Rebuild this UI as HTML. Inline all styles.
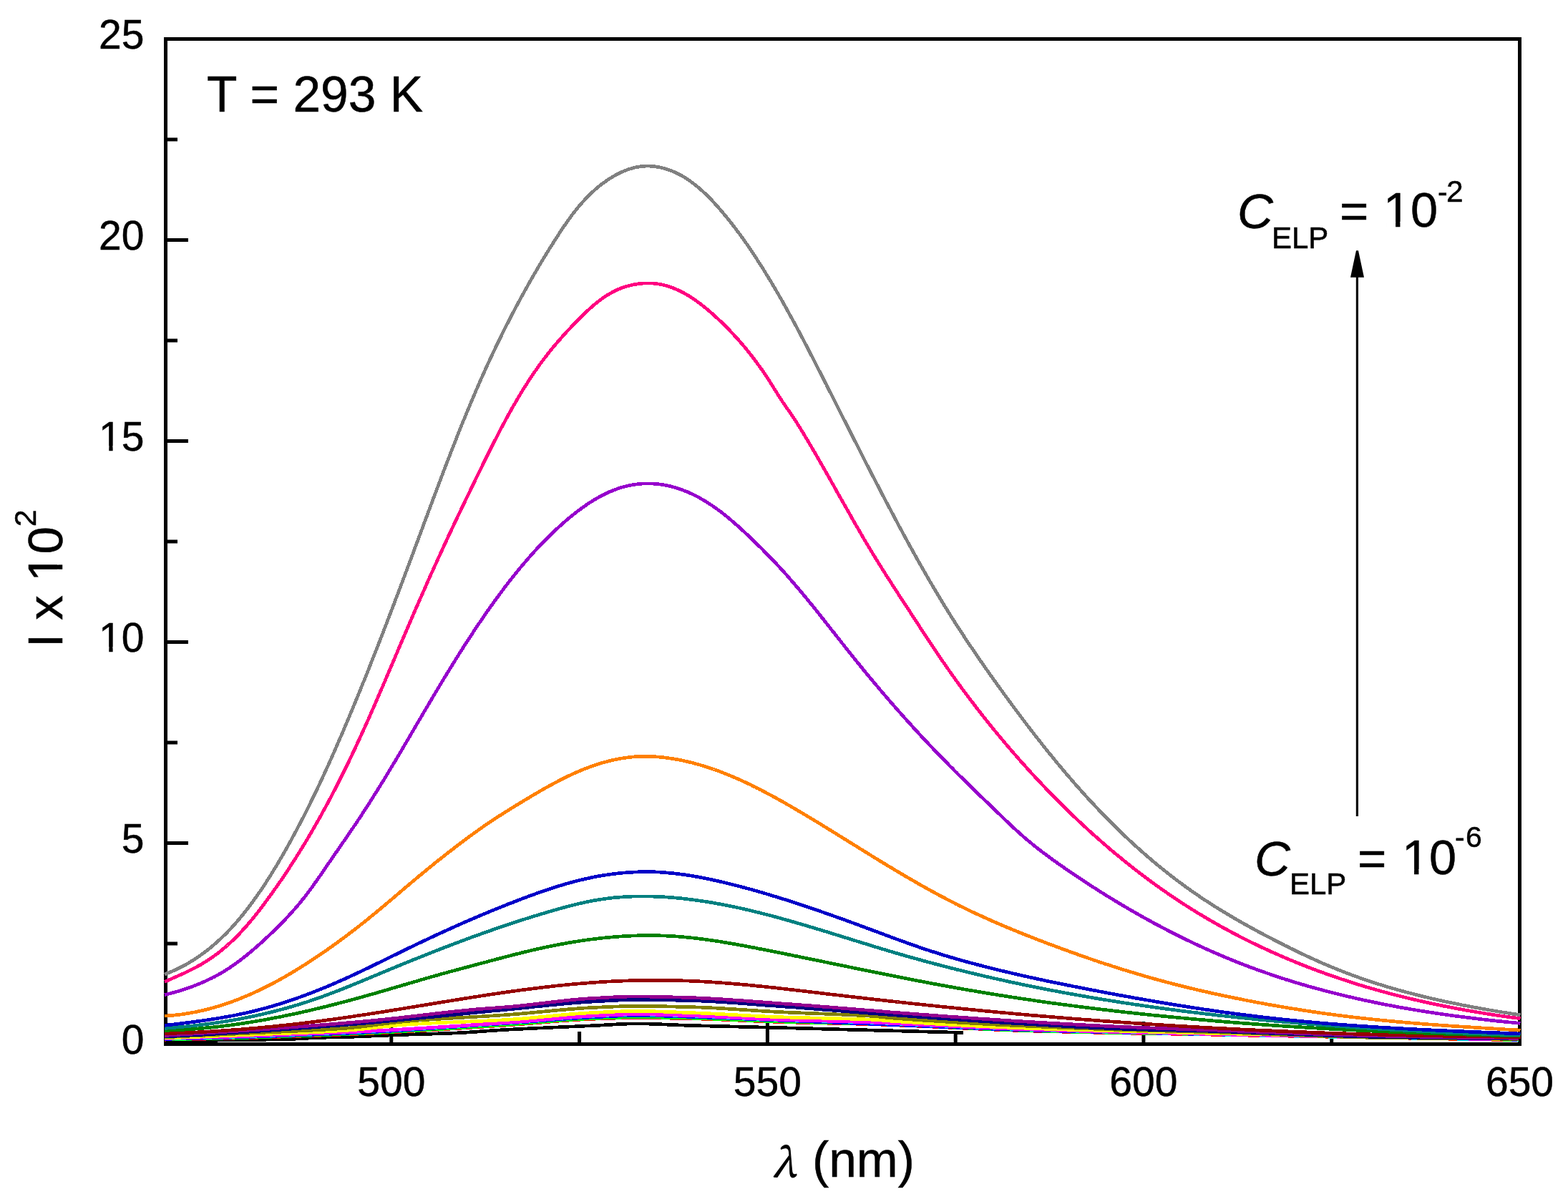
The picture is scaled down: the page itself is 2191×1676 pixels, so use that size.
<!DOCTYPE html>
<html><head><meta charset="utf-8"><style>
html,body{margin:0;padding:0;background:#fff;}
svg{display:block;}
</style></head><body>
<svg xmlns="http://www.w3.org/2000/svg" width="2191" height="1676" viewBox="0 0 2191 1676">
<rect width="2191" height="1676" fill="#ffffff"/>
<rect x="231.5" y="54.5" width="1892.0" height="1405.0" fill="none" stroke="#000" stroke-width="5"/>
<path d="M234 1178.5H263M234 897.5H263M234 616.5H263M234 335.5H263M234 1319.0H248M234 1038.0H248M234 757.0H248M234 476.0H248M234 195.0H248M546.8 1457V1428M1072.4 1457V1428M1597.9 1457V1428M284.1 1457V1442M809.6 1457V1442M1335.2 1457V1442M1860.7 1457V1442" stroke="#000" stroke-width="5" fill="none"/>
<g fill="none" stroke-width="4.7" stroke-linejoin="round" stroke-linecap="butt" shape-rendering="crispEdges">
<path d="M230.0 1455.0L234.0 1455.0L238.0 1454.9L242.0 1454.9L246.0 1454.8L250.0 1454.8L254.0 1454.8L258.0 1454.7L262.0 1454.7L266.0 1454.6L270.0 1454.6L274.0 1454.5L278.0 1454.5L282.0 1454.4L286.0 1454.4L290.0 1454.3L294.0 1454.3L298.0 1454.2L302.0 1454.2L306.0 1454.1L310.0 1454.1L314.0 1454.0L318.0 1454.0L322.0 1453.9L326.0 1453.9L330.0 1453.8L334.0 1453.7L338.0 1453.7L342.0 1453.6L346.0 1453.6L350.0 1453.5L354.0 1453.4L358.0 1453.4L362.0 1453.3L366.0 1453.3L370.0 1453.2L374.0 1453.1L378.0 1453.1L382.0 1453.0L386.0 1452.9L390.0 1452.9L394.0 1452.8L398.0 1452.7L402.0 1452.6L406.0 1452.4L410.0 1452.3L414.0 1452.1L418.0 1451.9L422.0 1451.7L426.0 1451.5L430.0 1451.2L434.0 1451.0L438.0 1450.8L442.0 1450.6L446.0 1450.4L450.0 1450.3L454.0 1450.2L458.0 1450.1L462.0 1450.0L466.0 1449.9L470.0 1449.8L474.0 1449.8L478.0 1449.7L482.0 1449.5L486.0 1449.4L490.0 1449.3L494.0 1449.2L498.0 1449.0L502.0 1448.9L506.0 1448.7L510.0 1448.5L514.0 1448.4L518.0 1448.2L522.0 1448.0L526.0 1447.9L530.0 1447.7L534.0 1447.5L538.0 1447.4L542.0 1447.2L546.0 1447.0L550.0 1446.9L554.0 1446.7L558.0 1446.6L562.0 1446.4L566.0 1446.3L570.0 1446.2L574.0 1446.0L578.0 1445.9L582.0 1445.8L586.0 1445.7L590.0 1445.5L594.0 1445.4L598.0 1445.3L602.0 1445.2L606.0 1445.1L610.0 1444.9L614.0 1444.8L618.0 1444.7L622.0 1444.5L626.0 1444.4L630.0 1444.2L634.0 1444.1L638.0 1443.9L642.0 1443.7L646.0 1443.5L650.0 1443.3L654.0 1443.0L658.0 1442.7L662.0 1442.5L666.0 1442.2L670.0 1441.9L674.0 1441.6L678.0 1441.3L682.0 1441.0L686.0 1440.7L690.0 1440.4L694.0 1440.2L698.0 1439.9L702.0 1439.7L706.0 1439.5L710.0 1439.2L714.0 1439.0L718.0 1438.8L722.0 1438.6L726.0 1438.4L730.0 1438.2L734.0 1438.0L738.0 1437.8L742.0 1437.6L746.0 1437.4L750.0 1437.2L754.0 1437.0L758.0 1436.9L762.0 1436.7L766.0 1436.5L770.0 1436.3L774.0 1436.1L778.0 1435.9L782.0 1435.8L786.0 1435.6L790.0 1435.4L794.0 1435.2L798.0 1435.0L802.0 1434.9L806.0 1434.7L810.0 1434.5L814.0 1434.3L818.0 1434.1L822.0 1434.0L826.0 1433.8L830.0 1433.6L834.0 1433.4L838.0 1433.2L842.0 1433.0L846.0 1432.7L850.0 1432.5L854.0 1432.3L858.0 1432.0L862.0 1431.8L866.0 1431.6L870.0 1431.4L874.0 1431.2L878.0 1431.1L882.0 1431.0L886.0 1430.9L890.0 1430.9L894.0 1430.9L898.0 1431.0L902.0 1431.0L906.0 1431.1L910.0 1431.3L914.0 1431.4L918.0 1431.5L922.0 1431.7L926.0 1431.9L930.0 1432.1L934.0 1432.2L938.0 1432.4L942.0 1432.6L946.0 1432.8L950.0 1432.9L954.0 1433.1L958.0 1433.2L962.0 1433.4L966.0 1433.5L970.0 1433.6L974.0 1433.7L978.0 1433.8L982.0 1433.9L986.0 1434.0L990.0 1434.1L994.0 1434.2L998.0 1434.3L1002.0 1434.4L1006.0 1434.5L1010.0 1434.6L1014.0 1434.7L1018.0 1434.8L1022.0 1434.9L1026.0 1435.0L1030.0 1435.1L1034.0 1435.2L1038.0 1435.3L1042.0 1435.4L1046.0 1435.5L1050.0 1435.6L1054.0 1435.7L1058.0 1435.8L1062.0 1435.9L1066.0 1436.0L1070.0 1436.1L1074.0 1436.2L1078.0 1436.3L1082.0 1436.4L1086.0 1436.5L1090.0 1436.6L1094.0 1436.7L1098.0 1436.8L1102.0 1436.9L1106.0 1437.0L1110.0 1437.1L1114.0 1437.2L1118.0 1437.3L1122.0 1437.4L1126.0 1437.6L1130.0 1437.7L1134.0 1437.8L1138.0 1437.9L1142.0 1438.0L1146.0 1438.1L1150.0 1438.2L1154.0 1438.3L1158.0 1438.4L1162.0 1438.5L1166.0 1438.6L1170.0 1438.7L1174.0 1438.9L1178.0 1439.0L1182.0 1439.1L1186.0 1439.2L1190.0 1439.3L1194.0 1439.4L1198.0 1439.5L1202.0 1439.6L1206.0 1439.7L1210.0 1439.8L1214.0 1439.9L1218.0 1440.0L1222.0 1440.2L1226.0 1440.3L1230.0 1440.4L1234.0 1440.5L1238.0 1440.6L1242.0 1440.7L1246.0 1440.8L1250.0 1440.9L1254.0 1441.0L1258.0 1441.1L1262.0 1441.2L1266.0 1441.3L1270.0 1441.4L1274.0 1441.5L1278.0 1441.6L1282.0 1441.8L1286.0 1441.9L1290.0 1442.0L1294.0 1442.1L1298.0 1442.2L1302.0 1442.3L1306.0 1442.4L1310.0 1442.5L1314.0 1442.6L1318.0 1442.7L1322.0 1442.8L1326.0 1442.9L1330.0 1443.0L1334.0 1443.1L1338.0 1443.2L1342.0 1443.3L1346.0 1443.4L1346.0 1443.4" stroke="#000000"/>
<path d="M230.0 1453.2L234.0 1453.1L238.0 1453.1L242.0 1453.0L246.0 1453.0L250.0 1452.9L254.0 1452.8L258.0 1452.7L262.0 1452.7L266.0 1452.6L270.0 1452.5L274.0 1452.4L278.0 1452.3L282.0 1452.3L286.0 1452.2L290.0 1452.1L294.0 1452.0L298.0 1451.9L302.0 1451.8L306.0 1451.7L310.0 1451.6L314.0 1451.5L318.0 1451.4L322.0 1451.3L326.0 1451.2L330.0 1451.1L334.0 1451.0L338.0 1450.9L342.0 1450.7L346.0 1450.6L350.0 1450.5L354.0 1450.4L358.0 1450.3L362.0 1450.1L366.0 1450.0L370.0 1449.9L374.0 1449.8L378.0 1449.6L382.0 1449.5L386.0 1449.4L390.0 1449.2L394.0 1449.1L398.0 1449.0L402.0 1448.8L406.0 1448.7L410.0 1448.6L414.0 1448.4L418.0 1448.3L422.0 1448.1L426.0 1448.0L430.0 1447.9L434.0 1447.7L438.0 1447.6L442.0 1447.4L446.0 1447.3L450.0 1447.1L454.0 1447.0L458.0 1446.8L462.0 1446.7L466.0 1446.5L470.0 1446.4L474.0 1446.2L478.0 1446.1L482.0 1445.9L486.0 1445.8L490.0 1445.6L494.0 1445.4L498.0 1445.3L502.0 1445.1L506.0 1444.9L510.0 1444.7L514.0 1444.6L518.0 1444.4L522.0 1444.2L526.0 1444.0L530.0 1443.8L534.0 1443.6L538.0 1443.4L542.0 1443.2L546.0 1443.0L550.0 1442.8L554.0 1442.5L558.0 1442.3L562.0 1442.1L566.0 1441.9L570.0 1441.7L574.0 1441.4L578.0 1441.2L582.0 1441.0L586.0 1440.7L590.0 1440.5L594.0 1440.3L598.0 1440.0L602.0 1439.8L606.0 1439.5L610.0 1439.3L614.0 1439.1L618.0 1438.8L622.0 1438.6L626.0 1438.3L630.0 1438.1L634.0 1437.8L638.0 1437.6L642.0 1437.3L646.0 1437.1L650.0 1436.8L654.0 1436.6L658.0 1436.3L662.0 1436.0L666.0 1435.8L670.0 1435.5L674.0 1435.3L678.0 1435.0L682.0 1434.8L686.0 1434.5L690.0 1434.2L694.0 1434.0L698.0 1433.7L702.0 1433.5L706.0 1433.2L710.0 1432.9L714.0 1432.6L718.0 1432.3L722.0 1432.0L726.0 1431.7L730.0 1431.4L734.0 1431.1L738.0 1430.7L742.0 1430.4L746.0 1430.1L750.0 1429.7L754.0 1429.4L758.0 1429.0L762.0 1428.7L766.0 1428.4L770.0 1428.0L774.0 1427.7L778.0 1427.4L782.0 1427.1L786.0 1426.8L790.0 1426.5L794.0 1426.2L798.0 1425.9L802.0 1425.7L806.0 1425.4L810.0 1425.2L814.0 1424.9L818.0 1424.7L822.0 1424.5L826.0 1424.4L830.0 1424.2L834.0 1424.1L838.0 1423.9L842.0 1423.8L846.0 1423.6L850.0 1423.5L854.0 1423.3L858.0 1423.2L862.0 1423.1L866.0 1423.0L870.0 1422.9L874.0 1422.8L878.0 1422.7L882.0 1422.6L886.0 1422.6L890.0 1422.6L894.0 1422.6L898.0 1422.6L902.0 1422.6L906.0 1422.7L910.0 1422.7L914.0 1422.8L918.0 1422.8L922.0 1422.9L926.0 1422.9L930.0 1423.0L934.0 1423.1L938.0 1423.2L942.0 1423.2L946.0 1423.3L950.0 1423.4L954.0 1423.5L958.0 1423.6L962.0 1423.6L966.0 1423.7L970.0 1423.8L974.0 1423.9L978.0 1424.1L982.0 1424.2L986.0 1424.3L990.0 1424.5L994.0 1424.6L998.0 1424.8L1002.0 1424.9L1006.0 1425.1L1010.0 1425.2L1014.0 1425.4L1018.0 1425.6L1022.0 1425.7L1026.0 1425.9L1030.0 1426.1L1034.0 1426.3L1038.0 1426.5L1042.0 1426.6L1046.0 1426.8L1050.0 1427.0L1054.0 1427.2L1058.0 1427.3L1062.0 1427.5L1066.0 1427.6L1070.0 1427.8L1074.0 1428.0L1078.0 1428.1L1082.0 1428.2L1086.0 1428.4L1090.0 1428.5L1094.0 1428.6L1098.0 1428.7L1102.0 1428.8L1106.0 1429.0L1110.0 1429.1L1114.0 1429.2L1118.0 1429.3L1122.0 1429.4L1126.0 1429.5L1130.0 1429.6L1134.0 1429.7L1138.0 1429.8L1142.0 1429.8L1146.0 1429.9L1150.0 1430.0L1154.0 1430.1L1158.0 1430.2L1162.0 1430.3L1166.0 1430.4L1170.0 1430.5L1174.0 1430.6L1178.0 1430.7L1182.0 1430.8L1186.0 1430.9L1190.0 1431.0L1194.0 1431.1L1198.0 1431.2L1202.0 1431.3L1206.0 1431.4L1210.0 1431.5L1214.0 1431.6L1218.0 1431.7L1222.0 1431.9L1226.0 1432.0L1230.0 1432.1L1234.0 1432.3L1238.0 1432.4L1242.0 1432.5L1246.0 1432.7L1250.0 1432.8L1254.0 1433.0L1258.0 1433.2L1262.0 1433.3L1266.0 1433.5L1270.0 1433.7L1274.0 1433.8L1278.0 1434.0L1282.0 1434.2L1286.0 1434.4L1290.0 1434.5L1294.0 1434.7L1298.0 1434.9L1302.0 1435.1L1306.0 1435.3L1310.0 1435.5L1314.0 1435.7L1318.0 1435.8L1322.0 1436.0L1326.0 1436.2L1330.0 1436.4L1334.0 1436.6L1338.0 1436.8L1342.0 1437.0L1346.0 1437.2L1350.0 1437.4L1354.0 1437.6L1358.0 1437.7L1362.0 1437.9L1366.0 1438.1L1370.0 1438.3L1374.0 1438.5L1378.0 1438.6L1382.0 1438.8L1386.0 1439.0L1390.0 1439.2L1394.0 1439.3L1398.0 1439.5L1402.0 1439.7L1406.0 1439.8L1410.0 1440.0L1414.0 1440.1L1418.0 1440.3L1422.0 1440.4L1426.0 1440.6L1430.0 1440.7L1434.0 1440.8L1438.0 1441.0L1442.0 1441.1L1446.0 1441.2L1450.0 1441.3L1454.0 1441.4L1458.0 1441.5L1462.0 1441.6L1466.0 1441.7L1470.0 1441.8L1474.0 1441.9L1478.0 1442.0L1482.0 1442.1L1486.0 1442.2L1490.0 1442.3L1494.0 1442.4L1498.0 1442.5L1502.0 1442.6L1506.0 1442.7L1510.0 1442.8L1514.0 1442.8L1518.0 1442.9L1522.0 1443.0L1526.0 1443.1L1530.0 1443.2L1534.0 1443.3L1538.0 1443.3L1542.0 1443.4L1546.0 1443.5L1550.0 1443.6L1554.0 1443.7L1558.0 1443.7L1562.0 1443.8L1566.0 1443.9L1570.0 1444.0L1574.0 1444.0L1578.0 1444.1L1582.0 1444.2L1586.0 1444.3L1590.0 1444.3L1594.0 1444.4L1598.0 1444.5L1602.0 1444.5L1606.0 1444.6L1610.0 1444.7L1614.0 1444.8L1618.0 1444.8L1622.0 1444.9L1626.0 1445.0L1630.0 1445.0L1634.0 1445.1L1638.0 1445.2L1642.0 1445.3L1646.0 1445.3L1650.0 1445.4L1654.0 1445.5L1658.0 1445.5L1662.0 1445.6L1666.0 1445.7L1670.0 1445.7L1674.0 1445.8L1678.0 1445.9L1682.0 1446.0L1686.0 1446.0L1690.0 1446.1L1694.0 1446.2L1698.0 1446.3L1702.0 1446.3L1706.0 1446.4L1710.0 1446.5L1714.0 1446.6L1718.0 1446.6L1722.0 1446.7L1726.0 1446.8L1730.0 1446.9L1734.0 1446.9L1738.0 1447.0L1742.0 1447.1L1746.0 1447.2L1750.0 1447.2L1754.0 1447.3L1758.0 1447.4L1762.0 1447.5L1766.0 1447.5L1770.0 1447.6L1774.0 1447.7L1778.0 1447.8L1782.0 1447.8L1786.0 1447.9L1790.0 1448.0L1794.0 1448.1L1798.0 1448.1L1802.0 1448.2L1806.0 1448.3L1810.0 1448.4L1814.0 1448.4L1818.0 1448.5L1822.0 1448.6L1826.0 1448.6L1830.0 1448.7L1834.0 1448.8L1838.0 1448.9L1842.0 1448.9L1846.0 1449.0L1850.0 1449.1L1854.0 1449.2L1858.0 1449.2L1862.0 1449.3L1866.0 1449.4L1870.0 1449.4L1874.0 1449.5L1878.0 1449.6L1882.0 1449.7L1886.0 1449.7L1890.0 1449.8L1894.0 1449.9L1898.0 1449.9L1902.0 1450.0L1906.0 1450.1L1910.0 1450.2L1914.0 1450.2L1918.0 1450.3L1922.0 1450.4L1926.0 1450.4L1930.0 1450.5L1934.0 1450.6L1938.0 1450.7L1942.0 1450.7L1946.0 1450.8L1950.0 1450.9L1954.0 1450.9L1958.0 1451.0L1962.0 1451.1L1966.0 1451.1L1970.0 1451.2L1974.0 1451.3L1978.0 1451.4L1982.0 1451.4L1986.0 1451.5L1990.0 1451.6L1994.0 1451.6L1998.0 1451.7L2002.0 1451.8L2006.0 1451.8L2010.0 1451.9L2014.0 1452.0L2018.0 1452.0L2022.0 1452.1L2026.0 1452.2L2030.0 1452.3L2034.0 1452.3L2038.0 1452.4L2042.0 1452.5L2046.0 1452.5L2050.0 1452.6L2054.0 1452.7L2058.0 1452.7L2062.0 1452.8L2066.0 1452.9L2070.0 1452.9L2074.0 1453.0L2078.0 1453.1L2082.0 1453.1L2086.0 1453.2L2090.0 1453.3L2094.0 1453.3L2098.0 1453.4L2102.0 1453.5L2106.0 1453.5L2110.0 1453.6L2114.0 1453.7L2118.0 1453.7L2122.0 1453.8L2122.0 1453.8" stroke="#ff0000"/>
<path d="M230.0 1452.8L234.0 1452.7L238.0 1452.7L242.0 1452.6L246.0 1452.5L250.0 1452.5L254.0 1452.4L258.0 1452.3L262.0 1452.3L266.0 1452.2L270.0 1452.1L274.0 1452.0L278.0 1451.9L282.0 1451.8L286.0 1451.8L290.0 1451.7L294.0 1451.6L298.0 1451.5L302.0 1451.4L306.0 1451.3L310.0 1451.2L314.0 1451.1L318.0 1451.0L322.0 1450.9L326.0 1450.8L330.0 1450.6L334.0 1450.5L338.0 1450.4L342.0 1450.3L346.0 1450.2L350.0 1450.1L354.0 1449.9L358.0 1449.8L362.0 1449.7L366.0 1449.6L370.0 1449.4L374.0 1449.3L378.0 1449.2L382.0 1449.1L386.0 1448.9L390.0 1448.8L394.0 1448.7L398.0 1448.5L402.0 1448.4L406.0 1448.2L410.0 1448.1L414.0 1448.0L418.0 1447.8L422.0 1447.7L426.0 1447.5L430.0 1447.4L434.0 1447.2L438.0 1447.1L442.0 1446.9L446.0 1446.8L450.0 1446.6L454.0 1446.5L458.0 1446.3L462.0 1446.2L466.0 1446.0L470.0 1445.9L474.0 1445.7L478.0 1445.6L482.0 1445.4L486.0 1445.3L490.0 1445.1L494.0 1444.9L498.0 1444.8L502.0 1444.6L506.0 1444.4L510.0 1444.2L514.0 1444.0L518.0 1443.9L522.0 1443.7L526.0 1443.5L530.0 1443.3L534.0 1443.1L538.0 1442.9L542.0 1442.7L546.0 1442.4L550.0 1442.2L554.0 1442.0L558.0 1441.8L562.0 1441.6L566.0 1441.3L570.0 1441.1L574.0 1440.9L578.0 1440.7L582.0 1440.4L586.0 1440.2L590.0 1440.0L594.0 1439.7L598.0 1439.5L602.0 1439.2L606.0 1439.0L610.0 1438.8L614.0 1438.5L618.0 1438.3L622.0 1438.0L626.0 1437.8L630.0 1437.5L634.0 1437.3L638.0 1437.0L642.0 1436.7L646.0 1436.5L650.0 1436.2L654.0 1436.0L658.0 1435.7L662.0 1435.5L666.0 1435.2L670.0 1434.9L674.0 1434.7L678.0 1434.4L682.0 1434.2L686.0 1433.9L690.0 1433.6L694.0 1433.4L698.0 1433.1L702.0 1432.9L706.0 1432.6L710.0 1432.3L714.0 1432.0L718.0 1431.7L722.0 1431.4L726.0 1431.1L730.0 1430.8L734.0 1430.4L738.0 1430.1L742.0 1429.8L746.0 1429.4L750.0 1429.1L754.0 1428.8L758.0 1428.4L762.0 1428.1L766.0 1427.7L770.0 1427.4L774.0 1427.1L778.0 1426.8L782.0 1426.4L786.0 1426.1L790.0 1425.8L794.0 1425.5L798.0 1425.3L802.0 1425.0L806.0 1424.7L810.0 1424.5L814.0 1424.3L818.0 1424.0L822.0 1423.8L826.0 1423.7L830.0 1423.5L834.0 1423.3L838.0 1423.2L842.0 1423.0L846.0 1422.9L850.0 1422.7L854.0 1422.6L858.0 1422.4L862.0 1422.3L866.0 1422.2L870.0 1422.1L874.0 1422.0L878.0 1421.9L882.0 1421.8L886.0 1421.8L890.0 1421.8L894.0 1421.8L898.0 1421.8L902.0 1421.9L906.0 1421.9L910.0 1421.9L914.0 1422.0L918.0 1422.1L922.0 1422.1L926.0 1422.2L930.0 1422.3L934.0 1422.4L938.0 1422.5L942.0 1422.6L946.0 1422.7L950.0 1422.8L954.0 1422.9L958.0 1423.0L962.0 1423.0L966.0 1423.1L970.0 1423.3L974.0 1423.4L978.0 1423.5L982.0 1423.6L986.0 1423.8L990.0 1423.9L994.0 1424.1L998.0 1424.2L1002.0 1424.4L1006.0 1424.5L1010.0 1424.7L1014.0 1424.9L1018.0 1425.1L1022.0 1425.2L1026.0 1425.4L1030.0 1425.6L1034.0 1425.8L1038.0 1425.9L1042.0 1426.1L1046.0 1426.3L1050.0 1426.5L1054.0 1426.6L1058.0 1426.8L1062.0 1427.0L1066.0 1427.1L1070.0 1427.3L1074.0 1427.4L1078.0 1427.6L1082.0 1427.7L1086.0 1427.9L1090.0 1428.0L1094.0 1428.1L1098.0 1428.2L1102.0 1428.4L1106.0 1428.5L1110.0 1428.6L1114.0 1428.7L1118.0 1428.8L1122.0 1428.9L1126.0 1429.0L1130.0 1429.1L1134.0 1429.2L1138.0 1429.3L1142.0 1429.4L1146.0 1429.5L1150.0 1429.6L1154.0 1429.7L1158.0 1429.8L1162.0 1429.9L1166.0 1430.0L1170.0 1430.1L1174.0 1430.1L1178.0 1430.2L1182.0 1430.3L1186.0 1430.4L1190.0 1430.5L1194.0 1430.7L1198.0 1430.8L1202.0 1430.9L1206.0 1431.0L1210.0 1431.1L1214.0 1431.2L1218.0 1431.3L1222.0 1431.5L1226.0 1431.6L1230.0 1431.7L1234.0 1431.9L1238.0 1432.0L1242.0 1432.2L1246.0 1432.3L1250.0 1432.5L1254.0 1432.6L1258.0 1432.8L1262.0 1433.0L1266.0 1433.1L1270.0 1433.3L1274.0 1433.5L1278.0 1433.6L1282.0 1433.8L1286.0 1434.0L1290.0 1434.2L1294.0 1434.4L1298.0 1434.6L1302.0 1434.7L1306.0 1434.9L1310.0 1435.1L1314.0 1435.3L1318.0 1435.5L1322.0 1435.7L1326.0 1435.9L1330.0 1436.1L1334.0 1436.3L1338.0 1436.5L1342.0 1436.7L1346.0 1436.8L1350.0 1437.0L1354.0 1437.2L1358.0 1437.4L1362.0 1437.6L1366.0 1437.8L1370.0 1438.0L1374.0 1438.2L1378.0 1438.3L1382.0 1438.5L1386.0 1438.7L1390.0 1438.9L1394.0 1439.0L1398.0 1439.2L1402.0 1439.4L1406.0 1439.5L1410.0 1439.7L1414.0 1439.8L1418.0 1440.0L1422.0 1440.1L1426.0 1440.3L1430.0 1440.4L1434.0 1440.5L1438.0 1440.7L1442.0 1440.8L1446.0 1440.9L1450.0 1441.0L1454.0 1441.1L1458.0 1441.2L1462.0 1441.3L1466.0 1441.4L1470.0 1441.5L1474.0 1441.6L1478.0 1441.7L1482.0 1441.8L1486.0 1441.9L1490.0 1442.0L1494.0 1442.1L1498.0 1442.2L1502.0 1442.3L1506.0 1442.4L1510.0 1442.5L1514.0 1442.5L1518.0 1442.6L1522.0 1442.7L1526.0 1442.8L1530.0 1442.9L1534.0 1443.0L1538.0 1443.0L1542.0 1443.1L1546.0 1443.2L1550.0 1443.3L1554.0 1443.4L1558.0 1443.4L1562.0 1443.5L1566.0 1443.6L1570.0 1443.7L1574.0 1443.7L1578.0 1443.8L1582.0 1443.9L1586.0 1444.0L1590.0 1444.0L1594.0 1444.1L1598.0 1444.2L1602.0 1444.2L1606.0 1444.3L1610.0 1444.4L1614.0 1444.5L1618.0 1444.5L1622.0 1444.6L1626.0 1444.7L1630.0 1444.7L1634.0 1444.8L1638.0 1444.9L1642.0 1445.0L1646.0 1445.0L1650.0 1445.1L1654.0 1445.2L1658.0 1445.2L1662.0 1445.3L1666.0 1445.4L1670.0 1445.4L1674.0 1445.5L1678.0 1445.6L1682.0 1445.7L1686.0 1445.7L1690.0 1445.8L1694.0 1445.9L1698.0 1446.0L1702.0 1446.0L1706.0 1446.1L1710.0 1446.2L1714.0 1446.3L1718.0 1446.3L1722.0 1446.4L1726.0 1446.5L1730.0 1446.6L1734.0 1446.6L1738.0 1446.7L1742.0 1446.8L1746.0 1446.9L1750.0 1446.9L1754.0 1447.0L1758.0 1447.1L1762.0 1447.2L1766.0 1447.2L1770.0 1447.3L1774.0 1447.4L1778.0 1447.5L1782.0 1447.5L1786.0 1447.6L1790.0 1447.7L1794.0 1447.8L1798.0 1447.8L1802.0 1447.9L1806.0 1448.0L1810.0 1448.1L1814.0 1448.1L1818.0 1448.2L1822.0 1448.3L1826.0 1448.3L1830.0 1448.4L1834.0 1448.5L1838.0 1448.6L1842.0 1448.6L1846.0 1448.7L1850.0 1448.8L1854.0 1448.9L1858.0 1448.9L1862.0 1449.0L1866.0 1449.1L1870.0 1449.1L1874.0 1449.2L1878.0 1449.3L1882.0 1449.4L1886.0 1449.4L1890.0 1449.5L1894.0 1449.6L1898.0 1449.6L1902.0 1449.7L1906.0 1449.8L1910.0 1449.9L1914.0 1449.9L1918.0 1450.0L1922.0 1450.1L1926.0 1450.1L1930.0 1450.2L1934.0 1450.3L1938.0 1450.4L1942.0 1450.4L1946.0 1450.5L1950.0 1450.6L1954.0 1450.6L1958.0 1450.7L1962.0 1450.8L1966.0 1450.8L1970.0 1450.9L1974.0 1451.0L1978.0 1451.1L1982.0 1451.1L1986.0 1451.2L1990.0 1451.3L1994.0 1451.3L1998.0 1451.4L2002.0 1451.5L2006.0 1451.5L2010.0 1451.6L2014.0 1451.7L2018.0 1451.7L2022.0 1451.8L2026.0 1451.9L2030.0 1452.0L2034.0 1452.0L2038.0 1452.1L2042.0 1452.2L2046.0 1452.2L2050.0 1452.3L2054.0 1452.4L2058.0 1452.4L2062.0 1452.5L2066.0 1452.6L2070.0 1452.6L2074.0 1452.7L2078.0 1452.8L2082.0 1452.8L2086.0 1452.9L2090.0 1453.0L2094.0 1453.0L2098.0 1453.1L2102.0 1453.2L2106.0 1453.2L2110.0 1453.3L2114.0 1453.4L2118.0 1453.4L2122.0 1453.5L2122.0 1453.5" stroke="#00ff00"/>
<path d="M230.0 1452.3L234.0 1452.2L238.0 1452.2L242.0 1452.1L246.0 1452.0L250.0 1452.0L254.0 1451.9L258.0 1451.8L262.0 1451.7L266.0 1451.6L270.0 1451.6L274.0 1451.5L278.0 1451.4L282.0 1451.3L286.0 1451.2L290.0 1451.1L294.0 1451.0L298.0 1450.9L302.0 1450.8L306.0 1450.7L310.0 1450.6L314.0 1450.5L318.0 1450.4L322.0 1450.2L326.0 1450.1L330.0 1450.0L334.0 1449.9L338.0 1449.8L342.0 1449.6L346.0 1449.5L350.0 1449.4L354.0 1449.3L358.0 1449.1L362.0 1449.0L366.0 1448.9L370.0 1448.7L374.0 1448.6L378.0 1448.5L382.0 1448.3L386.0 1448.2L390.0 1448.0L394.0 1447.9L398.0 1447.7L402.0 1447.6L406.0 1447.4L410.0 1447.3L414.0 1447.1L418.0 1447.0L422.0 1446.8L426.0 1446.7L430.0 1446.5L434.0 1446.4L438.0 1446.2L442.0 1446.0L446.0 1445.9L450.0 1445.7L454.0 1445.6L458.0 1445.4L462.0 1445.2L466.0 1445.1L470.0 1444.9L474.0 1444.7L478.0 1444.6L482.0 1444.4L486.0 1444.2L490.0 1444.1L494.0 1443.9L498.0 1443.7L502.0 1443.5L506.0 1443.3L510.0 1443.1L514.0 1442.9L518.0 1442.7L522.0 1442.5L526.0 1442.3L530.0 1442.1L534.0 1441.8L538.0 1441.6L542.0 1441.4L546.0 1441.2L550.0 1440.9L554.0 1440.7L558.0 1440.4L562.0 1440.2L566.0 1439.9L570.0 1439.7L574.0 1439.4L578.0 1439.2L582.0 1438.9L586.0 1438.7L590.0 1438.4L594.0 1438.2L598.0 1437.9L602.0 1437.6L606.0 1437.4L610.0 1437.1L614.0 1436.8L618.0 1436.6L622.0 1436.3L626.0 1436.0L630.0 1435.8L634.0 1435.5L638.0 1435.2L642.0 1434.9L646.0 1434.7L650.0 1434.4L654.0 1434.1L658.0 1433.8L662.0 1433.6L666.0 1433.3L670.0 1433.0L674.0 1432.7L678.0 1432.5L682.0 1432.2L686.0 1431.9L690.0 1431.7L694.0 1431.4L698.0 1431.1L702.0 1430.9L706.0 1430.6L710.0 1430.3L714.0 1430.0L718.0 1429.7L722.0 1429.4L726.0 1429.1L730.0 1428.8L734.0 1428.5L738.0 1428.2L742.0 1427.9L746.0 1427.6L750.0 1427.3L754.0 1427.0L758.0 1426.7L762.0 1426.3L766.0 1426.0L770.0 1425.7L774.0 1425.4L778.0 1425.1L782.0 1424.8L786.0 1424.5L790.0 1424.2L794.0 1424.0L798.0 1423.7L802.0 1423.4L806.0 1423.2L810.0 1422.9L814.0 1422.7L818.0 1422.4L822.0 1422.2L826.0 1422.0L830.0 1421.8L834.0 1421.6L838.0 1421.4L842.0 1421.2L846.0 1421.0L850.0 1420.8L854.0 1420.6L858.0 1420.4L862.0 1420.2L866.0 1420.0L870.0 1419.9L874.0 1419.8L878.0 1419.6L882.0 1419.6L886.0 1419.5L890.0 1419.5L894.0 1419.5L898.0 1419.5L902.0 1419.6L906.0 1419.6L910.0 1419.7L914.0 1419.8L918.0 1419.9L922.0 1420.0L926.0 1420.1L930.0 1420.2L934.0 1420.4L938.0 1420.5L942.0 1420.6L946.0 1420.8L950.0 1420.9L954.0 1421.0L958.0 1421.1L962.0 1421.3L966.0 1421.4L970.0 1421.5L974.0 1421.6L978.0 1421.8L982.0 1421.9L986.0 1422.1L990.0 1422.2L994.0 1422.3L998.0 1422.5L1002.0 1422.7L1006.0 1422.8L1010.0 1423.0L1014.0 1423.1L1018.0 1423.3L1022.0 1423.5L1026.0 1423.6L1030.0 1423.8L1034.0 1424.0L1038.0 1424.1L1042.0 1424.3L1046.0 1424.5L1050.0 1424.6L1054.0 1424.8L1058.0 1425.0L1062.0 1425.2L1066.0 1425.3L1070.0 1425.5L1074.0 1425.7L1078.0 1425.8L1082.0 1426.0L1086.0 1426.1L1090.0 1426.3L1094.0 1426.5L1098.0 1426.6L1102.0 1426.8L1106.0 1426.9L1110.0 1427.1L1114.0 1427.2L1118.0 1427.4L1122.0 1427.6L1126.0 1427.7L1130.0 1427.9L1134.0 1428.0L1138.0 1428.2L1142.0 1428.3L1146.0 1428.5L1150.0 1428.7L1154.0 1428.8L1158.0 1429.0L1162.0 1429.1L1166.0 1429.3L1170.0 1429.5L1174.0 1429.6L1178.0 1429.8L1182.0 1429.9L1186.0 1430.1L1190.0 1430.2L1194.0 1430.4L1198.0 1430.6L1202.0 1430.7L1206.0 1430.9L1210.0 1431.0L1214.0 1431.2L1218.0 1431.3L1222.0 1431.5L1226.0 1431.7L1230.0 1431.8L1234.0 1432.0L1238.0 1432.1L1242.0 1432.3L1246.0 1432.4L1250.0 1432.6L1254.0 1432.8L1258.0 1432.9L1262.0 1433.1L1266.0 1433.2L1270.0 1433.4L1274.0 1433.6L1278.0 1433.7L1282.0 1433.9L1286.0 1434.1L1290.0 1434.2L1294.0 1434.4L1298.0 1434.6L1302.0 1434.7L1306.0 1434.9L1310.0 1435.1L1314.0 1435.2L1318.0 1435.4L1322.0 1435.6L1326.0 1435.7L1330.0 1435.9L1334.0 1436.1L1338.0 1436.2L1342.0 1436.4L1346.0 1436.6L1350.0 1436.7L1354.0 1436.9L1358.0 1437.1L1362.0 1437.2L1366.0 1437.4L1370.0 1437.5L1374.0 1437.7L1378.0 1437.8L1382.0 1438.0L1386.0 1438.2L1390.0 1438.3L1394.0 1438.5L1398.0 1438.6L1402.0 1438.7L1406.0 1438.9L1410.0 1439.0L1414.0 1439.2L1418.0 1439.3L1422.0 1439.4L1426.0 1439.6L1430.0 1439.7L1434.0 1439.8L1438.0 1439.9L1442.0 1440.1L1446.0 1440.2L1450.0 1440.3L1454.0 1440.4L1458.0 1440.5L1462.0 1440.6L1466.0 1440.7L1470.0 1440.8L1474.0 1441.0L1478.0 1441.1L1482.0 1441.2L1486.0 1441.3L1490.0 1441.4L1494.0 1441.5L1498.0 1441.6L1502.0 1441.7L1506.0 1441.8L1510.0 1441.9L1514.0 1441.9L1518.0 1442.0L1522.0 1442.1L1526.0 1442.2L1530.0 1442.3L1534.0 1442.4L1538.0 1442.5L1542.0 1442.6L1546.0 1442.7L1550.0 1442.8L1554.0 1442.9L1558.0 1442.9L1562.0 1443.0L1566.0 1443.1L1570.0 1443.2L1574.0 1443.3L1578.0 1443.4L1582.0 1443.5L1586.0 1443.5L1590.0 1443.6L1594.0 1443.7L1598.0 1443.8L1602.0 1443.9L1606.0 1444.0L1610.0 1444.1L1614.0 1444.1L1618.0 1444.2L1622.0 1444.3L1626.0 1444.4L1630.0 1444.5L1634.0 1444.6L1638.0 1444.7L1642.0 1444.7L1646.0 1444.8L1650.0 1444.9L1654.0 1445.0L1658.0 1445.1L1662.0 1445.2L1666.0 1445.2L1670.0 1445.3L1674.0 1445.4L1678.0 1445.5L1682.0 1445.6L1686.0 1445.7L1690.0 1445.7L1694.0 1445.8L1698.0 1445.9L1702.0 1446.0L1706.0 1446.1L1710.0 1446.2L1714.0 1446.2L1718.0 1446.3L1722.0 1446.4L1726.0 1446.5L1730.0 1446.6L1734.0 1446.6L1738.0 1446.7L1742.0 1446.8L1746.0 1446.9L1750.0 1447.0L1754.0 1447.0L1758.0 1447.1L1762.0 1447.2L1766.0 1447.3L1770.0 1447.4L1774.0 1447.4L1778.0 1447.5L1782.0 1447.6L1786.0 1447.7L1790.0 1447.8L1794.0 1447.8L1798.0 1447.9L1802.0 1448.0L1806.0 1448.1L1810.0 1448.1L1814.0 1448.2L1818.0 1448.3L1822.0 1448.4L1826.0 1448.5L1830.0 1448.5L1834.0 1448.6L1838.0 1448.7L1842.0 1448.8L1846.0 1448.8L1850.0 1448.9L1854.0 1449.0L1858.0 1449.1L1862.0 1449.1L1866.0 1449.2L1870.0 1449.3L1874.0 1449.3L1878.0 1449.4L1882.0 1449.5L1886.0 1449.6L1890.0 1449.6L1894.0 1449.7L1898.0 1449.8L1902.0 1449.9L1906.0 1449.9L1910.0 1450.0L1914.0 1450.1L1918.0 1450.1L1922.0 1450.2L1926.0 1450.3L1930.0 1450.3L1934.0 1450.4L1938.0 1450.5L1942.0 1450.5L1946.0 1450.6L1950.0 1450.7L1954.0 1450.8L1958.0 1450.8L1962.0 1450.9L1966.0 1451.0L1970.0 1451.0L1974.0 1451.1L1978.0 1451.2L1982.0 1451.2L1986.0 1451.3L1990.0 1451.3L1994.0 1451.4L1998.0 1451.5L2002.0 1451.5L2006.0 1451.6L2010.0 1451.7L2014.0 1451.7L2018.0 1451.8L2022.0 1451.9L2026.0 1451.9L2030.0 1452.0L2034.0 1452.0L2038.0 1452.1L2042.0 1452.2L2046.0 1452.2L2050.0 1452.3L2054.0 1452.3L2058.0 1452.4L2062.0 1452.5L2066.0 1452.5L2070.0 1452.6L2074.0 1452.6L2078.0 1452.7L2082.0 1452.7L2086.0 1452.8L2090.0 1452.9L2094.0 1452.9L2098.0 1453.0L2102.0 1453.0L2106.0 1453.1L2110.0 1453.1L2114.0 1453.2L2118.0 1453.2L2122.0 1453.3L2122.0 1453.3" stroke="#0000ff"/>
<path d="M230.0 1451.8L234.0 1451.7L238.0 1451.6L242.0 1451.5L246.0 1451.5L250.0 1451.4L254.0 1451.3L258.0 1451.2L262.0 1451.1L266.0 1451.0L270.0 1450.9L274.0 1450.8L278.0 1450.7L282.0 1450.5L286.0 1450.4L290.0 1450.3L294.0 1450.2L298.0 1450.1L302.0 1450.0L306.0 1449.9L310.0 1449.7L314.0 1449.6L318.0 1449.5L322.0 1449.4L326.0 1449.2L330.0 1449.1L334.0 1449.0L338.0 1448.8L342.0 1448.7L346.0 1448.6L350.0 1448.4L354.0 1448.3L358.0 1448.2L362.0 1448.0L366.0 1447.9L370.0 1447.7L374.0 1447.6L378.0 1447.4L382.0 1447.3L386.0 1447.1L390.0 1447.0L394.0 1446.8L398.0 1446.7L402.0 1446.5L406.0 1446.4L410.0 1446.2L414.0 1446.1L418.0 1445.9L422.0 1445.7L426.0 1445.6L430.0 1445.4L434.0 1445.2L438.0 1445.1L442.0 1444.9L446.0 1444.7L450.0 1444.6L454.0 1444.4L458.0 1444.2L462.0 1444.1L466.0 1443.9L470.0 1443.7L474.0 1443.6L478.0 1443.4L482.0 1443.2L486.0 1443.0L490.0 1442.9L494.0 1442.7L498.0 1442.5L502.0 1442.3L506.0 1442.1L510.0 1441.9L514.0 1441.7L518.0 1441.5L522.0 1441.3L526.0 1441.1L530.0 1440.9L534.0 1440.7L538.0 1440.5L542.0 1440.3L546.0 1440.0L550.0 1439.8L554.0 1439.6L558.0 1439.4L562.0 1439.1L566.0 1438.9L570.0 1438.7L574.0 1438.4L578.0 1438.2L582.0 1438.0L586.0 1437.7L590.0 1437.5L594.0 1437.2L598.0 1437.0L602.0 1436.7L606.0 1436.5L610.0 1436.2L614.0 1436.0L618.0 1435.7L622.0 1435.5L626.0 1435.2L630.0 1435.0L634.0 1434.7L638.0 1434.4L642.0 1434.2L646.0 1433.9L650.0 1433.7L654.0 1433.4L658.0 1433.1L662.0 1432.9L666.0 1432.6L670.0 1432.3L674.0 1432.1L678.0 1431.8L682.0 1431.5L686.0 1431.2L690.0 1431.0L694.0 1430.7L698.0 1430.4L702.0 1430.1L706.0 1429.9L710.0 1429.6L714.0 1429.3L718.0 1429.0L722.0 1428.7L726.0 1428.4L730.0 1428.1L734.0 1427.8L738.0 1427.4L742.0 1427.1L746.0 1426.7L750.0 1426.4L754.0 1426.0L758.0 1425.7L762.0 1425.3L766.0 1424.9L770.0 1424.6L774.0 1424.2L778.0 1423.9L782.0 1423.5L786.0 1423.2L790.0 1422.9L794.0 1422.6L798.0 1422.2L802.0 1421.9L806.0 1421.7L810.0 1421.4L814.0 1421.1L818.0 1420.9L822.0 1420.6L826.0 1420.4L830.0 1420.2L834.0 1420.0L838.0 1419.8L842.0 1419.6L846.0 1419.4L850.0 1419.2L854.0 1419.0L858.0 1418.8L862.0 1418.7L866.0 1418.5L870.0 1418.4L874.0 1418.2L878.0 1418.1L882.0 1418.1L886.0 1418.0L890.0 1418.0L894.0 1418.0L898.0 1418.0L902.0 1418.1L906.0 1418.1L910.0 1418.2L914.0 1418.3L918.0 1418.4L922.0 1418.5L926.0 1418.7L930.0 1418.8L934.0 1418.9L938.0 1419.1L942.0 1419.2L946.0 1419.3L950.0 1419.5L954.0 1419.6L958.0 1419.7L962.0 1419.9L966.0 1420.0L970.0 1420.1L974.0 1420.3L978.0 1420.4L982.0 1420.6L986.0 1420.8L990.0 1420.9L994.0 1421.1L998.0 1421.3L1002.0 1421.5L1006.0 1421.7L1010.0 1421.9L1014.0 1422.1L1018.0 1422.3L1022.0 1422.4L1026.0 1422.6L1030.0 1422.8L1034.0 1423.0L1038.0 1423.2L1042.0 1423.4L1046.0 1423.6L1050.0 1423.8L1054.0 1424.0L1058.0 1424.2L1062.0 1424.4L1066.0 1424.5L1070.0 1424.7L1074.0 1424.9L1078.0 1425.0L1082.0 1425.2L1086.0 1425.4L1090.0 1425.5L1094.0 1425.6L1098.0 1425.8L1102.0 1425.9L1106.0 1426.0L1110.0 1426.1L1114.0 1426.3L1118.0 1426.4L1122.0 1426.5L1126.0 1426.6L1130.0 1426.7L1134.0 1426.8L1138.0 1426.9L1142.0 1427.0L1146.0 1427.1L1150.0 1427.2L1154.0 1427.3L1158.0 1427.4L1162.0 1427.5L1166.0 1427.6L1170.0 1427.7L1174.0 1427.8L1178.0 1427.9L1182.0 1428.0L1186.0 1428.2L1190.0 1428.3L1194.0 1428.4L1198.0 1428.5L1202.0 1428.7L1206.0 1428.8L1210.0 1428.9L1214.0 1429.1L1218.0 1429.2L1222.0 1429.4L1226.0 1429.6L1230.0 1429.8L1234.0 1430.0L1238.0 1430.2L1242.0 1430.4L1246.0 1430.6L1250.0 1430.8L1254.0 1431.0L1258.0 1431.2L1262.0 1431.4L1266.0 1431.6L1270.0 1431.8L1274.0 1432.0L1278.0 1432.1L1282.0 1432.3L1286.0 1432.5L1290.0 1432.7L1294.0 1432.9L1298.0 1433.1L1302.0 1433.3L1306.0 1433.5L1310.0 1433.7L1314.0 1433.9L1318.0 1434.1L1322.0 1434.2L1326.0 1434.4L1330.0 1434.6L1334.0 1434.8L1338.0 1435.0L1342.0 1435.2L1346.0 1435.4L1350.0 1435.5L1354.0 1435.7L1358.0 1435.9L1362.0 1436.1L1366.0 1436.3L1370.0 1436.4L1374.0 1436.6L1378.0 1436.8L1382.0 1437.0L1386.0 1437.1L1390.0 1437.3L1394.0 1437.5L1398.0 1437.6L1402.0 1437.8L1406.0 1437.9L1410.0 1438.1L1414.0 1438.3L1418.0 1438.4L1422.0 1438.6L1426.0 1438.7L1430.0 1438.8L1434.0 1439.0L1438.0 1439.1L1442.0 1439.3L1446.0 1439.4L1450.0 1439.5L1454.0 1439.7L1458.0 1439.8L1462.0 1439.9L1466.0 1440.1L1470.0 1440.2L1474.0 1440.3L1478.0 1440.4L1482.0 1440.6L1486.0 1440.7L1490.0 1440.8L1494.0 1440.9L1498.0 1441.0L1502.0 1441.1L1506.0 1441.3L1510.0 1441.4L1514.0 1441.5L1518.0 1441.6L1522.0 1441.7L1526.0 1441.8L1530.0 1441.9L1534.0 1442.0L1538.0 1442.1L1542.0 1442.2L1546.0 1442.3L1550.0 1442.4L1554.0 1442.5L1558.0 1442.6L1562.0 1442.7L1566.0 1442.8L1570.0 1442.9L1574.0 1443.0L1578.0 1443.1L1582.0 1443.2L1586.0 1443.3L1590.0 1443.4L1594.0 1443.5L1598.0 1443.6L1602.0 1443.6L1606.0 1443.7L1610.0 1443.8L1614.0 1443.9L1618.0 1444.0L1622.0 1444.1L1626.0 1444.2L1630.0 1444.3L1634.0 1444.4L1638.0 1444.5L1642.0 1444.6L1646.0 1444.7L1650.0 1444.8L1654.0 1444.8L1658.0 1444.9L1662.0 1445.0L1666.0 1445.1L1670.0 1445.2L1674.0 1445.3L1678.0 1445.4L1682.0 1445.5L1686.0 1445.6L1690.0 1445.7L1694.0 1445.7L1698.0 1445.8L1702.0 1445.9L1706.0 1446.0L1710.0 1446.1L1714.0 1446.2L1718.0 1446.3L1722.0 1446.4L1726.0 1446.5L1730.0 1446.5L1734.0 1446.6L1738.0 1446.7L1742.0 1446.8L1746.0 1446.9L1750.0 1447.0L1754.0 1447.1L1758.0 1447.1L1762.0 1447.2L1766.0 1447.3L1770.0 1447.4L1774.0 1447.5L1778.0 1447.6L1782.0 1447.6L1786.0 1447.7L1790.0 1447.8L1794.0 1447.9L1798.0 1448.0L1802.0 1448.1L1806.0 1448.1L1810.0 1448.2L1814.0 1448.3L1818.0 1448.4L1822.0 1448.5L1826.0 1448.5L1830.0 1448.6L1834.0 1448.7L1838.0 1448.8L1842.0 1448.9L1846.0 1448.9L1850.0 1449.0L1854.0 1449.1L1858.0 1449.2L1862.0 1449.2L1866.0 1449.3L1870.0 1449.4L1874.0 1449.5L1878.0 1449.5L1882.0 1449.6L1886.0 1449.7L1890.0 1449.8L1894.0 1449.8L1898.0 1449.9L1902.0 1450.0L1906.0 1450.0L1910.0 1450.1L1914.0 1450.2L1918.0 1450.3L1922.0 1450.3L1926.0 1450.4L1930.0 1450.5L1934.0 1450.5L1938.0 1450.6L1942.0 1450.7L1946.0 1450.7L1950.0 1450.8L1954.0 1450.9L1958.0 1450.9L1962.0 1451.0L1966.0 1451.1L1970.0 1451.1L1974.0 1451.2L1978.0 1451.3L1982.0 1451.3L1986.0 1451.4L1990.0 1451.5L1994.0 1451.5L1998.0 1451.6L2002.0 1451.6L2006.0 1451.7L2010.0 1451.8L2014.0 1451.8L2018.0 1451.9L2022.0 1451.9L2026.0 1452.0L2030.0 1452.0L2034.0 1452.1L2038.0 1452.2L2042.0 1452.2L2046.0 1452.3L2050.0 1452.3L2054.0 1452.4L2058.0 1452.4L2062.0 1452.5L2066.0 1452.5L2070.0 1452.6L2074.0 1452.6L2078.0 1452.7L2082.0 1452.7L2086.0 1452.8L2090.0 1452.8L2094.0 1452.9L2098.0 1452.9L2102.0 1453.0L2106.0 1453.0L2110.0 1453.1L2114.0 1453.1L2118.0 1453.1L2122.0 1453.2L2122.0 1453.2" stroke="#00ffff"/>
<path d="M230.0 1451.5L234.0 1451.4L238.0 1451.3L242.0 1451.2L246.0 1451.1L250.0 1451.1L254.0 1451.0L258.0 1450.9L262.0 1450.8L266.0 1450.7L270.0 1450.6L274.0 1450.5L278.0 1450.3L282.0 1450.2L286.0 1450.1L290.0 1450.0L294.0 1449.9L298.0 1449.8L302.0 1449.7L306.0 1449.5L310.0 1449.4L314.0 1449.3L318.0 1449.2L322.0 1449.1L326.0 1448.9L330.0 1448.8L334.0 1448.7L338.0 1448.5L342.0 1448.4L346.0 1448.3L350.0 1448.1L354.0 1448.0L358.0 1447.8L362.0 1447.7L366.0 1447.6L370.0 1447.4L374.0 1447.3L378.0 1447.1L382.0 1447.0L386.0 1446.8L390.0 1446.7L394.0 1446.5L398.0 1446.4L402.0 1446.2L406.0 1446.1L410.0 1445.9L414.0 1445.7L418.0 1445.6L422.0 1445.4L426.0 1445.3L430.0 1445.1L434.0 1444.9L438.0 1444.8L442.0 1444.6L446.0 1444.4L450.0 1444.3L454.0 1444.1L458.0 1443.9L462.0 1443.8L466.0 1443.6L470.0 1443.4L474.0 1443.3L478.0 1443.1L482.0 1442.9L486.0 1442.7L490.0 1442.6L494.0 1442.4L498.0 1442.2L502.0 1442.0L506.0 1441.8L510.0 1441.6L514.0 1441.4L518.0 1441.2L522.0 1441.0L526.0 1440.8L530.0 1440.6L534.0 1440.4L538.0 1440.2L542.0 1440.0L546.0 1439.8L550.0 1439.5L554.0 1439.3L558.0 1439.1L562.0 1438.9L566.0 1438.6L570.0 1438.4L574.0 1438.2L578.0 1437.9L582.0 1437.7L586.0 1437.5L590.0 1437.2L594.0 1437.0L598.0 1436.7L602.0 1436.5L606.0 1436.2L610.0 1436.0L614.0 1435.7L618.0 1435.5L622.0 1435.2L626.0 1435.0L630.0 1434.7L634.0 1434.5L638.0 1434.2L642.0 1434.0L646.0 1433.7L650.0 1433.4L654.0 1433.2L658.0 1432.9L662.0 1432.6L666.0 1432.4L670.0 1432.1L674.0 1431.8L678.0 1431.6L682.0 1431.3L686.0 1431.0L690.0 1430.8L694.0 1430.5L698.0 1430.2L702.0 1429.9L706.0 1429.7L710.0 1429.4L714.0 1429.1L718.0 1428.8L722.0 1428.5L726.0 1428.2L730.0 1427.9L734.0 1427.6L738.0 1427.2L742.0 1426.9L746.0 1426.5L750.0 1426.2L754.0 1425.8L758.0 1425.5L762.0 1425.1L766.0 1424.7L770.0 1424.4L774.0 1424.0L778.0 1423.7L782.0 1423.4L786.0 1423.0L790.0 1422.7L794.0 1422.4L798.0 1422.0L802.0 1421.7L806.0 1421.5L810.0 1421.2L814.0 1420.9L818.0 1420.7L822.0 1420.4L826.0 1420.2L830.0 1420.0L834.0 1419.8L838.0 1419.6L842.0 1419.4L846.0 1419.2L850.0 1419.0L854.0 1418.8L858.0 1418.6L862.0 1418.5L866.0 1418.3L870.0 1418.2L874.0 1418.0L878.0 1417.9L882.0 1417.9L886.0 1417.8L890.0 1417.8L894.0 1417.8L898.0 1417.8L902.0 1417.9L906.0 1417.9L910.0 1418.0L914.0 1418.1L918.0 1418.2L922.0 1418.3L926.0 1418.5L930.0 1418.6L934.0 1418.7L938.0 1418.9L942.0 1419.0L946.0 1419.1L950.0 1419.3L954.0 1419.4L958.0 1419.5L962.0 1419.7L966.0 1419.8L970.0 1419.9L974.0 1420.1L978.0 1420.2L982.0 1420.4L986.0 1420.6L990.0 1420.7L994.0 1420.9L998.0 1421.1L1002.0 1421.3L1006.0 1421.5L1010.0 1421.7L1014.0 1421.9L1018.0 1422.1L1022.0 1422.2L1026.0 1422.4L1030.0 1422.6L1034.0 1422.8L1038.0 1423.0L1042.0 1423.2L1046.0 1423.4L1050.0 1423.6L1054.0 1423.8L1058.0 1424.0L1062.0 1424.2L1066.0 1424.3L1070.0 1424.5L1074.0 1424.7L1078.0 1424.8L1082.0 1425.0L1086.0 1425.2L1090.0 1425.3L1094.0 1425.4L1098.0 1425.6L1102.0 1425.7L1106.0 1425.8L1110.0 1425.9L1114.0 1426.1L1118.0 1426.2L1122.0 1426.3L1126.0 1426.4L1130.0 1426.5L1134.0 1426.6L1138.0 1426.7L1142.0 1426.8L1146.0 1426.9L1150.0 1427.0L1154.0 1427.1L1158.0 1427.2L1162.0 1427.3L1166.0 1427.4L1170.0 1427.5L1174.0 1427.6L1178.0 1427.7L1182.0 1427.8L1186.0 1428.0L1190.0 1428.1L1194.0 1428.2L1198.0 1428.3L1202.0 1428.5L1206.0 1428.6L1210.0 1428.7L1214.0 1428.9L1218.0 1429.0L1222.0 1429.2L1226.0 1429.4L1230.0 1429.6L1234.0 1429.8L1238.0 1430.0L1242.0 1430.2L1246.0 1430.4L1250.0 1430.6L1254.0 1430.8L1258.0 1431.0L1262.0 1431.2L1266.0 1431.4L1270.0 1431.6L1274.0 1431.8L1278.0 1431.9L1282.0 1432.1L1286.0 1432.3L1290.0 1432.5L1294.0 1432.7L1298.0 1432.9L1302.0 1433.1L1306.0 1433.3L1310.0 1433.5L1314.0 1433.7L1318.0 1433.9L1322.0 1434.0L1326.0 1434.2L1330.0 1434.4L1334.0 1434.6L1338.0 1434.8L1342.0 1435.0L1346.0 1435.2L1350.0 1435.3L1354.0 1435.5L1358.0 1435.7L1362.0 1435.9L1366.0 1436.1L1370.0 1436.2L1374.0 1436.4L1378.0 1436.6L1382.0 1436.8L1386.0 1436.9L1390.0 1437.1L1394.0 1437.3L1398.0 1437.4L1402.0 1437.6L1406.0 1437.7L1410.0 1437.9L1414.0 1438.1L1418.0 1438.2L1422.0 1438.4L1426.0 1438.5L1430.0 1438.6L1434.0 1438.8L1438.0 1438.9L1442.0 1439.1L1446.0 1439.2L1450.0 1439.3L1454.0 1439.5L1458.0 1439.6L1462.0 1439.7L1466.0 1439.9L1470.0 1440.0L1474.0 1440.1L1478.0 1440.2L1482.0 1440.4L1486.0 1440.5L1490.0 1440.6L1494.0 1440.7L1498.0 1440.8L1502.0 1440.9L1506.0 1441.1L1510.0 1441.2L1514.0 1441.3L1518.0 1441.4L1522.0 1441.5L1526.0 1441.6L1530.0 1441.7L1534.0 1441.8L1538.0 1441.9L1542.0 1442.0L1546.0 1442.1L1550.0 1442.2L1554.0 1442.3L1558.0 1442.4L1562.0 1442.5L1566.0 1442.6L1570.0 1442.7L1574.0 1442.8L1578.0 1442.9L1582.0 1443.0L1586.0 1443.1L1590.0 1443.2L1594.0 1443.3L1598.0 1443.4L1602.0 1443.4L1606.0 1443.5L1610.0 1443.6L1614.0 1443.7L1618.0 1443.8L1622.0 1443.9L1626.0 1444.0L1630.0 1444.1L1634.0 1444.2L1638.0 1444.3L1642.0 1444.4L1646.0 1444.5L1650.0 1444.6L1654.0 1444.6L1658.0 1444.7L1662.0 1444.8L1666.0 1444.9L1670.0 1445.0L1674.0 1445.1L1678.0 1445.2L1682.0 1445.3L1686.0 1445.4L1690.0 1445.5L1694.0 1445.5L1698.0 1445.6L1702.0 1445.7L1706.0 1445.8L1710.0 1445.9L1714.0 1446.0L1718.0 1446.1L1722.0 1446.2L1726.0 1446.3L1730.0 1446.3L1734.0 1446.4L1738.0 1446.5L1742.0 1446.6L1746.0 1446.7L1750.0 1446.8L1754.0 1446.9L1758.0 1446.9L1762.0 1447.0L1766.0 1447.1L1770.0 1447.2L1774.0 1447.3L1778.0 1447.4L1782.0 1447.4L1786.0 1447.5L1790.0 1447.6L1794.0 1447.7L1798.0 1447.8L1802.0 1447.9L1806.0 1447.9L1810.0 1448.0L1814.0 1448.1L1818.0 1448.2L1822.0 1448.3L1826.0 1448.3L1830.0 1448.4L1834.0 1448.5L1838.0 1448.6L1842.0 1448.7L1846.0 1448.7L1850.0 1448.8L1854.0 1448.9L1858.0 1449.0L1862.0 1449.0L1866.0 1449.1L1870.0 1449.2L1874.0 1449.3L1878.0 1449.3L1882.0 1449.4L1886.0 1449.5L1890.0 1449.6L1894.0 1449.6L1898.0 1449.7L1902.0 1449.8L1906.0 1449.8L1910.0 1449.9L1914.0 1450.0L1918.0 1450.1L1922.0 1450.1L1926.0 1450.2L1930.0 1450.3L1934.0 1450.3L1938.0 1450.4L1942.0 1450.5L1946.0 1450.5L1950.0 1450.6L1954.0 1450.7L1958.0 1450.7L1962.0 1450.8L1966.0 1450.9L1970.0 1450.9L1974.0 1451.0L1978.0 1451.1L1982.0 1451.1L1986.0 1451.2L1990.0 1451.3L1994.0 1451.3L1998.0 1451.4L2002.0 1451.4L2006.0 1451.5L2010.0 1451.6L2014.0 1451.6L2018.0 1451.7L2022.0 1451.7L2026.0 1451.8L2030.0 1451.8L2034.0 1451.9L2038.0 1452.0L2042.0 1452.0L2046.0 1452.1L2050.0 1452.1L2054.0 1452.2L2058.0 1452.2L2062.0 1452.3L2066.0 1452.3L2070.0 1452.4L2074.0 1452.4L2078.0 1452.5L2082.0 1452.5L2086.0 1452.6L2090.0 1452.6L2094.0 1452.7L2098.0 1452.7L2102.0 1452.8L2106.0 1452.8L2110.0 1452.9L2114.0 1452.9L2118.0 1452.9L2122.0 1453.0L2122.0 1453.0" stroke="#ff00ff"/>
<path d="M230.0 1451.0L234.0 1450.9L238.0 1450.7L242.0 1450.6L246.0 1450.4L250.0 1450.3L254.0 1450.1L258.0 1450.0L262.0 1449.8L266.0 1449.7L270.0 1449.5L274.0 1449.4L278.0 1449.2L282.0 1449.1L286.0 1448.9L290.0 1448.8L294.0 1448.6L298.0 1448.4L302.0 1448.3L306.0 1448.1L310.0 1448.0L314.0 1447.8L318.0 1447.7L322.0 1447.5L326.0 1447.3L330.0 1447.2L334.0 1447.0L338.0 1446.8L342.0 1446.7L346.0 1446.5L350.0 1446.4L354.0 1446.2L358.0 1446.0L362.0 1445.9L366.0 1445.7L370.0 1445.6L374.0 1445.4L378.0 1445.3L382.0 1445.1L386.0 1445.0L390.0 1444.8L394.0 1444.7L398.0 1444.5L402.0 1444.4L406.0 1444.2L410.0 1444.0L414.0 1443.9L418.0 1443.7L422.0 1443.5L426.0 1443.4L430.0 1443.2L434.0 1443.0L438.0 1442.8L442.0 1442.7L446.0 1442.5L450.0 1442.3L454.0 1442.1L458.0 1441.9L462.0 1441.6L466.0 1441.4L470.0 1441.2L474.0 1441.0L478.0 1440.7L482.0 1440.5L486.0 1440.2L490.0 1439.9L494.0 1439.5L498.0 1439.2L502.0 1438.8L506.0 1438.4L510.0 1438.0L514.0 1437.6L518.0 1437.1L522.0 1436.7L526.0 1436.2L530.0 1435.8L534.0 1435.3L538.0 1434.9L542.0 1434.5L546.0 1434.1L550.0 1433.7L554.0 1433.3L558.0 1432.9L562.0 1432.6L566.0 1432.3L570.0 1432.0L574.0 1431.7L578.0 1431.5L582.0 1431.3L586.0 1431.0L590.0 1430.8L594.0 1430.6L598.0 1430.4L602.0 1430.2L606.0 1430.0L610.0 1429.8L614.0 1429.7L618.0 1429.5L622.0 1429.3L626.0 1429.1L630.0 1429.0L634.0 1428.8L638.0 1428.7L642.0 1428.5L646.0 1428.3L650.0 1428.2L654.0 1428.0L658.0 1427.8L662.0 1427.7L666.0 1427.5L670.0 1427.3L674.0 1427.2L678.0 1427.0L682.0 1426.8L686.0 1426.6L690.0 1426.4L694.0 1426.2L698.0 1426.0L702.0 1425.8L706.0 1425.5L710.0 1425.3L714.0 1425.0L718.0 1424.8L722.0 1424.5L726.0 1424.2L730.0 1423.9L734.0 1423.5L738.0 1423.2L742.0 1422.8L746.0 1422.5L750.0 1422.1L754.0 1421.7L758.0 1421.3L762.0 1421.0L766.0 1420.6L770.0 1420.2L774.0 1419.8L778.0 1419.4L782.0 1419.1L786.0 1418.7L790.0 1418.3L794.0 1418.0L798.0 1417.6L802.0 1417.3L806.0 1417.0L810.0 1416.7L814.0 1416.4L818.0 1416.2L822.0 1415.9L826.0 1415.7L830.0 1415.5L834.0 1415.3L838.0 1415.1L842.0 1414.9L846.0 1414.7L850.0 1414.5L854.0 1414.4L858.0 1414.2L862.0 1414.0L866.0 1413.9L870.0 1413.7L874.0 1413.6L878.0 1413.5L882.0 1413.5L886.0 1413.4L890.0 1413.4L894.0 1413.4L898.0 1413.4L902.0 1413.5L906.0 1413.6L910.0 1413.7L914.0 1413.8L918.0 1413.9L922.0 1414.0L926.0 1414.1L930.0 1414.3L934.0 1414.4L938.0 1414.6L942.0 1414.7L946.0 1414.9L950.0 1415.0L954.0 1415.2L958.0 1415.3L962.0 1415.5L966.0 1415.6L970.0 1415.8L974.0 1415.9L978.0 1416.1L982.0 1416.3L986.0 1416.5L990.0 1416.7L994.0 1416.9L998.0 1417.1L1002.0 1417.3L1006.0 1417.5L1010.0 1417.7L1014.0 1417.9L1018.0 1418.2L1022.0 1418.4L1026.0 1418.6L1030.0 1418.8L1034.0 1419.0L1038.0 1419.3L1042.0 1419.5L1046.0 1419.7L1050.0 1419.9L1054.0 1420.1L1058.0 1420.3L1062.0 1420.5L1066.0 1420.7L1070.0 1420.9L1074.0 1421.1L1078.0 1421.2L1082.0 1421.4L1086.0 1421.6L1090.0 1421.7L1094.0 1421.8L1098.0 1422.0L1102.0 1422.1L1106.0 1422.2L1110.0 1422.3L1114.0 1422.4L1118.0 1422.5L1122.0 1422.6L1126.0 1422.7L1130.0 1422.8L1134.0 1422.9L1138.0 1423.0L1142.0 1423.1L1146.0 1423.1L1150.0 1423.2L1154.0 1423.3L1158.0 1423.4L1162.0 1423.5L1166.0 1423.6L1170.0 1423.7L1174.0 1423.8L1178.0 1423.9L1182.0 1424.0L1186.0 1424.1L1190.0 1424.2L1194.0 1424.3L1198.0 1424.4L1202.0 1424.6L1206.0 1424.7L1210.0 1424.9L1214.0 1425.0L1218.0 1425.2L1222.0 1425.4L1226.0 1425.6L1230.0 1426.0L1234.0 1426.3L1238.0 1426.6L1242.0 1427.0L1246.0 1427.3L1250.0 1427.6L1254.0 1427.9L1258.0 1428.1L1262.0 1428.4L1266.0 1428.6L1270.0 1428.9L1274.0 1429.1L1278.0 1429.4L1282.0 1429.6L1286.0 1429.9L1290.0 1430.1L1294.0 1430.3L1298.0 1430.6L1302.0 1430.8L1306.0 1431.1L1310.0 1431.3L1314.0 1431.5L1318.0 1431.7L1322.0 1432.0L1326.0 1432.2L1330.0 1432.4L1334.0 1432.6L1338.0 1432.8L1342.0 1433.1L1346.0 1433.3L1350.0 1433.5L1354.0 1433.7L1358.0 1433.9L1362.0 1434.1L1366.0 1434.3L1370.0 1434.5L1374.0 1434.7L1378.0 1434.9L1382.0 1435.1L1386.0 1435.3L1390.0 1435.4L1394.0 1435.6L1398.0 1435.8L1402.0 1436.0L1406.0 1436.1L1410.0 1436.3L1414.0 1436.5L1418.0 1436.6L1422.0 1436.8L1426.0 1437.0L1430.0 1437.1L1434.0 1437.3L1438.0 1437.4L1442.0 1437.6L1446.0 1437.7L1450.0 1437.9L1454.0 1438.0L1458.0 1438.1L1462.0 1438.3L1466.0 1438.4L1470.0 1438.5L1474.0 1438.7L1478.0 1438.8L1482.0 1438.9L1486.0 1439.0L1490.0 1439.1L1494.0 1439.3L1498.0 1439.4L1502.0 1439.5L1506.0 1439.6L1510.0 1439.7L1514.0 1439.8L1518.0 1439.9L1522.0 1440.0L1526.0 1440.1L1530.0 1440.2L1534.0 1440.3L1538.0 1440.5L1542.0 1440.6L1546.0 1440.7L1550.0 1440.8L1554.0 1440.9L1558.0 1441.0L1562.0 1441.1L1566.0 1441.2L1570.0 1441.3L1574.0 1441.4L1578.0 1441.5L1582.0 1441.6L1586.0 1441.7L1590.0 1441.8L1594.0 1441.9L1598.0 1442.0L1602.0 1442.1L1606.0 1442.2L1610.0 1442.3L1614.0 1442.4L1618.0 1442.5L1622.0 1442.6L1626.0 1442.7L1630.0 1442.8L1634.0 1442.9L1638.0 1443.0L1642.0 1443.1L1646.0 1443.2L1650.0 1443.3L1654.0 1443.4L1658.0 1443.5L1662.0 1443.6L1666.0 1443.7L1670.0 1443.8L1674.0 1443.9L1678.0 1444.0L1682.0 1444.1L1686.0 1444.2L1690.0 1444.3L1694.0 1444.4L1698.0 1444.5L1702.0 1444.5L1706.0 1444.6L1710.0 1444.7L1714.0 1444.8L1718.0 1444.9L1722.0 1445.0L1726.0 1445.1L1730.0 1445.2L1734.0 1445.3L1738.0 1445.3L1742.0 1445.4L1746.0 1445.5L1750.0 1445.6L1754.0 1445.7L1758.0 1445.8L1762.0 1445.9L1766.0 1446.0L1770.0 1446.0L1774.0 1446.1L1778.0 1446.2L1782.0 1446.3L1786.0 1446.4L1790.0 1446.5L1794.0 1446.6L1798.0 1446.6L1802.0 1446.7L1806.0 1446.8L1810.0 1446.9L1814.0 1447.0L1818.0 1447.1L1822.0 1447.2L1826.0 1447.2L1830.0 1447.3L1834.0 1447.4L1838.0 1447.5L1842.0 1447.6L1846.0 1447.7L1850.0 1447.7L1854.0 1447.8L1858.0 1447.9L1862.0 1448.0L1866.0 1448.1L1870.0 1448.2L1874.0 1448.2L1878.0 1448.3L1882.0 1448.4L1886.0 1448.5L1890.0 1448.6L1894.0 1448.6L1898.0 1448.7L1902.0 1448.8L1906.0 1448.9L1910.0 1449.0L1914.0 1449.0L1918.0 1449.1L1922.0 1449.2L1926.0 1449.3L1930.0 1449.4L1934.0 1449.4L1938.0 1449.5L1942.0 1449.6L1946.0 1449.7L1950.0 1449.7L1954.0 1449.8L1958.0 1449.9L1962.0 1450.0L1966.0 1450.1L1970.0 1450.1L1974.0 1450.2L1978.0 1450.3L1982.0 1450.4L1986.0 1450.4L1990.0 1450.5L1994.0 1450.6L1998.0 1450.7L2002.0 1450.7L2006.0 1450.8L2010.0 1450.9L2014.0 1450.9L2018.0 1451.0L2022.0 1451.1L2026.0 1451.2L2030.0 1451.2L2034.0 1451.3L2038.0 1451.4L2042.0 1451.4L2046.0 1451.5L2050.0 1451.6L2054.0 1451.7L2058.0 1451.7L2062.0 1451.8L2066.0 1451.9L2070.0 1451.9L2074.0 1452.0L2078.0 1452.1L2082.0 1452.1L2086.0 1452.2L2090.0 1452.3L2094.0 1452.3L2098.0 1452.4L2102.0 1452.5L2106.0 1452.5L2110.0 1452.6L2114.0 1452.7L2118.0 1452.7L2122.0 1452.8L2122.0 1452.8" stroke="#ffff00"/>
<path d="M230.0 1449.8L234.0 1449.6L238.0 1449.4L242.0 1449.2L246.0 1449.1L250.0 1448.9L254.0 1448.7L258.0 1448.5L262.0 1448.3L266.0 1448.1L270.0 1447.9L274.0 1447.8L278.0 1447.6L282.0 1447.4L286.0 1447.2L290.0 1447.0L294.0 1446.8L298.0 1446.6L302.0 1446.4L306.0 1446.2L310.0 1446.0L314.0 1445.9L318.0 1445.7L322.0 1445.5L326.0 1445.3L330.0 1445.1L334.0 1444.9L338.0 1444.7L342.0 1444.5L346.0 1444.3L350.0 1444.1L354.0 1443.9L358.0 1443.7L362.0 1443.6L366.0 1443.4L370.0 1443.2L374.0 1443.0L378.0 1442.8L382.0 1442.7L386.0 1442.5L390.0 1442.3L394.0 1442.1L398.0 1442.0L402.0 1441.8L406.0 1441.6L410.0 1441.4L414.0 1441.2L418.0 1441.1L422.0 1440.9L426.0 1440.7L430.0 1440.5L434.0 1440.3L438.0 1440.1L442.0 1439.9L446.0 1439.6L450.0 1439.4L454.0 1439.2L458.0 1438.9L462.0 1438.7L466.0 1438.4L470.0 1438.2L474.0 1437.9L478.0 1437.6L482.0 1437.4L486.0 1437.0L490.0 1436.7L494.0 1436.3L498.0 1435.9L502.0 1435.4L506.0 1435.0L510.0 1434.5L514.0 1434.0L518.0 1433.5L522.0 1433.0L526.0 1432.5L530.0 1431.9L534.0 1431.4L538.0 1430.9L542.0 1430.4L546.0 1429.9L550.0 1429.4L554.0 1429.0L558.0 1428.5L562.0 1428.1L566.0 1427.8L570.0 1427.4L574.0 1427.1L578.0 1426.8L582.0 1426.4L586.0 1426.1L590.0 1425.9L594.0 1425.6L598.0 1425.3L602.0 1425.0L606.0 1424.8L610.0 1424.5L614.0 1424.3L618.0 1424.0L622.0 1423.8L626.0 1423.5L630.0 1423.3L634.0 1423.1L638.0 1422.8L642.0 1422.6L646.0 1422.4L650.0 1422.1L654.0 1421.9L658.0 1421.7L662.0 1421.5L666.0 1421.2L670.0 1421.0L674.0 1420.8L678.0 1420.5L682.0 1420.3L686.0 1420.0L690.0 1419.8L694.0 1419.5L698.0 1419.2L702.0 1419.0L706.0 1418.7L710.0 1418.4L714.0 1418.1L718.0 1417.8L722.0 1417.5L726.0 1417.1L730.0 1416.8L734.0 1416.4L738.0 1416.0L742.0 1415.7L746.0 1415.3L750.0 1414.9L754.0 1414.5L758.0 1414.1L762.0 1413.8L766.0 1413.4L770.0 1413.0L774.0 1412.6L778.0 1412.2L782.0 1411.9L786.0 1411.5L790.0 1411.2L794.0 1410.8L798.0 1410.5L802.0 1410.2L806.0 1409.9L810.0 1409.6L814.0 1409.3L818.0 1409.0L822.0 1408.8L826.0 1408.6L830.0 1408.4L834.0 1408.2L838.0 1408.0L842.0 1407.8L846.0 1407.7L850.0 1407.5L854.0 1407.3L858.0 1407.1L862.0 1407.0L866.0 1406.8L870.0 1406.7L874.0 1406.6L878.0 1406.5L882.0 1406.5L886.0 1406.4L890.0 1406.4L894.0 1406.4L898.0 1406.4L902.0 1406.4L906.0 1406.5L910.0 1406.5L914.0 1406.6L918.0 1406.6L922.0 1406.7L926.0 1406.8L930.0 1406.8L934.0 1406.9L938.0 1407.0L942.0 1407.1L946.0 1407.2L950.0 1407.3L954.0 1407.4L958.0 1407.5L962.0 1407.5L966.0 1407.7L970.0 1407.8L974.0 1407.9L978.0 1408.1L982.0 1408.2L986.0 1408.4L990.0 1408.6L994.0 1408.8L998.0 1409.0L1002.0 1409.2L1006.0 1409.5L1010.0 1409.7L1014.0 1409.9L1018.0 1410.2L1022.0 1410.4L1026.0 1410.7L1030.0 1410.9L1034.0 1411.2L1038.0 1411.5L1042.0 1411.7L1046.0 1412.0L1050.0 1412.2L1054.0 1412.5L1058.0 1412.8L1062.0 1413.0L1066.0 1413.3L1070.0 1413.5L1074.0 1413.7L1078.0 1414.0L1082.0 1414.2L1086.0 1414.4L1090.0 1414.6L1094.0 1414.8L1098.0 1415.0L1102.0 1415.2L1106.0 1415.3L1110.0 1415.5L1114.0 1415.7L1118.0 1415.8L1122.0 1416.0L1126.0 1416.2L1130.0 1416.3L1134.0 1416.5L1138.0 1416.6L1142.0 1416.8L1146.0 1416.9L1150.0 1417.1L1154.0 1417.2L1158.0 1417.4L1162.0 1417.6L1166.0 1417.7L1170.0 1417.9L1174.0 1418.1L1178.0 1418.2L1182.0 1418.4L1186.0 1418.6L1190.0 1418.8L1194.0 1419.0L1198.0 1419.2L1202.0 1419.4L1206.0 1419.6L1210.0 1419.9L1214.0 1420.1L1218.0 1420.4L1222.0 1420.6L1226.0 1421.0L1230.0 1421.3L1234.0 1421.8L1238.0 1422.2L1242.0 1422.6L1246.0 1423.0L1250.0 1423.3L1254.0 1423.6L1258.0 1423.9L1262.0 1424.2L1266.0 1424.5L1270.0 1424.8L1274.0 1425.1L1278.0 1425.4L1282.0 1425.6L1286.0 1425.9L1290.0 1426.2L1294.0 1426.4L1298.0 1426.7L1302.0 1427.0L1306.0 1427.2L1310.0 1427.5L1314.0 1427.7L1318.0 1428.0L1322.0 1428.2L1326.0 1428.5L1330.0 1428.7L1334.0 1429.0L1338.0 1429.2L1342.0 1429.4L1346.0 1429.7L1350.0 1429.9L1354.0 1430.1L1358.0 1430.3L1362.0 1430.6L1366.0 1430.8L1370.0 1431.0L1374.0 1431.2L1378.0 1431.4L1382.0 1431.6L1386.0 1431.9L1390.0 1432.1L1394.0 1432.3L1398.0 1432.5L1402.0 1432.7L1406.0 1432.9L1410.0 1433.1L1414.0 1433.3L1418.0 1433.5L1422.0 1433.6L1426.0 1433.8L1430.0 1434.0L1434.0 1434.2L1438.0 1434.4L1442.0 1434.6L1446.0 1434.8L1450.0 1435.0L1454.0 1435.1L1458.0 1435.3L1462.0 1435.5L1466.0 1435.7L1470.0 1435.8L1474.0 1436.0L1478.0 1436.2L1482.0 1436.4L1486.0 1436.5L1490.0 1436.7L1494.0 1436.9L1498.0 1437.0L1502.0 1437.2L1506.0 1437.3L1510.0 1437.5L1514.0 1437.6L1518.0 1437.8L1522.0 1437.9L1526.0 1438.1L1530.0 1438.2L1534.0 1438.4L1538.0 1438.5L1542.0 1438.7L1546.0 1438.8L1550.0 1438.9L1554.0 1439.1L1558.0 1439.2L1562.0 1439.3L1566.0 1439.5L1570.0 1439.6L1574.0 1439.7L1578.0 1439.8L1582.0 1440.0L1586.0 1440.1L1590.0 1440.2L1594.0 1440.3L1598.0 1440.4L1602.0 1440.5L1606.0 1440.6L1610.0 1440.7L1614.0 1440.8L1618.0 1440.9L1622.0 1441.0L1626.0 1441.1L1630.0 1441.2L1634.0 1441.3L1638.0 1441.4L1642.0 1441.5L1646.0 1441.6L1650.0 1441.7L1654.0 1441.8L1658.0 1441.9L1662.0 1442.0L1666.0 1442.1L1670.0 1442.2L1674.0 1442.3L1678.0 1442.4L1682.0 1442.5L1686.0 1442.6L1690.0 1442.7L1694.0 1442.8L1698.0 1442.9L1702.0 1443.1L1706.0 1443.2L1710.0 1443.3L1714.0 1443.4L1718.0 1443.6L1722.0 1443.7L1726.0 1443.8L1730.0 1444.0L1734.0 1444.1L1738.0 1444.2L1742.0 1444.4L1746.0 1444.5L1750.0 1444.7L1754.0 1444.8L1758.0 1445.0L1762.0 1445.1L1766.0 1445.3L1770.0 1445.4L1774.0 1445.6L1778.0 1445.7L1782.0 1445.9L1786.0 1446.1L1790.0 1446.2L1794.0 1446.4L1798.0 1446.5L1802.0 1446.7L1806.0 1446.8L1810.0 1447.0L1814.0 1447.1L1818.0 1447.3L1822.0 1447.5L1826.0 1447.6L1830.0 1447.7L1834.0 1447.9L1838.0 1448.0L1842.0 1448.2L1846.0 1448.3L1850.0 1448.5L1854.0 1448.6L1858.0 1448.7L1862.0 1448.9L1866.0 1449.0L1870.0 1449.1L1874.0 1449.2L1878.0 1449.4L1882.0 1449.5L1886.0 1449.6L1890.0 1449.7L1894.0 1449.8L1898.0 1449.9L1902.0 1450.0L1906.0 1450.1L1910.0 1450.2L1914.0 1450.2L1918.0 1450.3L1922.0 1450.4L1926.0 1450.4L1930.0 1450.5L1934.0 1450.6L1938.0 1450.6L1942.0 1450.7L1946.0 1450.7L1950.0 1450.8L1954.0 1450.8L1958.0 1450.9L1962.0 1450.9L1966.0 1451.0L1970.0 1451.0L1974.0 1451.1L1978.0 1451.1L1982.0 1451.2L1986.0 1451.2L1990.0 1451.3L1994.0 1451.3L1998.0 1451.4L2002.0 1451.4L2006.0 1451.5L2010.0 1451.5L2014.0 1451.6L2018.0 1451.6L2022.0 1451.6L2026.0 1451.7L2030.0 1451.7L2034.0 1451.8L2038.0 1451.8L2042.0 1451.8L2046.0 1451.9L2050.0 1451.9L2054.0 1451.9L2058.0 1451.9L2062.0 1452.0L2066.0 1452.0L2070.0 1452.0L2074.0 1452.1L2078.0 1452.1L2082.0 1452.1L2086.0 1452.1L2090.0 1452.1L2094.0 1452.1L2098.0 1452.2L2102.0 1452.2L2106.0 1452.2L2110.0 1452.2L2114.0 1452.2L2118.0 1452.2L2122.0 1452.2L2122.0 1452.2" stroke="#808000"/>
<path d="M230.0 1449.0L234.0 1448.8L238.0 1448.6L242.0 1448.4L246.0 1448.2L250.0 1448.0L254.0 1447.8L258.0 1447.5L262.0 1447.3L266.0 1447.1L270.0 1446.9L274.0 1446.7L278.0 1446.4L282.0 1446.2L286.0 1446.0L290.0 1445.8L294.0 1445.5L298.0 1445.3L302.0 1445.1L306.0 1444.8L310.0 1444.6L314.0 1444.3L318.0 1444.1L322.0 1443.8L326.0 1443.6L330.0 1443.3L334.0 1443.1L338.0 1442.8L342.0 1442.6L346.0 1442.3L350.0 1442.0L354.0 1441.8L358.0 1441.5L362.0 1441.3L366.0 1441.0L370.0 1440.7L374.0 1440.5L378.0 1440.2L382.0 1439.9L386.0 1439.6L390.0 1439.4L394.0 1439.1L398.0 1438.8L402.0 1438.5L406.0 1438.2L410.0 1437.9L414.0 1437.7L418.0 1437.4L422.0 1437.1L426.0 1436.8L430.0 1436.5L434.0 1436.2L438.0 1435.9L442.0 1435.6L446.0 1435.3L450.0 1435.0L454.0 1434.7L458.0 1434.4L462.0 1434.1L466.0 1433.8L470.0 1433.5L474.0 1433.2L478.0 1432.9L482.0 1432.6L486.0 1432.2L490.0 1431.9L494.0 1431.6L498.0 1431.2L502.0 1430.9L506.0 1430.6L510.0 1430.2L514.0 1429.9L518.0 1429.5L522.0 1429.2L526.0 1428.8L530.0 1428.4L534.0 1428.1L538.0 1427.7L542.0 1427.3L546.0 1427.0L550.0 1426.6L554.0 1426.2L558.0 1425.8L562.0 1425.4L566.0 1425.1L570.0 1424.7L574.0 1424.3L578.0 1423.9L582.0 1423.5L586.0 1423.1L590.0 1422.7L594.0 1422.3L598.0 1421.9L602.0 1421.5L606.0 1421.2L610.0 1420.8L614.0 1420.4L618.0 1420.0L622.0 1419.6L626.0 1419.2L630.0 1418.8L634.0 1418.4L638.0 1418.0L642.0 1417.6L646.0 1417.2L650.0 1416.8L654.0 1416.4L658.0 1416.0L662.0 1415.6L666.0 1415.2L670.0 1414.8L674.0 1414.5L678.0 1414.1L682.0 1413.7L686.0 1413.3L690.0 1412.9L694.0 1412.6L698.0 1412.2L702.0 1411.8L706.0 1411.4L710.0 1411.0L714.0 1410.7L718.0 1410.3L722.0 1409.8L726.0 1409.4L730.0 1409.0L734.0 1408.6L738.0 1408.2L742.0 1407.8L746.0 1407.3L750.0 1406.9L754.0 1406.5L758.0 1406.1L762.0 1405.7L766.0 1405.3L770.0 1404.9L774.0 1404.5L778.0 1404.1L782.0 1403.7L786.0 1403.3L790.0 1403.0L794.0 1402.6L798.0 1402.3L802.0 1401.9L806.0 1401.6L810.0 1401.3L814.0 1401.0L818.0 1400.7L822.0 1400.5L826.0 1400.2L830.0 1400.0L834.0 1399.8L838.0 1399.5L842.0 1399.3L846.0 1399.1L850.0 1398.9L854.0 1398.6L858.0 1398.4L862.0 1398.2L866.0 1398.1L870.0 1397.9L874.0 1397.8L878.0 1397.7L882.0 1397.6L886.0 1397.5L890.0 1397.5L894.0 1397.5L898.0 1397.5L902.0 1397.5L906.0 1397.6L910.0 1397.6L914.0 1397.7L918.0 1397.7L922.0 1397.8L926.0 1397.8L930.0 1397.9L934.0 1398.0L938.0 1398.0L942.0 1398.1L946.0 1398.2L950.0 1398.3L954.0 1398.4L958.0 1398.5L962.0 1398.5L966.0 1398.7L970.0 1398.8L974.0 1398.9L978.0 1399.1L982.0 1399.2L986.0 1399.4L990.0 1399.6L994.0 1399.8L998.0 1400.0L1002.0 1400.3L1006.0 1400.5L1010.0 1400.8L1014.0 1401.0L1018.0 1401.3L1022.0 1401.6L1026.0 1401.9L1030.0 1402.1L1034.0 1402.4L1038.0 1402.7L1042.0 1403.0L1046.0 1403.3L1050.0 1403.6L1054.0 1403.9L1058.0 1404.2L1062.0 1404.5L1066.0 1404.8L1070.0 1405.2L1074.0 1405.4L1078.0 1405.7L1082.0 1406.0L1086.0 1406.3L1090.0 1406.6L1094.0 1406.9L1098.0 1407.2L1102.0 1407.5L1106.0 1407.7L1110.0 1408.0L1114.0 1408.3L1118.0 1408.6L1122.0 1408.9L1126.0 1409.3L1130.0 1409.6L1134.0 1409.9L1138.0 1410.2L1142.0 1410.5L1146.0 1410.8L1150.0 1411.2L1154.0 1411.5L1158.0 1411.8L1162.0 1412.1L1166.0 1412.4L1170.0 1412.8L1174.0 1413.1L1178.0 1413.4L1182.0 1413.7L1186.0 1414.1L1190.0 1414.4L1194.0 1414.7L1198.0 1415.0L1202.0 1415.3L1206.0 1415.6L1210.0 1415.9L1214.0 1416.2L1218.0 1416.5L1222.0 1416.8L1226.0 1417.1L1230.0 1417.4L1234.0 1417.7L1238.0 1418.0L1242.0 1418.3L1246.0 1418.6L1250.0 1418.9L1254.0 1419.2L1258.0 1419.5L1262.0 1419.8L1266.0 1420.0L1270.0 1420.3L1274.0 1420.6L1278.0 1420.9L1282.0 1421.2L1286.0 1421.5L1290.0 1421.8L1294.0 1422.0L1298.0 1422.3L1302.0 1422.6L1306.0 1422.9L1310.0 1423.2L1314.0 1423.5L1318.0 1423.7L1322.0 1424.0L1326.0 1424.3L1330.0 1424.6L1334.0 1424.9L1338.0 1425.1L1342.0 1425.4L1346.0 1425.7L1350.0 1426.0L1354.0 1426.3L1358.0 1426.5L1362.0 1426.8L1366.0 1427.1L1370.0 1427.3L1374.0 1427.6L1378.0 1427.9L1382.0 1428.1L1386.0 1428.4L1390.0 1428.7L1394.0 1428.9L1398.0 1429.2L1402.0 1429.4L1406.0 1429.7L1410.0 1429.9L1414.0 1430.2L1418.0 1430.4L1422.0 1430.6L1426.0 1430.9L1430.0 1431.1L1434.0 1431.4L1438.0 1431.6L1442.0 1431.8L1446.0 1432.0L1450.0 1432.3L1454.0 1432.5L1458.0 1432.7L1462.0 1433.0L1466.0 1433.2L1470.0 1433.4L1474.0 1433.6L1478.0 1433.9L1482.0 1434.1L1486.0 1434.3L1490.0 1434.5L1494.0 1434.7L1498.0 1435.0L1502.0 1435.2L1506.0 1435.4L1510.0 1435.6L1514.0 1435.8L1518.0 1436.0L1522.0 1436.2L1526.0 1436.4L1530.0 1436.6L1534.0 1436.8L1538.0 1436.9L1542.0 1437.1L1546.0 1437.3L1550.0 1437.5L1554.0 1437.6L1558.0 1437.8L1562.0 1437.9L1566.0 1438.1L1570.0 1438.2L1574.0 1438.3L1578.0 1438.5L1582.0 1438.6L1586.0 1438.7L1590.0 1438.8L1594.0 1438.9L1598.0 1439.0L1602.0 1439.1L1606.0 1439.2L1610.0 1439.3L1614.0 1439.4L1618.0 1439.5L1622.0 1439.6L1626.0 1439.7L1630.0 1439.8L1634.0 1439.9L1638.0 1440.0L1642.0 1440.1L1646.0 1440.2L1650.0 1440.3L1654.0 1440.4L1658.0 1440.4L1662.0 1440.5L1666.0 1440.6L1670.0 1440.7L1674.0 1440.8L1678.0 1440.9L1682.0 1441.0L1686.0 1441.1L1690.0 1441.2L1694.0 1441.3L1698.0 1441.4L1702.0 1441.6L1706.0 1441.7L1710.0 1441.8L1714.0 1441.9L1718.0 1442.1L1722.0 1442.2L1726.0 1442.3L1730.0 1442.5L1734.0 1442.6L1738.0 1442.8L1742.0 1442.9L1746.0 1443.1L1750.0 1443.2L1754.0 1443.4L1758.0 1443.5L1762.0 1443.7L1766.0 1443.8L1770.0 1444.0L1774.0 1444.2L1778.0 1444.3L1782.0 1444.5L1786.0 1444.6L1790.0 1444.8L1794.0 1445.0L1798.0 1445.1L1802.0 1445.3L1806.0 1445.5L1810.0 1445.6L1814.0 1445.8L1818.0 1446.0L1822.0 1446.1L1826.0 1446.3L1830.0 1446.4L1834.0 1446.6L1838.0 1446.7L1842.0 1446.9L1846.0 1447.0L1850.0 1447.2L1854.0 1447.3L1858.0 1447.5L1862.0 1447.6L1866.0 1447.8L1870.0 1447.9L1874.0 1448.0L1878.0 1448.2L1882.0 1448.3L1886.0 1448.4L1890.0 1448.5L1894.0 1448.7L1898.0 1448.8L1902.0 1448.9L1906.0 1449.0L1910.0 1449.1L1914.0 1449.2L1918.0 1449.3L1922.0 1449.3L1926.0 1449.4L1930.0 1449.5L1934.0 1449.6L1938.0 1449.6L1942.0 1449.7L1946.0 1449.8L1950.0 1449.8L1954.0 1449.9L1958.0 1450.0L1962.0 1450.1L1966.0 1450.1L1970.0 1450.2L1974.0 1450.3L1978.0 1450.3L1982.0 1450.4L1986.0 1450.4L1990.0 1450.5L1994.0 1450.6L1998.0 1450.6L2002.0 1450.7L2006.0 1450.8L2010.0 1450.8L2014.0 1450.9L2018.0 1450.9L2022.0 1451.0L2026.0 1451.0L2030.0 1451.1L2034.0 1451.1L2038.0 1451.2L2042.0 1451.2L2046.0 1451.3L2050.0 1451.3L2054.0 1451.4L2058.0 1451.4L2062.0 1451.4L2066.0 1451.5L2070.0 1451.5L2074.0 1451.6L2078.0 1451.6L2082.0 1451.6L2086.0 1451.6L2090.0 1451.7L2094.0 1451.7L2098.0 1451.7L2102.0 1451.7L2106.0 1451.8L2110.0 1451.8L2114.0 1451.8L2118.0 1451.8L2122.0 1451.8L2122.0 1451.8" stroke="#000080"/>
<path d="M230.0 1447.5L234.0 1447.3L238.0 1447.0L242.0 1446.8L246.0 1446.5L250.0 1446.3L254.0 1446.0L258.0 1445.8L262.0 1445.5L266.0 1445.3L270.0 1445.1L274.0 1444.8L278.0 1444.6L282.0 1444.3L286.0 1444.1L290.0 1443.8L294.0 1443.6L298.0 1443.3L302.0 1443.1L306.0 1442.8L310.0 1442.6L314.0 1442.3L318.0 1442.1L322.0 1441.8L326.0 1441.6L330.0 1441.3L334.0 1441.1L338.0 1440.8L342.0 1440.5L346.0 1440.3L350.0 1440.0L354.0 1439.7L358.0 1439.5L362.0 1439.2L366.0 1438.9L370.0 1438.6L374.0 1438.3L378.0 1438.1L382.0 1437.8L386.0 1437.5L390.0 1437.2L394.0 1436.9L398.0 1436.6L402.0 1436.3L406.0 1436.0L410.0 1435.7L414.0 1435.4L418.0 1435.1L422.0 1434.8L426.0 1434.5L430.0 1434.2L434.0 1433.9L438.0 1433.6L442.0 1433.3L446.0 1433.0L450.0 1432.6L454.0 1432.3L458.0 1432.0L462.0 1431.7L466.0 1431.4L470.0 1431.0L474.0 1430.7L478.0 1430.4L482.0 1430.0L486.0 1429.7L490.0 1429.4L494.0 1429.0L498.0 1428.7L502.0 1428.3L506.0 1428.0L510.0 1427.6L514.0 1427.3L518.0 1426.9L522.0 1426.5L526.0 1426.1L530.0 1425.7L534.0 1425.3L538.0 1424.9L542.0 1424.5L546.0 1424.0L550.0 1423.6L554.0 1423.2L558.0 1422.7L562.0 1422.3L566.0 1421.8L570.0 1421.4L574.0 1420.9L578.0 1420.5L582.0 1420.0L586.0 1419.5L590.0 1419.0L594.0 1418.6L598.0 1418.1L602.0 1417.6L606.0 1417.1L610.0 1416.6L614.0 1416.2L618.0 1415.7L622.0 1415.3L626.0 1414.9L630.0 1414.4L634.0 1414.0L638.0 1413.6L642.0 1413.2L646.0 1412.8L650.0 1412.4L654.0 1412.0L658.0 1411.6L662.0 1411.2L666.0 1410.8L670.0 1410.5L674.0 1410.2L678.0 1409.9L682.0 1409.6L686.0 1409.3L690.0 1409.0L694.0 1408.7L698.0 1408.4L702.0 1408.1L706.0 1407.8L710.0 1407.5L714.0 1407.2L718.0 1406.8L722.0 1406.4L726.0 1406.0L730.0 1405.6L734.0 1405.1L738.0 1404.7L742.0 1404.2L746.0 1403.8L750.0 1403.3L754.0 1402.8L758.0 1402.4L762.0 1401.9L766.0 1401.4L770.0 1400.9L774.0 1400.5L778.0 1400.0L782.0 1399.5L786.0 1399.1L790.0 1398.7L794.0 1398.2L798.0 1397.8L802.0 1397.4L806.0 1397.1L810.0 1396.7L814.0 1396.4L818.0 1396.1L822.0 1395.8L826.0 1395.5L830.0 1395.3L834.0 1395.1L838.0 1394.9L842.0 1394.7L846.0 1394.4L850.0 1394.2L854.0 1394.0L858.0 1393.8L862.0 1393.7L866.0 1393.5L870.0 1393.4L874.0 1393.2L878.0 1393.1L882.0 1393.1L886.0 1393.0L890.0 1393.0L894.0 1393.0L898.0 1393.0L902.0 1393.1L906.0 1393.1L910.0 1393.2L914.0 1393.2L918.0 1393.3L922.0 1393.4L926.0 1393.5L930.0 1393.6L934.0 1393.7L938.0 1393.8L942.0 1393.9L946.0 1394.0L950.0 1394.1L954.0 1394.2L958.0 1394.3L962.0 1394.5L966.0 1394.6L970.0 1394.7L974.0 1394.9L978.0 1395.1L982.0 1395.3L986.0 1395.5L990.0 1395.7L994.0 1395.9L998.0 1396.1L1002.0 1396.4L1006.0 1396.6L1010.0 1396.9L1014.0 1397.1L1018.0 1397.4L1022.0 1397.7L1026.0 1398.0L1030.0 1398.2L1034.0 1398.5L1038.0 1398.8L1042.0 1399.1L1046.0 1399.4L1050.0 1399.7L1054.0 1400.0L1058.0 1400.3L1062.0 1400.6L1066.0 1400.9L1070.0 1401.2L1074.0 1401.5L1078.0 1401.8L1082.0 1402.1L1086.0 1402.4L1090.0 1402.7L1094.0 1403.0L1098.0 1403.3L1102.0 1403.6L1106.0 1403.8L1110.0 1404.1L1114.0 1404.4L1118.0 1404.7L1122.0 1405.0L1126.0 1405.3L1130.0 1405.6L1134.0 1405.9L1138.0 1406.2L1142.0 1406.6L1146.0 1406.9L1150.0 1407.2L1154.0 1407.5L1158.0 1407.8L1162.0 1408.1L1166.0 1408.4L1170.0 1408.8L1174.0 1409.1L1178.0 1409.4L1182.0 1409.7L1186.0 1410.0L1190.0 1410.4L1194.0 1410.7L1198.0 1411.0L1202.0 1411.3L1206.0 1411.7L1210.0 1412.0L1214.0 1412.3L1218.0 1412.6L1222.0 1413.0L1226.0 1413.3L1230.0 1413.6L1234.0 1414.0L1238.0 1414.3L1242.0 1414.7L1246.0 1415.0L1250.0 1415.3L1254.0 1415.6L1258.0 1415.9L1262.0 1416.2L1266.0 1416.5L1270.0 1416.8L1274.0 1417.1L1278.0 1417.4L1282.0 1417.7L1286.0 1418.0L1290.0 1418.3L1294.0 1418.6L1298.0 1418.9L1302.0 1419.2L1306.0 1419.5L1310.0 1419.8L1314.0 1420.1L1318.0 1420.4L1322.0 1420.7L1326.0 1421.0L1330.0 1421.3L1334.0 1421.5L1338.0 1421.8L1342.0 1422.1L1346.0 1422.4L1350.0 1422.7L1354.0 1422.9L1358.0 1423.2L1362.0 1423.5L1366.0 1423.8L1370.0 1424.0L1374.0 1424.3L1378.0 1424.6L1382.0 1424.8L1386.0 1425.1L1390.0 1425.4L1394.0 1425.6L1398.0 1425.9L1402.0 1426.1L1406.0 1426.4L1410.0 1426.7L1414.0 1426.9L1418.0 1427.2L1422.0 1427.4L1426.0 1427.7L1430.0 1427.9L1434.0 1428.1L1438.0 1428.4L1442.0 1428.6L1446.0 1428.9L1450.0 1429.1L1454.0 1429.3L1458.0 1429.6L1462.0 1429.8L1466.0 1430.0L1470.0 1430.3L1474.0 1430.5L1478.0 1430.7L1482.0 1430.9L1486.0 1431.2L1490.0 1431.4L1494.0 1431.6L1498.0 1431.8L1502.0 1432.1L1506.0 1432.3L1510.0 1432.5L1514.0 1432.7L1518.0 1432.9L1522.0 1433.1L1526.0 1433.3L1530.0 1433.5L1534.0 1433.7L1538.0 1433.9L1542.0 1434.1L1546.0 1434.3L1550.0 1434.5L1554.0 1434.7L1558.0 1434.9L1562.0 1435.0L1566.0 1435.2L1570.0 1435.4L1574.0 1435.6L1578.0 1435.7L1582.0 1435.9L1586.0 1436.1L1590.0 1436.2L1594.0 1436.4L1598.0 1436.5L1602.0 1436.7L1606.0 1436.8L1610.0 1437.0L1614.0 1437.1L1618.0 1437.3L1622.0 1437.4L1626.0 1437.6L1630.0 1437.7L1634.0 1437.8L1638.0 1438.0L1642.0 1438.1L1646.0 1438.3L1650.0 1438.4L1654.0 1438.5L1658.0 1438.7L1662.0 1438.8L1666.0 1438.9L1670.0 1439.1L1674.0 1439.2L1678.0 1439.3L1682.0 1439.5L1686.0 1439.6L1690.0 1439.8L1694.0 1439.9L1698.0 1440.0L1702.0 1440.2L1706.0 1440.3L1710.0 1440.5L1714.0 1440.6L1718.0 1440.7L1722.0 1440.9L1726.0 1441.0L1730.0 1441.2L1734.0 1441.3L1738.0 1441.5L1742.0 1441.6L1746.0 1441.8L1750.0 1441.9L1754.0 1442.1L1758.0 1442.3L1762.0 1442.4L1766.0 1442.6L1770.0 1442.7L1774.0 1442.9L1778.0 1443.0L1782.0 1443.2L1786.0 1443.3L1790.0 1443.5L1794.0 1443.6L1798.0 1443.8L1802.0 1443.9L1806.0 1444.1L1810.0 1444.2L1814.0 1444.4L1818.0 1444.5L1822.0 1444.7L1826.0 1444.8L1830.0 1445.0L1834.0 1445.1L1838.0 1445.3L1842.0 1445.4L1846.0 1445.5L1850.0 1445.7L1854.0 1445.8L1858.0 1445.9L1862.0 1446.1L1866.0 1446.2L1870.0 1446.3L1874.0 1446.5L1878.0 1446.6L1882.0 1446.7L1886.0 1446.8L1890.0 1447.0L1894.0 1447.1L1898.0 1447.2L1902.0 1447.3L1906.0 1447.4L1910.0 1447.5L1914.0 1447.6L1918.0 1447.7L1922.0 1447.8L1926.0 1447.9L1930.0 1448.0L1934.0 1448.1L1938.0 1448.2L1942.0 1448.3L1946.0 1448.4L1950.0 1448.4L1954.0 1448.5L1958.0 1448.6L1962.0 1448.7L1966.0 1448.8L1970.0 1448.9L1974.0 1449.0L1978.0 1449.0L1982.0 1449.1L1986.0 1449.2L1990.0 1449.3L1994.0 1449.4L1998.0 1449.4L2002.0 1449.5L2006.0 1449.6L2010.0 1449.7L2014.0 1449.7L2018.0 1449.8L2022.0 1449.9L2026.0 1450.0L2030.0 1450.0L2034.0 1450.1L2038.0 1450.2L2042.0 1450.2L2046.0 1450.3L2050.0 1450.4L2054.0 1450.4L2058.0 1450.5L2062.0 1450.6L2066.0 1450.6L2070.0 1450.7L2074.0 1450.7L2078.0 1450.8L2082.0 1450.8L2086.0 1450.9L2090.0 1450.9L2094.0 1451.0L2098.0 1451.0L2102.0 1451.1L2106.0 1451.1L2110.0 1451.2L2114.0 1451.2L2118.0 1451.3L2122.0 1451.3L2122.0 1451.3" stroke="#940090"/>
<path d="M230.0 1444.8L231.6 1444.8L233.7 1444.7L235.8 1444.6L237.9 1444.5L240.1 1444.5L242.2 1444.4L244.3 1444.3L246.4 1444.2L248.6 1444.1L250.7 1444.1L252.8 1444.0L254.9 1443.9L257.0 1443.8L259.2 1443.7L261.3 1443.6L263.4 1443.5L265.5 1443.4L267.6 1443.3L269.8 1443.2L271.9 1443.1L274.0 1443.0L276.1 1442.9L278.2 1442.7L280.3 1442.6L282.5 1442.5L284.6 1442.4L286.7 1442.3L288.8 1442.2L290.9 1442.0L293.0 1441.9L295.1 1441.8L297.3 1441.6L299.4 1441.5L301.5 1441.4L303.6 1441.2L305.7 1441.1L307.8 1441.0L309.9 1440.8L312.0 1440.7L314.2 1440.5L316.3 1440.4L318.4 1440.2L320.5 1440.1L322.6 1439.9L324.7 1439.8L326.8 1439.6L328.9 1439.4L331.0 1439.3L333.2 1439.1L335.3 1439.0L337.4 1438.8L339.5 1438.6L341.6 1438.4L343.7 1438.3L345.8 1438.1L347.9 1437.9L350.0 1437.7L352.1 1437.6L354.2 1437.4L356.3 1437.2L358.4 1437.0L360.5 1436.8L362.7 1436.6L364.8 1436.4L366.9 1436.2L369.0 1436.0L371.1 1435.8L373.2 1435.6L375.3 1435.4L377.4 1435.2L379.5 1435.0L381.6 1434.8L383.7 1434.6L385.8 1434.4L387.9 1434.1L390.0 1433.9L392.1 1433.7L394.2 1433.5L396.3 1433.3L398.4 1433.0L400.5 1432.8L402.6 1432.6L404.7 1432.4L406.8 1432.1L408.9 1431.9L411.0 1431.6L413.1 1431.4L415.2 1431.2L417.3 1430.9L419.4 1430.7L421.5 1430.4L423.6 1430.2L425.7 1429.9L427.8 1429.7L429.9 1429.4L432.0 1429.2L434.1 1428.9L436.2 1428.6L438.3 1428.4L440.4 1428.1L442.5 1427.8L444.6 1427.6L446.7 1427.3L448.8 1427.0L450.9 1426.8L453.0 1426.5L455.1 1426.2L457.2 1425.9L459.3 1425.6L461.4 1425.3L463.5 1425.1L465.6 1424.8L467.7 1424.5L469.8 1424.2L471.9 1423.9L474.0 1423.6L476.1 1423.3L478.2 1423.0L480.3 1422.7L482.4 1422.4L484.5 1422.1L486.6 1421.8L488.7 1421.5L490.8 1421.2L492.9 1420.9L494.9 1420.6L497.0 1420.2L499.1 1419.9L501.2 1419.6L503.3 1419.3L505.4 1419.0L507.5 1418.7L509.6 1418.3L511.7 1418.0L513.8 1417.7L515.9 1417.4L518.0 1417.0L520.1 1416.7L522.2 1416.4L524.3 1416.1L526.4 1415.7L528.5 1415.4L530.6 1415.1L532.7 1414.7L534.7 1414.4L536.8 1414.1L538.9 1413.7L541.0 1413.4L543.1 1413.1L545.2 1412.7L547.3 1412.4L549.4 1412.0L551.5 1411.7L553.6 1411.4L555.7 1411.0L557.8 1410.7L559.9 1410.3L562.0 1410.0L564.1 1409.7L566.2 1409.3L568.2 1409.0L570.3 1408.6L572.4 1408.3L574.5 1407.9L576.6 1407.6L578.7 1407.3L580.8 1406.9L582.9 1406.6L585.0 1406.2L587.1 1405.9L589.2 1405.5L591.3 1405.2L593.4 1404.8L595.5 1404.5L597.6 1404.1L599.6 1403.8L601.7 1403.5L603.8 1403.1L605.9 1402.8L608.0 1402.4L610.1 1402.1L612.2 1401.7L614.3 1401.4L616.4 1401.1L618.5 1400.7L620.6 1400.4L622.7 1400.0L624.8 1399.7L626.9 1399.3L629.0 1399.0L631.1 1398.7L633.1 1398.3L635.2 1398.0L637.3 1397.6L639.4 1397.3L641.5 1397.0L643.6 1396.6L645.7 1396.3L647.8 1396.0L649.9 1395.6L652.0 1395.3L654.1 1395.0L656.2 1394.6L658.3 1394.3L660.4 1394.0L662.5 1393.6L664.6 1393.3L666.7 1393.0L668.8 1392.7L670.9 1392.3L672.9 1392.0L675.0 1391.7L677.1 1391.4L679.2 1391.1L681.3 1390.7L683.4 1390.4L685.5 1390.1L687.6 1389.8L689.7 1389.5L691.8 1389.2L693.9 1388.9L696.0 1388.5L698.1 1388.2L700.2 1387.9L702.3 1387.6L704.4 1387.3L706.5 1387.0L708.6 1386.7L710.7 1386.4L712.8 1386.1L714.9 1385.8L717.0 1385.6L719.1 1385.3L721.2 1385.0L723.3 1384.7L725.4 1384.4L727.5 1384.1L729.6 1383.8L731.7 1383.6L733.8 1383.3L735.9 1383.0L738.0 1382.7L740.1 1382.5L742.2 1382.2L744.3 1381.9L746.4 1381.7L748.5 1381.4L750.6 1381.2L752.7 1380.9L754.8 1380.6L756.9 1380.4L759.0 1380.1L761.1 1379.9L763.2 1379.7L765.3 1379.4L767.4 1379.2L769.5 1378.9L771.6 1378.7L773.7 1378.5L775.8 1378.2L777.9 1378.0L780.0 1377.8L782.1 1377.6L784.2 1377.3L786.3 1377.1L788.4 1376.9L790.5 1376.7L792.6 1376.5L794.7 1376.3L796.8 1376.1L798.9 1375.9L801.0 1375.7L803.1 1375.5L805.2 1375.3L807.3 1375.1L809.4 1375.0L811.5 1374.8L813.7 1374.6L815.8 1374.4L817.9 1374.3L820.0 1374.1L822.1 1373.9L824.2 1373.8L826.3 1373.6L828.4 1373.5L830.5 1373.3L832.6 1373.2L834.7 1373.0L836.8 1372.9L838.9 1372.7L841.1 1372.6L843.2 1372.5L845.3 1372.4L847.4 1372.2L849.5 1372.1L851.6 1372.0L853.7 1371.9L855.8 1371.8L857.9 1371.7L860.0 1371.6L862.2 1371.5L864.3 1371.4L866.4 1371.3L868.5 1371.2L870.6 1371.1L872.7 1371.1L874.8 1371.0L876.9 1370.9L879.1 1370.8L881.2 1370.8L883.3 1370.7L885.4 1370.7L887.5 1370.6L889.6 1370.6L891.7 1370.5L893.9 1370.5L896.0 1370.4L898.1 1370.4L900.2 1370.4L902.3 1370.3L904.4 1370.3L906.5 1370.3L908.6 1370.3L910.8 1370.3L912.9 1370.3L915.0 1370.3L917.1 1370.3L919.2 1370.3L921.3 1370.3L923.4 1370.3L925.6 1370.3L927.7 1370.3L929.8 1370.3L931.9 1370.3L934.0 1370.4L936.1 1370.4L938.2 1370.4L940.4 1370.5L942.5 1370.5L944.6 1370.6L946.7 1370.6L948.8 1370.7L950.9 1370.8L953.0 1370.8L955.2 1370.9L957.3 1371.0L959.4 1371.0L961.5 1371.1L963.6 1371.2L965.7 1371.3L967.8 1371.4L969.9 1371.5L972.1 1371.6L974.2 1371.7L976.3 1371.8L978.4 1371.9L980.5 1372.0L982.6 1372.1L984.7 1372.2L986.9 1372.4L989.0 1372.5L991.1 1372.6L993.2 1372.7L995.3 1372.9L997.4 1373.0L999.5 1373.2L1001.6 1373.3L1003.7 1373.5L1005.9 1373.6L1008.0 1373.8L1010.1 1373.9L1012.2 1374.1L1014.3 1374.3L1016.4 1374.4L1018.5 1374.6L1020.6 1374.8L1022.8 1374.9L1024.9 1375.1L1027.0 1375.3L1029.1 1375.5L1031.2 1375.7L1033.3 1375.8L1035.4 1376.0L1037.5 1376.2L1039.6 1376.4L1041.8 1376.6L1043.9 1376.8L1046.0 1377.0L1048.1 1377.2L1050.2 1377.4L1052.3 1377.6L1054.4 1377.8L1056.5 1378.0L1058.6 1378.3L1060.7 1378.5L1062.9 1378.7L1065.0 1378.9L1067.1 1379.1L1069.2 1379.3L1071.3 1379.6L1073.4 1379.8L1075.5 1380.0L1077.6 1380.2L1079.7 1380.5L1081.8 1380.7L1083.9 1380.9L1086.1 1381.2L1088.2 1381.4L1090.3 1381.6L1092.4 1381.9L1094.5 1382.1L1096.6 1382.3L1098.7 1382.6L1100.8 1382.8L1102.9 1383.1L1105.0 1383.3L1107.1 1383.5L1109.2 1383.8L1111.4 1384.0L1113.5 1384.3L1115.6 1384.5L1117.7 1384.8L1119.8 1385.0L1121.9 1385.3L1124.0 1385.5L1126.1 1385.8L1128.2 1386.0L1130.3 1386.3L1132.4 1386.5L1134.5 1386.8L1136.6 1387.0L1138.7 1387.3L1140.9 1387.5L1143.0 1387.8L1145.1 1388.0L1147.2 1388.3L1149.3 1388.5L1151.4 1388.8L1153.5 1389.0L1155.6 1389.3L1157.7 1389.5L1159.8 1389.8L1161.9 1390.0L1164.0 1390.3L1166.1 1390.5L1168.2 1390.7L1170.3 1391.0L1172.5 1391.2L1174.6 1391.5L1176.7 1391.7L1178.8 1392.0L1180.9 1392.2L1183.0 1392.5L1185.1 1392.7L1187.2 1393.0L1189.3 1393.2L1191.4 1393.4L1193.5 1393.7L1195.6 1393.9L1197.7 1394.2L1199.8 1394.4L1201.9 1394.7L1204.0 1394.9L1206.1 1395.1L1208.2 1395.4L1210.3 1395.6L1212.5 1395.9L1214.6 1396.1L1216.7 1396.3L1218.8 1396.6L1220.9 1396.8L1223.0 1397.1L1225.1 1397.3L1227.2 1397.5L1229.3 1397.8L1231.4 1398.0L1233.5 1398.2L1235.6 1398.5L1237.7 1398.7L1239.8 1398.9L1241.9 1399.2L1244.0 1399.4L1246.1 1399.6L1248.2 1399.9L1250.3 1400.1L1252.4 1400.3L1254.5 1400.6L1256.6 1400.8L1258.7 1401.0L1260.9 1401.3L1263.0 1401.5L1265.1 1401.7L1267.2 1402.0L1269.3 1402.2L1271.4 1402.4L1273.5 1402.6L1275.6 1402.9L1277.7 1403.1L1279.8 1403.3L1281.9 1403.5L1284.0 1403.8L1286.1 1404.0L1288.2 1404.2L1290.3 1404.4L1292.4 1404.7L1294.5 1404.9L1296.6 1405.1L1298.7 1405.3L1300.8 1405.6L1302.9 1405.8L1305.0 1406.0L1307.1 1406.2L1309.2 1406.4L1311.4 1406.7L1313.5 1406.9L1315.6 1407.1L1317.7 1407.3L1319.8 1407.5L1321.9 1407.7L1324.0 1408.0L1326.1 1408.2L1328.2 1408.4L1330.3 1408.6L1332.4 1408.8L1334.5 1409.0L1336.6 1409.2L1338.7 1409.5L1340.8 1409.7L1342.9 1409.9L1345.0 1410.1L1347.1 1410.3L1349.2 1410.5L1351.3 1410.7L1353.4 1410.9L1355.5 1411.1L1357.7 1411.3L1359.8 1411.5L1361.9 1411.8L1364.0 1412.0L1366.1 1412.2L1368.2 1412.4L1370.3 1412.6L1372.4 1412.8L1374.5 1413.0L1376.6 1413.2L1378.7 1413.4L1380.8 1413.6L1382.9 1413.8L1385.0 1414.0L1387.1 1414.2L1389.2 1414.4L1391.3 1414.6L1393.4 1414.8L1395.5 1415.0L1397.7 1415.2L1399.8 1415.4L1401.9 1415.6L1404.0 1415.8L1406.1 1416.0L1408.2 1416.1L1410.3 1416.3L1412.4 1416.5L1414.5 1416.7L1416.6 1416.9L1418.7 1417.1L1420.8 1417.3L1422.9 1417.5L1425.0 1417.7L1427.1 1417.9L1429.3 1418.0L1431.4 1418.2L1433.5 1418.4L1435.6 1418.6L1437.7 1418.8L1439.8 1419.0L1441.9 1419.2L1444.0 1419.3L1446.1 1419.5L1448.2 1419.7L1450.3 1419.9L1452.4 1420.1L1454.5 1420.2L1456.6 1420.4L1458.8 1420.6L1460.9 1420.8L1463.0 1421.0L1465.1 1421.1L1467.2 1421.3L1469.3 1421.5L1471.4 1421.7L1473.5 1421.8L1475.6 1422.0L1477.7 1422.2L1479.8 1422.4L1481.9 1422.5L1484.1 1422.7L1486.2 1422.9L1488.3 1423.0L1490.4 1423.2L1492.5 1423.4L1494.6 1423.6L1496.7 1423.7L1498.8 1423.9L1500.9 1424.1L1503.0 1424.2L1505.2 1424.4L1507.3 1424.6L1509.4 1424.7L1511.5 1424.9L1513.6 1425.0L1515.7 1425.2L1517.8 1425.4L1519.9 1425.5L1522.0 1425.7L1524.1 1425.8L1526.3 1426.0L1528.4 1426.2L1530.5 1426.3L1532.6 1426.5L1534.7 1426.6L1536.8 1426.8L1538.9 1427.0L1541.0 1427.1L1543.1 1427.3L1545.2 1427.4L1547.4 1427.6L1549.5 1427.7L1551.6 1427.9L1553.7 1428.0L1555.8 1428.2L1557.9 1428.3L1560.0 1428.5L1562.1 1428.6L1564.2 1428.8L1566.4 1428.9L1568.5 1429.1L1570.6 1429.2L1572.7 1429.4L1574.8 1429.5L1576.9 1429.7L1579.0 1429.8L1581.1 1430.0L1583.3 1430.1L1585.4 1430.2L1587.5 1430.4L1589.6 1430.5L1591.7 1430.7L1593.8 1430.8L1595.9 1430.9L1598.0 1431.1L1600.1 1431.2L1602.3 1431.4L1604.4 1431.5L1606.5 1431.6L1608.6 1431.8L1610.7 1431.9L1612.8 1432.0L1614.9 1432.2L1617.1 1432.3L1619.2 1432.5L1621.3 1432.6L1623.4 1432.7L1625.5 1432.8L1627.6 1433.0L1629.7 1433.1L1631.8 1433.2L1634.0 1433.4L1636.1 1433.5L1638.2 1433.6L1640.3 1433.8L1642.4 1433.9L1644.5 1434.0L1646.6 1434.1L1648.7 1434.3L1650.9 1434.4L1653.0 1434.5L1655.1 1434.6L1657.2 1434.8L1659.3 1434.9L1661.4 1435.0L1663.5 1435.1L1665.7 1435.3L1667.8 1435.4L1669.9 1435.5L1672.0 1435.6L1674.1 1435.7L1676.2 1435.9L1678.3 1436.0L1680.5 1436.1L1682.6 1436.2L1684.7 1436.3L1686.8 1436.4L1688.9 1436.6L1691.0 1436.7L1693.1 1436.8L1695.3 1436.9L1697.4 1437.0L1699.5 1437.1L1701.6 1437.2L1703.7 1437.4L1705.8 1437.5L1707.9 1437.6L1710.1 1437.7L1712.2 1437.8L1714.3 1437.9L1716.4 1438.0L1718.5 1438.1L1720.6 1438.2L1722.8 1438.3L1724.9 1438.4L1727.0 1438.5L1729.1 1438.7L1731.2 1438.8L1733.3 1438.9L1735.4 1439.0L1737.6 1439.1L1739.7 1439.2L1741.8 1439.3L1743.9 1439.4L1746.0 1439.5L1748.1 1439.6L1750.3 1439.7L1752.4 1439.8L1754.5 1439.9L1756.6 1440.0L1758.7 1440.1L1760.8 1440.2L1762.9 1440.3L1765.1 1440.4L1767.2 1440.5L1769.3 1440.6L1771.4 1440.6L1773.5 1440.7L1775.6 1440.8L1777.8 1440.9L1779.9 1441.0L1782.0 1441.1L1784.1 1441.2L1786.2 1441.3L1788.3 1441.4L1790.5 1441.5L1792.6 1441.6L1794.7 1441.7L1796.8 1441.7L1798.9 1441.8L1801.0 1441.9L1803.2 1442.0L1805.3 1442.1L1807.4 1442.2L1809.5 1442.3L1811.6 1442.3L1813.7 1442.4L1815.8 1442.5L1818.0 1442.6L1820.1 1442.7L1822.2 1442.8L1824.3 1442.8L1826.4 1442.9L1828.5 1443.0L1830.7 1443.1L1832.8 1443.2L1834.9 1443.2L1837.0 1443.3L1839.1 1443.4L1841.2 1443.5L1843.4 1443.6L1845.5 1443.6L1847.6 1443.7L1849.7 1443.8L1851.8 1443.9L1854.0 1443.9L1856.1 1444.0L1858.2 1444.1L1860.3 1444.1L1862.4 1444.2L1864.5 1444.3L1866.7 1444.4L1868.8 1444.4L1870.9 1444.5L1873.0 1444.6L1875.1 1444.6L1877.2 1444.7L1879.4 1444.8L1881.5 1444.9L1883.6 1444.9L1885.7 1445.0L1887.8 1445.1L1889.9 1445.1L1892.1 1445.2L1894.2 1445.2L1896.3 1445.3L1898.4 1445.4L1900.5 1445.4L1902.6 1445.5L1904.8 1445.6L1906.9 1445.6L1909.0 1445.7L1911.1 1445.7L1913.2 1445.8L1915.4 1445.9L1917.5 1445.9L1919.6 1446.0L1921.7 1446.0L1923.8 1446.1L1925.9 1446.2L1928.1 1446.2L1930.2 1446.3L1932.3 1446.3L1934.4 1446.4L1936.5 1446.4L1938.6 1446.5L1940.8 1446.5L1942.9 1446.6L1945.0 1446.7L1947.1 1446.7L1949.2 1446.8L1951.4 1446.8L1953.5 1446.9L1955.6 1446.9L1957.7 1447.0L1959.8 1447.0L1961.9 1447.1L1964.1 1447.1L1966.2 1447.2L1968.3 1447.2L1970.4 1447.3L1972.5 1447.3L1974.6 1447.3L1976.8 1447.4L1978.9 1447.4L1981.0 1447.5L1983.1 1447.5L1985.2 1447.6L1987.4 1447.6L1989.5 1447.7L1991.6 1447.7L1993.7 1447.7L1995.8 1447.8L1997.9 1447.8L2000.1 1447.9L2002.2 1447.9L2004.3 1447.9L2006.4 1448.0L2008.5 1448.0L2010.6 1448.1L2012.8 1448.1L2014.9 1448.1L2017.0 1448.2L2019.1 1448.2L2021.2 1448.2L2023.4 1448.3L2025.5 1448.3L2027.6 1448.4L2029.7 1448.4L2031.8 1448.4L2033.9 1448.5L2036.1 1448.5L2038.2 1448.5L2040.3 1448.6L2042.4 1448.6L2044.5 1448.6L2046.6 1448.6L2048.8 1448.7L2050.9 1448.7L2053.0 1448.7L2055.1 1448.8L2057.2 1448.8L2059.4 1448.8L2061.5 1448.8L2063.6 1448.9L2065.7 1448.9L2067.8 1448.9L2069.9 1448.9L2072.1 1449.0L2074.2 1449.0L2076.3 1449.0L2078.4 1449.0L2080.5 1449.1L2082.7 1449.1L2084.8 1449.1L2086.9 1449.1L2089.0 1449.2L2091.1 1449.2L2093.2 1449.2L2095.4 1449.2L2097.5 1449.2L2099.6 1449.3L2101.7 1449.3L2103.8 1449.3L2105.9 1449.3L2108.1 1449.3L2110.2 1449.3L2112.3 1449.4L2114.4 1449.4L2116.5 1449.4L2118.6 1449.4L2120.8 1449.4L2122.9 1449.4L2124.5 1449.4" stroke="#960000"/>
<path d="M230.0 1440.3L231.6 1440.3L233.7 1440.2L235.9 1440.2L238.0 1440.1L240.2 1440.0L242.3 1439.9L244.5 1439.9L246.6 1439.8L248.7 1439.7L250.9 1439.6L253.0 1439.5L255.2 1439.3L257.3 1439.2L259.4 1439.1L261.6 1439.0L263.7 1438.8L265.9 1438.7L268.0 1438.5L270.1 1438.4L272.3 1438.2L274.4 1438.0L276.5 1437.9L278.7 1437.7L280.8 1437.5L282.9 1437.3L285.1 1437.1L287.2 1436.9L289.3 1436.7L291.4 1436.5L293.6 1436.3L295.7 1436.1L297.8 1435.9L299.9 1435.6L302.1 1435.4L304.2 1435.2L306.3 1434.9L308.4 1434.7L310.6 1434.4L312.7 1434.2L314.8 1433.9L316.9 1433.6L319.0 1433.4L321.2 1433.1L323.3 1432.8L325.4 1432.5L327.5 1432.2L329.6 1431.9L331.7 1431.6L333.8 1431.3L336.0 1431.0L338.1 1430.7L340.2 1430.4L342.3 1430.1L344.4 1429.7L346.5 1429.4L348.6 1429.1L350.7 1428.7L352.8 1428.4L354.9 1428.0L357.1 1427.7L359.2 1427.3L361.3 1427.0L363.4 1426.6L365.5 1426.2L367.6 1425.9L369.7 1425.5L371.8 1425.1L373.9 1424.7L376.0 1424.3L378.1 1423.9L380.2 1423.5L382.3 1423.1L384.4 1422.7L386.5 1422.3L388.6 1421.9L390.7 1421.5L392.7 1421.1L394.8 1420.7L396.9 1420.2L399.0 1419.8L401.1 1419.4L403.2 1418.9L405.3 1418.5L407.4 1418.1L409.5 1417.6L411.6 1417.2L413.7 1416.7L415.7 1416.3L417.8 1415.8L419.9 1415.3L422.0 1414.9L424.1 1414.4L426.2 1413.9L428.2 1413.4L430.3 1413.0L432.4 1412.5L434.5 1412.0L436.6 1411.5L438.7 1411.0L440.7 1410.5L442.8 1410.0L444.9 1409.5L447.0 1409.0L449.0 1408.5L451.1 1408.0L453.2 1407.5L455.3 1407.0L457.3 1406.5L459.4 1405.9L461.5 1405.4L463.6 1404.9L465.6 1404.4L467.7 1403.8L469.8 1403.3L471.8 1402.8L473.9 1402.2L476.0 1401.7L478.0 1401.2L480.1 1400.6L482.2 1400.1L484.2 1399.5L486.3 1399.0L488.4 1398.4L490.4 1397.9L492.5 1397.3L494.6 1396.7L496.6 1396.2L498.7 1395.6L500.7 1395.0L502.8 1394.5L504.9 1393.9L506.9 1393.3L509.0 1392.8L511.0 1392.2L513.1 1391.6L515.1 1391.0L517.2 1390.4L519.3 1389.9L521.3 1389.3L523.4 1388.7L525.4 1388.1L527.5 1387.5L529.5 1386.9L531.6 1386.3L533.6 1385.7L535.7 1385.1L537.7 1384.5L539.8 1383.9L541.8 1383.3L543.9 1382.7L545.9 1382.1L548.0 1381.5L550.0 1380.9L552.1 1380.3L554.1 1379.7L556.2 1379.1L558.2 1378.5L560.3 1377.9L562.3 1377.3L564.3 1376.7L566.4 1376.1L568.4 1375.5L570.5 1374.9L572.5 1374.3L574.6 1373.7L576.6 1373.1L578.7 1372.5L580.7 1371.9L582.8 1371.3L584.8 1370.7L586.9 1370.1L588.9 1369.5L591.0 1368.9L593.0 1368.3L595.1 1367.7L597.1 1367.1L599.2 1366.5L601.2 1366.0L603.3 1365.4L605.3 1364.8L607.4 1364.2L609.4 1363.6L611.5 1363.1L613.5 1362.5L615.6 1361.9L617.6 1361.3L619.7 1360.8L621.7 1360.2L623.8 1359.6L625.9 1359.1L627.9 1358.5L630.0 1357.9L632.0 1357.4L634.1 1356.8L636.2 1356.3L638.2 1355.7L640.3 1355.2L642.3 1354.6L644.4 1354.0L646.5 1353.5L648.5 1352.9L650.6 1352.4L652.7 1351.8L654.7 1351.3L656.8 1350.7L658.8 1350.2L660.9 1349.6L663.0 1349.1L665.0 1348.5L667.1 1348.0L669.2 1347.4L671.2 1346.9L673.3 1346.3L675.4 1345.8L677.4 1345.2L679.5 1344.7L681.6 1344.1L683.6 1343.6L685.7 1343.0L687.8 1342.4L689.8 1341.9L691.9 1341.3L694.0 1340.8L696.0 1340.3L698.1 1339.7L700.2 1339.2L702.2 1338.6L704.3 1338.1L706.4 1337.5L708.5 1337.0L710.5 1336.5L712.6 1335.9L714.7 1335.4L716.7 1334.9L718.8 1334.3L720.9 1333.8L723.0 1333.3L725.1 1332.8L727.1 1332.2L729.2 1331.7L731.3 1331.2L733.4 1330.7L735.4 1330.2L737.5 1329.7L739.6 1329.2L741.7 1328.7L743.8 1328.2L745.9 1327.7L747.9 1327.3L750.0 1326.8L752.1 1326.3L754.2 1325.8L756.3 1325.4L758.4 1324.9L760.5 1324.5L762.6 1324.0L764.7 1323.6L766.8 1323.2L768.8 1322.7L770.9 1322.3L773.0 1321.9L775.1 1321.5L777.2 1321.0L779.3 1320.6L781.4 1320.2L783.5 1319.8L785.6 1319.5L787.7 1319.1L789.8 1318.7L791.9 1318.3L794.1 1317.9L796.2 1317.6L798.3 1317.2L800.4 1316.9L802.5 1316.5L804.6 1316.2L806.7 1315.9L808.8 1315.5L810.9 1315.2L813.0 1314.9L815.1 1314.6L817.3 1314.3L819.4 1314.0L821.5 1313.7L823.6 1313.4L825.7 1313.1L827.8 1312.9L829.9 1312.6L832.1 1312.3L834.2 1312.1L836.3 1311.8L838.4 1311.6L840.5 1311.4L842.6 1311.1L844.8 1310.9L846.9 1310.7L849.0 1310.5L851.1 1310.3L853.2 1310.1L855.4 1309.9L857.5 1309.7L859.6 1309.6L861.7 1309.4L863.8 1309.2L866.0 1309.1L868.1 1308.9L870.2 1308.8L872.3 1308.7L874.4 1308.5L876.6 1308.4L878.7 1308.3L880.8 1308.2L882.9 1308.1L885.1 1308.0L887.2 1308.0L889.3 1307.9L891.4 1307.8L893.6 1307.8L895.7 1307.7L897.8 1307.7L899.9 1307.7L902.1 1307.6L904.2 1307.6L906.3 1307.6L908.4 1307.6L910.6 1307.6L912.7 1307.6L914.8 1307.7L916.9 1307.7L919.1 1307.7L921.2 1307.8L923.3 1307.9L925.4 1307.9L927.5 1308.0L929.7 1308.1L931.8 1308.2L933.9 1308.3L936.0 1308.4L938.2 1308.5L940.3 1308.6L942.4 1308.8L944.5 1308.9L946.7 1309.1L948.8 1309.2L950.9 1309.4L953.0 1309.6L955.1 1309.8L957.3 1310.0L959.4 1310.2L961.5 1310.4L963.6 1310.6L965.7 1310.8L967.9 1311.0L970.0 1311.3L972.1 1311.5L974.2 1311.8L976.3 1312.0L978.5 1312.3L980.6 1312.5L982.7 1312.8L984.8 1313.1L986.9 1313.4L989.0 1313.7L991.2 1314.0L993.3 1314.3L995.4 1314.6L997.5 1314.9L999.6 1315.2L1001.7 1315.6L1003.9 1315.9L1006.0 1316.2L1008.1 1316.6L1010.2 1316.9L1012.3 1317.3L1014.4 1317.6L1016.5 1318.0L1018.7 1318.3L1020.8 1318.7L1022.9 1319.1L1025.0 1319.4L1027.1 1319.8L1029.2 1320.2L1031.3 1320.6L1033.4 1321.0L1035.6 1321.3L1037.7 1321.7L1039.8 1322.1L1041.9 1322.5L1044.0 1322.9L1046.1 1323.3L1048.2 1323.7L1050.3 1324.1L1052.4 1324.5L1054.5 1324.9L1056.7 1325.3L1058.8 1325.8L1060.9 1326.2L1063.0 1326.6L1065.1 1327.0L1067.2 1327.4L1069.3 1327.8L1071.4 1328.3L1073.5 1328.7L1075.6 1329.1L1077.7 1329.5L1079.8 1329.9L1081.9 1330.4L1084.0 1330.8L1086.1 1331.2L1088.2 1331.6L1090.4 1332.0L1092.5 1332.5L1094.6 1332.9L1096.7 1333.3L1098.8 1333.7L1100.9 1334.2L1103.0 1334.6L1105.1 1335.0L1107.2 1335.4L1109.3 1335.9L1111.4 1336.3L1113.5 1336.7L1115.6 1337.1L1117.7 1337.6L1119.8 1338.0L1121.9 1338.4L1124.0 1338.9L1126.1 1339.3L1128.2 1339.7L1130.3 1340.2L1132.4 1340.6L1134.5 1341.0L1136.6 1341.4L1138.7 1341.9L1140.8 1342.3L1142.9 1342.7L1145.0 1343.2L1147.1 1343.6L1149.2 1344.0L1151.3 1344.5L1153.4 1344.9L1155.5 1345.3L1157.5 1345.8L1159.6 1346.2L1161.7 1346.6L1163.8 1347.0L1165.9 1347.5L1168.0 1347.9L1170.1 1348.3L1172.2 1348.8L1174.3 1349.2L1176.4 1349.6L1178.5 1350.1L1180.6 1350.5L1182.7 1350.9L1184.8 1351.4L1186.9 1351.8L1189.0 1352.2L1191.1 1352.6L1193.2 1353.1L1195.3 1353.5L1197.4 1353.9L1199.5 1354.4L1201.6 1354.8L1203.7 1355.2L1205.8 1355.6L1207.8 1356.1L1209.9 1356.5L1212.0 1356.9L1214.1 1357.3L1216.2 1357.8L1218.3 1358.2L1220.4 1358.6L1222.5 1359.0L1224.6 1359.5L1226.7 1359.9L1228.8 1360.3L1230.9 1360.7L1233.0 1361.2L1235.1 1361.6L1237.2 1362.0L1239.3 1362.4L1241.4 1362.8L1243.5 1363.3L1245.6 1363.7L1247.7 1364.1L1249.7 1364.5L1251.8 1364.9L1253.9 1365.3L1256.0 1365.8L1258.1 1366.2L1260.2 1366.6L1262.3 1367.0L1264.4 1367.4L1266.5 1367.8L1268.6 1368.2L1270.7 1368.6L1272.8 1369.0L1274.9 1369.5L1277.0 1369.9L1279.1 1370.3L1281.2 1370.7L1283.3 1371.1L1285.4 1371.5L1287.5 1371.9L1289.6 1372.3L1291.7 1372.7L1293.8 1373.1L1295.9 1373.5L1298.0 1373.9L1300.1 1374.3L1302.2 1374.7L1304.3 1375.1L1306.4 1375.5L1308.5 1375.8L1310.6 1376.2L1312.7 1376.6L1314.8 1377.0L1316.9 1377.4L1319.0 1377.8L1321.1 1378.2L1323.2 1378.6L1325.3 1378.9L1327.4 1379.3L1329.5 1379.7L1331.6 1380.1L1333.7 1380.5L1335.8 1380.8L1337.9 1381.2L1340.0 1381.6L1342.1 1382.0L1344.2 1382.3L1346.3 1382.7L1348.4 1383.1L1350.5 1383.4L1352.6 1383.8L1354.7 1384.2L1356.8 1384.5L1358.9 1384.9L1361.0 1385.2L1363.1 1385.6L1365.2 1386.0L1367.3 1386.3L1369.4 1386.7L1371.5 1387.0L1373.6 1387.4L1375.7 1387.7L1377.8 1388.1L1379.9 1388.4L1382.0 1388.8L1384.2 1389.1L1386.3 1389.5L1388.4 1389.8L1390.5 1390.1L1392.6 1390.5L1394.7 1390.8L1396.8 1391.2L1398.9 1391.5L1401.0 1391.8L1403.1 1392.2L1405.2 1392.5L1407.3 1392.8L1409.4 1393.2L1411.6 1393.5L1413.7 1393.8L1415.8 1394.1L1417.9 1394.5L1420.0 1394.8L1422.1 1395.1L1424.2 1395.4L1426.3 1395.7L1428.4 1396.1L1430.6 1396.4L1432.7 1396.7L1434.8 1397.0L1436.9 1397.3L1439.0 1397.6L1441.1 1397.9L1443.2 1398.2L1445.3 1398.6L1447.5 1398.9L1449.6 1399.2L1451.7 1399.5L1453.8 1399.8L1455.9 1400.1L1458.0 1400.4L1460.1 1400.7L1462.3 1401.0L1464.4 1401.3L1466.5 1401.6L1468.6 1401.9L1470.7 1402.2L1472.8 1402.4L1474.9 1402.7L1477.1 1403.0L1479.2 1403.3L1481.3 1403.6L1483.4 1403.9L1485.5 1404.2L1487.6 1404.5L1489.8 1404.7L1491.9 1405.0L1494.0 1405.3L1496.1 1405.6L1498.2 1405.9L1500.3 1406.1L1502.5 1406.4L1504.6 1406.7L1506.7 1407.0L1508.8 1407.2L1510.9 1407.5L1513.1 1407.8L1515.2 1408.0L1517.3 1408.3L1519.4 1408.6L1521.5 1408.8L1523.7 1409.1L1525.8 1409.4L1527.9 1409.6L1530.0 1409.9L1532.1 1410.1L1534.3 1410.4L1536.4 1410.7L1538.5 1410.9L1540.6 1411.2L1542.7 1411.4L1544.9 1411.7L1547.0 1411.9L1549.1 1412.2L1551.2 1412.4L1553.4 1412.7L1555.5 1412.9L1557.6 1413.2L1559.7 1413.4L1561.8 1413.7L1564.0 1413.9L1566.1 1414.1L1568.2 1414.4L1570.3 1414.6L1572.5 1414.9L1574.6 1415.1L1576.7 1415.3L1578.8 1415.6L1581.0 1415.8L1583.1 1416.0L1585.2 1416.3L1587.3 1416.5L1589.5 1416.7L1591.6 1417.0L1593.7 1417.2L1595.8 1417.4L1598.0 1417.6L1600.1 1417.9L1602.2 1418.1L1604.3 1418.3L1606.5 1418.5L1608.6 1418.8L1610.7 1419.0L1612.8 1419.2L1615.0 1419.4L1617.1 1419.6L1619.2 1419.8L1621.3 1420.1L1623.5 1420.3L1625.6 1420.5L1627.7 1420.7L1629.9 1420.9L1632.0 1421.1L1634.1 1421.3L1636.2 1421.5L1638.4 1421.7L1640.5 1421.9L1642.6 1422.1L1644.8 1422.3L1646.9 1422.5L1649.0 1422.8L1651.1 1423.0L1653.3 1423.1L1655.4 1423.3L1657.5 1423.5L1659.7 1423.7L1661.8 1423.9L1663.9 1424.1L1666.0 1424.3L1668.2 1424.5L1670.3 1424.7L1672.4 1424.9L1674.6 1425.1L1676.7 1425.3L1678.8 1425.5L1681.0 1425.7L1683.1 1425.8L1685.2 1426.0L1687.3 1426.2L1689.5 1426.4L1691.6 1426.6L1693.7 1426.8L1695.9 1426.9L1698.0 1427.1L1700.1 1427.3L1702.3 1427.5L1704.4 1427.6L1706.5 1427.8L1708.7 1428.0L1710.8 1428.2L1712.9 1428.3L1715.1 1428.5L1717.2 1428.7L1719.3 1428.9L1721.4 1429.0L1723.6 1429.2L1725.7 1429.4L1727.8 1429.5L1730.0 1429.7L1732.1 1429.9L1734.2 1430.0L1736.4 1430.2L1738.5 1430.4L1740.6 1430.5L1742.8 1430.7L1744.9 1430.8L1747.0 1431.0L1749.2 1431.2L1751.3 1431.3L1753.4 1431.5L1755.6 1431.6L1757.7 1431.8L1759.8 1431.9L1762.0 1432.1L1764.1 1432.2L1766.2 1432.4L1768.4 1432.5L1770.5 1432.7L1772.6 1432.8L1774.8 1433.0L1776.9 1433.1L1779.0 1433.3L1781.2 1433.4L1783.3 1433.6L1785.4 1433.7L1787.6 1433.9L1789.7 1434.0L1791.9 1434.1L1794.0 1434.3L1796.1 1434.4L1798.3 1434.6L1800.4 1434.7L1802.5 1434.8L1804.7 1435.0L1806.8 1435.1L1808.9 1435.2L1811.1 1435.4L1813.2 1435.5L1815.3 1435.6L1817.5 1435.8L1819.6 1435.9L1821.7 1436.0L1823.9 1436.2L1826.0 1436.3L1828.1 1436.4L1830.3 1436.6L1832.4 1436.7L1834.6 1436.8L1836.7 1436.9L1838.8 1437.1L1841.0 1437.2L1843.1 1437.3L1845.2 1437.4L1847.4 1437.6L1849.5 1437.7L1851.6 1437.8L1853.8 1437.9L1855.9 1438.0L1858.0 1438.2L1860.2 1438.3L1862.3 1438.4L1864.5 1438.5L1866.6 1438.6L1868.7 1438.7L1870.9 1438.8L1873.0 1439.0L1875.1 1439.1L1877.3 1439.2L1879.4 1439.3L1881.5 1439.4L1883.7 1439.5L1885.8 1439.6L1888.0 1439.7L1890.1 1439.8L1892.2 1439.9L1894.4 1440.1L1896.5 1440.2L1898.6 1440.3L1900.8 1440.4L1902.9 1440.5L1905.0 1440.6L1907.2 1440.7L1909.3 1440.8L1911.5 1440.9L1913.6 1441.0L1915.7 1441.1L1917.9 1441.2L1920.0 1441.3L1922.1 1441.4L1924.3 1441.5L1926.4 1441.6L1928.5 1441.7L1930.7 1441.8L1932.8 1441.9L1935.0 1442.0L1937.1 1442.0L1939.2 1442.1L1941.4 1442.2L1943.5 1442.3L1945.6 1442.4L1947.8 1442.5L1949.9 1442.6L1952.0 1442.7L1954.2 1442.8L1956.3 1442.9L1958.5 1443.0L1960.6 1443.0L1962.7 1443.1L1964.9 1443.2L1967.0 1443.3L1969.1 1443.4L1971.3 1443.5L1973.4 1443.5L1975.5 1443.6L1977.7 1443.7L1979.8 1443.8L1982.0 1443.9L1984.1 1444.0L1986.2 1444.0L1988.4 1444.1L1990.5 1444.2L1992.6 1444.3L1994.8 1444.4L1996.9 1444.4L1999.0 1444.5L2001.2 1444.6L2003.3 1444.7L2005.4 1444.7L2007.6 1444.8L2009.7 1444.9L2011.9 1445.0L2014.0 1445.0L2016.1 1445.1L2018.3 1445.2L2020.4 1445.2L2022.5 1445.3L2024.7 1445.4L2026.8 1445.5L2028.9 1445.5L2031.1 1445.6L2033.2 1445.7L2035.3 1445.7L2037.5 1445.8L2039.6 1445.9L2041.8 1445.9L2043.9 1446.0L2046.0 1446.1L2048.2 1446.1L2050.3 1446.2L2052.4 1446.3L2054.6 1446.3L2056.7 1446.4L2058.8 1446.5L2061.0 1446.5L2063.1 1446.6L2065.2 1446.6L2067.4 1446.7L2069.5 1446.8L2071.6 1446.8L2073.8 1446.9L2075.9 1446.9L2078.0 1447.0L2080.2 1447.1L2082.3 1447.1L2084.4 1447.2L2086.6 1447.2L2088.7 1447.3L2090.8 1447.3L2093.0 1447.4L2095.1 1447.5L2097.2 1447.5L2099.4 1447.6L2101.5 1447.6L2103.7 1447.7L2105.8 1447.7L2107.9 1447.8L2110.1 1447.8L2112.2 1447.9L2114.3 1447.9L2116.5 1448.0L2118.6 1448.0L2120.7 1448.1L2122.8 1448.1L2124.5 1448.2" stroke="#008000"/>
<path d="M230.0 1437.4L231.6 1437.3L233.8 1437.2L235.9 1437.0L238.1 1436.8L240.3 1436.7L242.4 1436.5L244.6 1436.3L246.7 1436.1L248.9 1435.9L251.0 1435.7L253.2 1435.5L255.3 1435.3L257.5 1435.1L259.7 1434.9L261.8 1434.7L264.0 1434.5L266.1 1434.2L268.3 1434.0L270.4 1433.8L272.6 1433.5L274.7 1433.3L276.9 1433.0L279.0 1432.8L281.2 1432.5L283.3 1432.2L285.5 1432.0L287.6 1431.7L289.8 1431.4L291.9 1431.1L294.1 1430.8L296.2 1430.5L298.4 1430.2L300.5 1429.9L302.7 1429.6L304.8 1429.3L307.0 1429.0L309.1 1428.6L311.2 1428.3L313.4 1428.0L315.5 1427.6L317.7 1427.3L319.8 1426.9L321.9 1426.6L324.1 1426.2L326.2 1425.8L328.4 1425.4L330.5 1425.1L332.6 1424.7L334.7 1424.3L336.9 1423.9L339.0 1423.5L341.1 1423.1L343.3 1422.7L345.4 1422.2L347.5 1421.8L349.6 1421.4L351.8 1420.9L353.9 1420.5L356.0 1420.0L358.1 1419.6L360.2 1419.1L362.3 1418.7L364.5 1418.2L366.6 1417.7L368.7 1417.2L370.8 1416.7L372.9 1416.2L375.0 1415.7L377.1 1415.2L379.2 1414.7L381.3 1414.2L383.4 1413.7L385.5 1413.1L387.6 1412.6L389.7 1412.0L391.8 1411.5L393.9 1410.9L396.0 1410.4L398.0 1409.8L400.1 1409.2L402.2 1408.6L404.3 1408.0L406.4 1407.4L408.4 1406.8L410.5 1406.2L412.6 1405.6L414.7 1405.0L416.7 1404.4L418.8 1403.7L420.8 1403.1L422.9 1402.4L425.0 1401.8L427.0 1401.1L429.1 1400.5L431.1 1399.8L433.2 1399.1L435.2 1398.4L437.3 1397.7L439.3 1397.0L441.4 1396.3L443.4 1395.6L445.4 1394.9L447.5 1394.1L449.5 1393.4L451.5 1392.7L453.6 1391.9L455.6 1391.2L457.6 1390.4L459.6 1389.7L461.7 1388.9L463.7 1388.2L465.7 1387.4L467.7 1386.6L469.7 1385.8L471.7 1385.1L473.8 1384.3L475.8 1383.5L477.8 1382.7L479.8 1381.9L481.8 1381.1L483.8 1380.3L485.8 1379.5L487.8 1378.7L489.8 1377.9L491.8 1377.1L493.8 1376.2L495.8 1375.4L497.8 1374.6L499.8 1373.8L501.8 1373.0L503.8 1372.1L505.8 1371.3L507.8 1370.5L509.8 1369.7L511.8 1368.8L513.8 1368.0L515.8 1367.2L517.8 1366.3L519.8 1365.5L521.8 1364.7L523.8 1363.8L525.8 1363.0L527.8 1362.1L529.8 1361.3L531.8 1360.5L533.8 1359.6L535.8 1358.8L537.8 1358.0L539.8 1357.1L541.8 1356.3L543.8 1355.5L545.8 1354.7L547.8 1353.8L549.8 1353.0L551.8 1352.2L553.8 1351.3L555.8 1350.5L557.8 1349.7L559.8 1348.9L561.8 1348.1L563.8 1347.2L565.8 1346.4L567.8 1345.6L569.8 1344.8L571.8 1344.0L573.8 1343.2L575.8 1342.3L577.8 1341.5L579.8 1340.7L581.9 1339.9L583.9 1339.1L585.9 1338.3L587.9 1337.5L589.9 1336.7L591.9 1335.9L593.9 1335.1L595.9 1334.3L597.9 1333.5L599.9 1332.7L602.0 1331.9L604.0 1331.1L606.0 1330.3L608.0 1329.5L610.0 1328.7L612.0 1328.0L614.0 1327.2L616.1 1326.4L618.1 1325.6L620.1 1324.8L622.1 1324.0L624.1 1323.3L626.2 1322.5L628.2 1321.7L630.2 1320.9L632.2 1320.2L634.2 1319.4L636.3 1318.6L638.3 1317.9L640.3 1317.1L642.3 1316.4L644.4 1315.6L646.4 1314.8L648.4 1314.1L650.4 1313.3L652.5 1312.6L654.5 1311.8L656.5 1311.1L658.6 1310.3L660.6 1309.6L662.6 1308.9L664.7 1308.1L666.7 1307.4L668.7 1306.7L670.8 1305.9L672.8 1305.2L674.8 1304.5L676.9 1303.7L678.9 1303.0L681.0 1302.3L683.0 1301.6L685.0 1300.9L687.1 1300.2L689.1 1299.4L691.2 1298.7L693.2 1298.0L695.3 1297.3L697.3 1296.6L699.4 1295.9L701.4 1295.2L703.5 1294.5L705.5 1293.8L707.6 1293.1L709.6 1292.5L711.7 1291.8L713.7 1291.1L715.8 1290.4L717.8 1289.7L719.9 1289.1L721.9 1288.4L724.0 1287.7L726.1 1287.1L728.1 1286.4L730.2 1285.7L732.2 1285.1L734.3 1284.4L736.4 1283.8L738.4 1283.1L740.5 1282.5L742.6 1281.8L744.6 1281.2L746.7 1280.6L748.8 1279.9L750.8 1279.3L752.9 1278.7L755.0 1278.0L757.1 1277.4L759.1 1276.8L761.2 1276.2L763.3 1275.6L765.4 1274.9L767.4 1274.3L769.5 1273.7L771.6 1273.1L773.7 1272.5L775.8 1271.9L777.9 1271.3L780.0 1270.8L782.0 1270.2L784.1 1269.6L786.2 1269.0L788.3 1268.5L790.4 1267.9L792.5 1267.3L794.6 1266.8L796.7 1266.2L798.8 1265.7L800.9 1265.2L803.0 1264.7L805.1 1264.1L807.2 1263.6L809.3 1263.1L811.4 1262.6L813.5 1262.2L815.6 1261.7L817.7 1261.2L819.9 1260.8L822.0 1260.4L824.1 1259.9L826.2 1259.5L828.3 1259.1L830.5 1258.7L832.6 1258.4L834.7 1258.0L836.8 1257.6L839.0 1257.3L841.1 1257.0L843.2 1256.7L845.4 1256.4L847.5 1256.1L849.7 1255.8L851.8 1255.5L853.9 1255.3L856.1 1255.0L858.2 1254.8L860.4 1254.6L862.5 1254.4L864.7 1254.2L866.8 1254.1L869.0 1253.9L871.1 1253.8L873.3 1253.6L875.4 1253.5L877.6 1253.4L879.8 1253.3L881.9 1253.2L884.1 1253.1L886.2 1253.1L888.4 1253.0L890.5 1253.0L892.7 1252.9L894.9 1252.9L897.0 1252.9L899.2 1252.9L901.3 1252.9L903.5 1252.9L905.7 1253.0L907.8 1253.0L910.0 1253.1L912.1 1253.1L914.3 1253.2L916.4 1253.3L918.6 1253.4L920.8 1253.5L922.9 1253.6L925.1 1253.7L927.2 1253.8L929.4 1253.9L931.5 1254.1L933.7 1254.2L935.8 1254.4L938.0 1254.6L940.1 1254.7L942.3 1254.9L944.4 1255.1L946.6 1255.3L948.7 1255.5L950.8 1255.7L953.0 1255.9L955.1 1256.2L957.3 1256.4L959.4 1256.7L961.5 1256.9L963.7 1257.2L965.8 1257.4L967.9 1257.7L970.1 1258.0L972.2 1258.3L974.3 1258.6L976.4 1258.9L978.6 1259.2L980.7 1259.5L982.8 1259.8L984.9 1260.1L987.1 1260.5L989.2 1260.8L991.3 1261.2L993.4 1261.5L995.5 1261.9L997.6 1262.2L999.8 1262.6L1001.9 1263.0L1004.0 1263.4L1006.1 1263.8L1008.2 1264.1L1010.3 1264.6L1012.4 1265.0L1014.5 1265.4L1016.6 1265.8L1018.7 1266.2L1020.9 1266.6L1023.0 1267.1L1025.1 1267.5L1027.2 1268.0L1029.3 1268.4L1031.4 1268.9L1033.5 1269.3L1035.6 1269.8L1037.7 1270.3L1039.8 1270.7L1041.9 1271.2L1044.0 1271.7L1046.1 1272.2L1048.2 1272.7L1050.2 1273.2L1052.3 1273.7L1054.4 1274.2L1056.5 1274.7L1058.6 1275.2L1060.7 1275.7L1062.8 1276.3L1064.9 1276.8L1067.0 1277.3L1069.1 1277.9L1071.2 1278.4L1073.2 1278.9L1075.3 1279.5L1077.4 1280.0L1079.5 1280.6L1081.6 1281.1L1083.7 1281.7L1085.8 1282.3L1087.8 1282.8L1089.9 1283.4L1092.0 1284.0L1094.1 1284.6L1096.2 1285.1L1098.3 1285.7L1100.3 1286.3L1102.4 1286.9L1104.5 1287.5L1106.6 1288.1L1108.7 1288.7L1110.7 1289.3L1112.8 1289.9L1114.9 1290.5L1117.0 1291.1L1119.1 1291.7L1121.1 1292.3L1123.2 1292.9L1125.3 1293.5L1127.4 1294.1L1129.4 1294.8L1131.5 1295.4L1133.6 1296.0L1135.7 1296.6L1137.7 1297.3L1139.8 1297.9L1141.9 1298.5L1144.0 1299.1L1146.1 1299.8L1148.1 1300.4L1150.2 1301.0L1152.3 1301.7L1154.4 1302.3L1156.4 1302.9L1158.5 1303.6L1160.6 1304.2L1162.6 1304.9L1164.7 1305.5L1166.8 1306.1L1168.9 1306.8L1170.9 1307.4L1173.0 1308.1L1175.1 1308.7L1177.2 1309.4L1179.2 1310.0L1181.3 1310.6L1183.4 1311.3L1185.5 1311.9L1187.5 1312.6L1189.6 1313.2L1191.7 1313.9L1193.8 1314.5L1195.8 1315.1L1197.9 1315.8L1200.0 1316.4L1202.1 1317.1L1204.1 1317.7L1206.2 1318.4L1208.3 1319.0L1210.4 1319.6L1212.4 1320.3L1214.5 1320.9L1216.6 1321.6L1218.7 1322.2L1220.8 1322.8L1222.8 1323.5L1224.9 1324.1L1227.0 1324.7L1229.1 1325.4L1231.1 1326.0L1233.2 1326.6L1235.3 1327.2L1237.4 1327.9L1239.5 1328.5L1241.5 1329.1L1243.6 1329.7L1245.7 1330.3L1247.8 1330.9L1249.9 1331.6L1252.0 1332.2L1254.0 1332.8L1256.1 1333.4L1258.2 1334.0L1260.3 1334.6L1262.4 1335.2L1264.5 1335.8L1266.6 1336.4L1268.6 1337.0L1270.7 1337.6L1272.8 1338.2L1274.9 1338.7L1277.0 1339.3L1279.1 1339.9L1281.2 1340.5L1283.3 1341.1L1285.4 1341.6L1287.4 1342.2L1289.5 1342.8L1291.6 1343.4L1293.7 1343.9L1295.8 1344.5L1297.9 1345.1L1300.0 1345.6L1302.1 1346.2L1304.2 1346.7L1306.3 1347.3L1308.4 1347.8L1310.5 1348.4L1312.6 1348.9L1314.7 1349.5L1316.8 1350.0L1318.9 1350.6L1321.0 1351.1L1323.1 1351.7L1325.1 1352.2L1327.2 1352.7L1329.3 1353.3L1331.4 1353.8L1333.5 1354.3L1335.6 1354.9L1337.7 1355.4L1339.8 1355.9L1342.0 1356.4L1344.1 1356.9L1346.2 1357.5L1348.3 1358.0L1350.4 1358.5L1352.5 1359.0L1354.6 1359.5L1356.7 1360.0L1358.8 1360.5L1360.9 1361.0L1363.0 1361.5L1365.1 1362.0L1367.2 1362.5L1369.3 1363.0L1371.4 1363.5L1373.5 1364.0L1375.6 1364.5L1377.7 1365.0L1379.8 1365.5L1382.0 1365.9L1384.1 1366.4L1386.2 1366.9L1388.3 1367.4L1390.4 1367.9L1392.5 1368.3L1394.6 1368.8L1396.7 1369.3L1398.8 1369.7L1401.0 1370.2L1403.1 1370.7L1405.2 1371.1L1407.3 1371.6L1409.4 1372.1L1411.5 1372.5L1413.6 1373.0L1415.8 1373.4L1417.9 1373.9L1420.0 1374.3L1422.1 1374.8L1424.2 1375.2L1426.3 1375.7L1428.5 1376.1L1430.6 1376.6L1432.7 1377.0L1434.8 1377.4L1436.9 1377.9L1439.0 1378.3L1441.2 1378.7L1443.3 1379.2L1445.4 1379.6L1447.5 1380.0L1449.6 1380.4L1451.8 1380.9L1453.9 1381.3L1456.0 1381.7L1458.1 1382.1L1460.3 1382.5L1462.4 1383.0L1464.5 1383.4L1466.6 1383.8L1468.7 1384.2L1470.9 1384.6L1473.0 1385.0L1475.1 1385.4L1477.2 1385.8L1479.4 1386.2L1481.5 1386.6L1483.6 1387.0L1485.7 1387.4L1487.9 1387.8L1490.0 1388.2L1492.1 1388.6L1494.3 1389.0L1496.4 1389.3L1498.5 1389.7L1500.6 1390.1L1502.8 1390.5L1504.9 1390.9L1507.0 1391.2L1509.2 1391.6L1511.3 1392.0L1513.4 1392.4L1515.5 1392.7L1517.7 1393.1L1519.8 1393.5L1521.9 1393.8L1524.1 1394.2L1526.2 1394.6L1528.3 1394.9L1530.5 1395.3L1532.6 1395.7L1534.7 1396.0L1536.9 1396.4L1539.0 1396.7L1541.1 1397.1L1543.3 1397.4L1545.4 1397.8L1547.5 1398.1L1549.7 1398.5L1551.8 1398.8L1553.9 1399.1L1556.1 1399.5L1558.2 1399.8L1560.3 1400.2L1562.5 1400.5L1564.6 1400.8L1566.8 1401.2L1568.9 1401.5L1571.0 1401.8L1573.2 1402.2L1575.3 1402.5L1577.4 1402.8L1579.6 1403.1L1581.7 1403.5L1583.9 1403.8L1586.0 1404.1L1588.1 1404.4L1590.3 1404.7L1592.4 1405.0L1594.6 1405.4L1596.7 1405.7L1598.8 1406.0L1601.0 1406.3L1603.1 1406.6L1605.3 1406.9L1607.4 1407.2L1609.5 1407.5L1611.7 1407.8L1613.8 1408.1L1616.0 1408.4L1618.1 1408.7L1620.3 1409.0L1622.4 1409.3L1624.5 1409.6L1626.7 1409.9L1628.8 1410.2L1631.0 1410.4L1633.1 1410.7L1635.3 1411.0L1637.4 1411.3L1639.6 1411.6L1641.7 1411.9L1643.8 1412.1L1646.0 1412.4L1648.1 1412.7L1650.3 1413.0L1652.4 1413.3L1654.6 1413.5L1656.7 1413.8L1658.9 1414.1L1661.0 1414.3L1663.2 1414.6L1665.3 1414.9L1667.5 1415.1L1669.6 1415.4L1671.8 1415.7L1673.9 1415.9L1676.0 1416.2L1678.2 1416.4L1680.3 1416.7L1682.5 1416.9L1684.6 1417.2L1686.8 1417.4L1688.9 1417.7L1691.1 1417.9L1693.2 1418.2L1695.4 1418.4L1697.5 1418.7L1699.7 1418.9L1701.8 1419.2L1704.0 1419.4L1706.1 1419.7L1708.3 1419.9L1710.4 1420.1L1712.6 1420.4L1714.7 1420.6L1716.9 1420.8L1719.1 1421.1L1721.2 1421.3L1723.4 1421.5L1725.5 1421.8L1727.7 1422.0L1729.8 1422.2L1732.0 1422.4L1734.1 1422.7L1736.3 1422.9L1738.4 1423.1L1740.6 1423.3L1742.7 1423.6L1744.9 1423.8L1747.0 1424.0L1749.2 1424.2L1751.3 1424.4L1753.5 1424.6L1755.7 1424.8L1757.8 1425.1L1760.0 1425.3L1762.1 1425.5L1764.3 1425.7L1766.4 1425.9L1768.6 1426.1L1770.7 1426.3L1772.9 1426.5L1775.1 1426.7L1777.2 1426.9L1779.4 1427.1L1781.5 1427.3L1783.7 1427.5L1785.8 1427.7L1788.0 1427.9L1790.1 1428.1L1792.3 1428.3L1794.5 1428.5L1796.6 1428.7L1798.8 1428.8L1800.9 1429.0L1803.1 1429.2L1805.2 1429.4L1807.4 1429.6L1809.6 1429.8L1811.7 1430.0L1813.9 1430.1L1816.0 1430.3L1818.2 1430.5L1820.3 1430.7L1822.5 1430.9L1824.7 1431.0L1826.8 1431.2L1829.0 1431.4L1831.1 1431.5L1833.3 1431.7L1835.5 1431.9L1837.6 1432.1L1839.8 1432.2L1841.9 1432.4L1844.1 1432.6L1846.3 1432.7L1848.4 1432.9L1850.6 1433.1L1852.7 1433.2L1854.9 1433.4L1857.0 1433.5L1859.2 1433.7L1861.4 1433.9L1863.5 1434.0L1865.7 1434.2L1867.8 1434.3L1870.0 1434.5L1872.2 1434.6L1874.3 1434.8L1876.5 1434.9L1878.6 1435.1L1880.8 1435.2L1883.0 1435.4L1885.1 1435.5L1887.3 1435.7L1889.4 1435.8L1891.6 1436.0L1893.8 1436.1L1895.9 1436.3L1898.1 1436.4L1900.3 1436.6L1902.4 1436.7L1904.6 1436.8L1906.7 1437.0L1908.9 1437.1L1911.1 1437.2L1913.2 1437.4L1915.4 1437.5L1917.5 1437.7L1919.7 1437.8L1921.9 1437.9L1924.0 1438.1L1926.2 1438.2L1928.3 1438.3L1930.5 1438.4L1932.7 1438.6L1934.8 1438.7L1937.0 1438.8L1939.2 1439.0L1941.3 1439.1L1943.5 1439.2L1945.6 1439.3L1947.8 1439.4L1950.0 1439.6L1952.1 1439.7L1954.3 1439.8L1956.4 1439.9L1958.6 1440.0L1960.8 1440.2L1962.9 1440.3L1965.1 1440.4L1967.3 1440.5L1969.4 1440.6L1971.6 1440.7L1973.7 1440.9L1975.9 1441.0L1978.1 1441.1L1980.2 1441.2L1982.4 1441.3L1984.5 1441.4L1986.7 1441.5L1988.9 1441.6L1991.0 1441.7L1993.2 1441.8L1995.4 1441.9L1997.5 1442.1L1999.7 1442.2L2001.8 1442.3L2004.0 1442.4L2006.2 1442.5L2008.3 1442.6L2010.5 1442.7L2012.6 1442.8L2014.8 1442.9L2017.0 1443.0L2019.1 1443.1L2021.3 1443.2L2023.4 1443.3L2025.6 1443.3L2027.8 1443.4L2029.9 1443.5L2032.1 1443.6L2034.3 1443.7L2036.4 1443.8L2038.6 1443.9L2040.7 1444.0L2042.9 1444.1L2045.1 1444.2L2047.2 1444.3L2049.4 1444.4L2051.5 1444.4L2053.7 1444.5L2055.9 1444.6L2058.0 1444.7L2060.2 1444.8L2062.3 1444.9L2064.5 1445.0L2066.7 1445.0L2068.8 1445.1L2071.0 1445.2L2073.1 1445.3L2075.3 1445.4L2077.5 1445.5L2079.6 1445.5L2081.8 1445.6L2083.9 1445.7L2086.1 1445.8L2088.3 1445.9L2090.4 1445.9L2092.6 1446.0L2094.7 1446.1L2096.9 1446.2L2099.1 1446.2L2101.2 1446.3L2103.4 1446.4L2105.5 1446.5L2107.7 1446.5L2109.9 1446.6L2112.0 1446.7L2114.2 1446.7L2116.3 1446.8L2118.5 1446.9L2120.6 1447.0L2122.8 1447.0L2124.5 1447.1" stroke="#008080"/>
<path d="M230.0 1433.4L231.6 1433.2L233.8 1432.9L236.0 1432.7L238.1 1432.4L240.3 1432.2L242.5 1431.9L244.6 1431.6L246.8 1431.4L249.0 1431.1L251.1 1430.9L253.3 1430.6L255.5 1430.3L257.7 1430.1L259.8 1429.8L262.0 1429.5L264.2 1429.2L266.3 1429.0L268.5 1428.7L270.7 1428.4L272.8 1428.1L275.0 1427.8L277.2 1427.5L279.3 1427.2L281.5 1426.9L283.7 1426.6L285.9 1426.3L288.0 1426.0L290.2 1425.7L292.3 1425.3L294.5 1425.0L296.7 1424.7L298.8 1424.3L301.0 1424.0L303.2 1423.7L305.3 1423.3L307.5 1422.9L309.6 1422.6L311.8 1422.2L313.9 1421.8L316.1 1421.4L318.2 1421.1L320.4 1420.7L322.5 1420.3L324.7 1419.9L326.8 1419.4L329.0 1419.0L331.1 1418.6L333.3 1418.1L335.4 1417.7L337.5 1417.3L339.7 1416.8L341.8 1416.3L343.9 1415.9L346.1 1415.4L348.2 1414.9L350.3 1414.4L352.4 1413.9L354.5 1413.4L356.7 1412.8L358.8 1412.3L360.9 1411.8L363.0 1411.2L365.1 1410.7L367.2 1410.1L369.3 1409.6L371.4 1409.0L373.5 1408.4L375.6 1407.8L377.7 1407.2L379.8 1406.6L381.9 1406.0L384.0 1405.4L386.1 1404.7L388.2 1404.1L390.2 1403.5L392.3 1402.8L394.4 1402.2L396.5 1401.5L398.5 1400.8L400.6 1400.2L402.7 1399.5L404.8 1398.8L406.8 1398.1L408.9 1397.4L410.9 1396.7L413.0 1396.0L415.1 1395.3L417.1 1394.5L419.2 1393.8L421.2 1393.1L423.3 1392.3L425.3 1391.6L427.3 1390.8L429.4 1390.0L431.4 1389.3L433.5 1388.5L435.5 1387.7L437.5 1386.9L439.6 1386.1L441.6 1385.3L443.6 1384.5L445.6 1383.7L447.7 1382.9L449.7 1382.1L451.7 1381.3L453.7 1380.4L455.7 1379.6L457.7 1378.7L459.7 1377.9L461.7 1377.0L463.7 1376.2L465.7 1375.3L467.7 1374.5L469.7 1373.6L471.7 1372.7L473.7 1371.8L475.7 1370.9L477.7 1370.1L479.7 1369.2L481.7 1368.3L483.7 1367.4L485.7 1366.5L487.6 1365.6L489.6 1364.6L491.6 1363.7L493.6 1362.8L495.6 1361.9L497.5 1361.0L499.5 1360.0L501.5 1359.1L503.5 1358.2L505.4 1357.2L507.4 1356.3L509.4 1355.4L511.3 1354.4L513.3 1353.5L515.3 1352.5L517.2 1351.6L519.2 1350.6L521.2 1349.7L523.1 1348.7L525.1 1347.8L527.0 1346.8L529.0 1345.9L531.0 1344.9L532.9 1344.0L534.9 1343.0L536.9 1342.1L538.8 1341.1L540.8 1340.1L542.7 1339.2L544.7 1338.2L546.6 1337.3L548.6 1336.3L550.6 1335.3L552.5 1334.4L554.5 1333.4L556.4 1332.5L558.4 1331.5L560.3 1330.5L562.3 1329.6L564.3 1328.6L566.2 1327.7L568.2 1326.7L570.1 1325.8L572.1 1324.8L574.1 1323.9L576.0 1322.9L578.0 1322.0L579.9 1321.0L581.9 1320.1L583.9 1319.2L585.8 1318.2L587.8 1317.3L589.8 1316.3L591.7 1315.4L593.7 1314.5L595.7 1313.6L597.6 1312.6L599.6 1311.7L601.6 1310.8L603.5 1309.9L605.5 1308.9L607.5 1308.0L609.4 1307.1L611.4 1306.2L613.4 1305.3L615.4 1304.4L617.3 1303.5L619.3 1302.6L621.3 1301.7L623.3 1300.8L625.2 1299.9L627.2 1299.0L629.2 1298.1L631.2 1297.2L633.2 1296.3L635.1 1295.4L637.1 1294.5L639.1 1293.6L641.1 1292.8L643.1 1291.9L645.1 1291.0L647.1 1290.1L649.1 1289.3L651.0 1288.4L653.0 1287.5L655.0 1286.7L657.0 1285.8L659.0 1284.9L661.0 1284.1L663.0 1283.2L665.0 1282.4L667.0 1281.5L669.0 1280.7L671.0 1279.8L673.0 1279.0L675.0 1278.1L677.0 1277.3L679.1 1276.4L681.1 1275.6L683.1 1274.8L685.1 1273.9L687.1 1273.1L689.1 1272.3L691.1 1271.5L693.1 1270.6L695.2 1269.8L697.2 1269.0L699.2 1268.2L701.2 1267.4L703.3 1266.6L705.3 1265.8L707.3 1264.9L709.3 1264.1L711.4 1263.3L713.4 1262.5L715.4 1261.8L717.5 1261.0L719.5 1260.2L721.6 1259.4L723.6 1258.6L725.6 1257.8L727.7 1257.0L729.7 1256.2L731.8 1255.5L733.8 1254.7L735.9 1253.9L737.9 1253.2L740.0 1252.4L742.1 1251.7L744.1 1250.9L746.2 1250.2L748.2 1249.4L750.3 1248.7L752.4 1248.0L754.4 1247.2L756.5 1246.5L758.6 1245.8L760.6 1245.1L762.7 1244.4L764.8 1243.7L766.9 1243.0L769.0 1242.3L771.0 1241.6L773.1 1240.9L775.2 1240.3L777.3 1239.6L779.4 1239.0L781.5 1238.3L783.6 1237.7L785.7 1237.1L787.8 1236.4L789.9 1235.8L792.0 1235.2L794.1 1234.6L796.2 1234.0L798.3 1233.5L800.4 1232.9L802.5 1232.3L804.6 1231.8L806.7 1231.2L808.8 1230.7L810.9 1230.2L813.1 1229.7L815.2 1229.2L817.3 1228.7L819.4 1228.2L821.6 1227.7L823.7 1227.3L825.8 1226.8L828.0 1226.4L830.1 1226.0L832.2 1225.5L834.4 1225.1L836.5 1224.7L838.7 1224.4L840.8 1224.0L843.0 1223.6L845.1 1223.3L847.3 1223.0L849.4 1222.6L851.6 1222.3L853.7 1222.0L855.9 1221.7L858.0 1221.5L860.2 1221.2L862.3 1221.0L864.5 1220.7L866.7 1220.5L868.8 1220.3L871.0 1220.1L873.2 1219.9L875.3 1219.7L877.5 1219.6L879.7 1219.4L881.8 1219.3L884.0 1219.2L886.2 1219.0L888.3 1218.9L890.5 1218.9L892.7 1218.8L894.8 1218.7L897.0 1218.7L899.2 1218.7L901.4 1218.6L903.5 1218.6L905.7 1218.7L907.9 1218.7L910.0 1218.7L912.2 1218.8L914.4 1218.8L916.6 1218.9L918.7 1219.0L920.9 1219.1L923.1 1219.2L925.2 1219.4L927.4 1219.5L929.6 1219.7L931.8 1219.9L933.9 1220.1L936.1 1220.3L938.3 1220.5L940.4 1220.7L942.6 1220.9L944.8 1221.2L946.9 1221.4L949.1 1221.7L951.3 1222.0L953.4 1222.3L955.6 1222.6L957.7 1222.9L959.9 1223.2L962.1 1223.5L964.2 1223.9L966.4 1224.2L968.5 1224.6L970.7 1225.0L972.9 1225.4L975.0 1225.7L977.2 1226.1L979.3 1226.5L981.5 1227.0L983.6 1227.4L985.8 1227.8L987.9 1228.3L990.1 1228.7L992.2 1229.2L994.4 1229.6L996.5 1230.1L998.7 1230.6L1000.8 1231.0L1002.9 1231.5L1005.1 1232.0L1007.2 1232.5L1009.4 1233.0L1011.5 1233.5L1013.6 1234.0L1015.8 1234.6L1017.9 1235.1L1020.0 1235.6L1022.1 1236.1L1024.3 1236.7L1026.4 1237.2L1028.5 1237.8L1030.6 1238.3L1032.8 1238.9L1034.9 1239.4L1037.0 1240.0L1039.1 1240.5L1041.2 1241.1L1043.3 1241.7L1045.5 1242.3L1047.6 1242.8L1049.7 1243.4L1051.8 1244.0L1053.9 1244.6L1056.0 1245.2L1058.1 1245.8L1060.2 1246.4L1062.3 1247.0L1064.4 1247.6L1066.5 1248.2L1068.6 1248.8L1070.7 1249.4L1072.8 1250.1L1074.9 1250.7L1076.9 1251.3L1079.0 1251.9L1081.1 1252.6L1083.2 1253.2L1085.3 1253.8L1087.4 1254.5L1089.5 1255.1L1091.5 1255.8L1093.6 1256.4L1095.7 1257.1L1097.8 1257.7L1099.9 1258.4L1101.9 1259.1L1104.0 1259.7L1106.1 1260.4L1108.2 1261.1L1110.2 1261.7L1112.3 1262.4L1114.4 1263.1L1116.5 1263.8L1118.5 1264.5L1120.6 1265.1L1122.7 1265.8L1124.7 1266.5L1126.8 1267.2L1128.9 1267.9L1130.9 1268.6L1133.0 1269.3L1135.1 1270.0L1137.1 1270.7L1139.2 1271.4L1141.2 1272.1L1143.3 1272.8L1145.4 1273.5L1147.4 1274.3L1149.5 1275.0L1151.5 1275.7L1153.6 1276.4L1155.7 1277.1L1157.7 1277.9L1159.8 1278.6L1161.8 1279.3L1163.9 1280.0L1165.9 1280.8L1168.0 1281.5L1170.0 1282.2L1172.1 1283.0L1174.1 1283.7L1176.2 1284.5L1178.2 1285.2L1180.3 1285.9L1182.4 1286.7L1184.4 1287.4L1186.5 1288.2L1188.5 1288.9L1190.6 1289.7L1192.6 1290.4L1194.7 1291.2L1196.7 1291.9L1198.7 1292.7L1200.8 1293.4L1202.8 1294.2L1204.9 1295.0L1206.9 1295.7L1209.0 1296.5L1211.0 1297.2L1213.1 1298.0L1215.1 1298.8L1217.2 1299.5L1219.2 1300.3L1221.3 1301.0L1223.3 1301.8L1225.4 1302.6L1227.4 1303.3L1229.5 1304.1L1231.5 1304.9L1233.6 1305.6L1235.6 1306.4L1237.7 1307.2L1239.7 1307.9L1241.8 1308.7L1243.8 1309.4L1245.9 1310.2L1247.9 1310.9L1250.0 1311.7L1252.0 1312.5L1254.1 1313.2L1256.1 1314.0L1258.2 1314.7L1260.2 1315.4L1262.3 1316.2L1264.3 1316.9L1266.4 1317.7L1268.5 1318.4L1270.5 1319.1L1272.6 1319.9L1274.6 1320.6L1276.7 1321.3L1278.8 1322.0L1280.8 1322.7L1282.9 1323.5L1284.9 1324.2L1287.0 1324.9L1289.1 1325.6L1291.1 1326.3L1293.2 1327.0L1295.3 1327.6L1297.4 1328.3L1299.4 1329.0L1301.5 1329.7L1303.6 1330.4L1305.7 1331.0L1307.7 1331.7L1309.8 1332.3L1311.9 1333.0L1314.0 1333.6L1316.0 1334.3L1318.1 1334.9L1320.2 1335.6L1322.3 1336.2L1324.4 1336.8L1326.5 1337.4L1328.6 1338.1L1330.7 1338.7L1332.7 1339.3L1334.8 1339.9L1336.9 1340.5L1339.0 1341.1L1341.1 1341.7L1343.2 1342.3L1345.3 1342.9L1347.4 1343.5L1349.5 1344.1L1351.6 1344.6L1353.7 1345.2L1355.8 1345.8L1357.9 1346.3L1360.0 1346.9L1362.1 1347.5L1364.2 1348.0L1366.3 1348.6L1368.4 1349.1L1370.6 1349.7L1372.7 1350.2L1374.8 1350.8L1376.9 1351.3L1379.0 1351.9L1381.1 1352.4L1383.2 1352.9L1385.3 1353.5L1387.4 1354.0L1389.6 1354.5L1391.7 1355.0L1393.8 1355.6L1395.9 1356.1L1398.0 1356.6L1400.2 1357.1L1402.3 1357.6L1404.4 1358.1L1406.5 1358.6L1408.6 1359.1L1410.8 1359.6L1412.9 1360.1L1415.0 1360.6L1417.1 1361.1L1419.3 1361.6L1421.4 1362.1L1423.5 1362.6L1425.7 1363.1L1427.8 1363.6L1429.9 1364.0L1432.0 1364.5L1434.2 1365.0L1436.3 1365.5L1438.4 1365.9L1440.6 1366.4L1442.7 1366.9L1444.8 1367.3L1447.0 1367.8L1449.1 1368.3L1451.2 1368.7L1453.4 1369.2L1455.5 1369.6L1457.6 1370.1L1459.8 1370.6L1461.9 1371.0L1464.1 1371.5L1466.2 1371.9L1468.3 1372.3L1470.5 1372.8L1472.6 1373.2L1474.8 1373.7L1476.9 1374.1L1479.0 1374.6L1481.2 1375.0L1483.3 1375.4L1485.5 1375.9L1487.6 1376.3L1489.7 1376.7L1491.9 1377.2L1494.0 1377.6L1496.2 1378.0L1498.3 1378.5L1500.5 1378.9L1502.6 1379.3L1504.7 1379.7L1506.9 1380.1L1509.0 1380.6L1511.2 1381.0L1513.3 1381.4L1515.5 1381.8L1517.6 1382.2L1519.8 1382.7L1521.9 1383.1L1524.0 1383.5L1526.2 1383.9L1528.3 1384.3L1530.5 1384.7L1532.6 1385.1L1534.8 1385.6L1536.9 1386.0L1539.1 1386.4L1541.2 1386.8L1543.4 1387.2L1545.5 1387.6L1547.7 1388.0L1549.8 1388.4L1552.0 1388.8L1554.1 1389.2L1556.2 1389.6L1558.4 1390.0L1560.5 1390.4L1562.7 1390.8L1564.8 1391.2L1567.0 1391.6L1569.1 1392.0L1571.3 1392.4L1573.4 1392.8L1575.6 1393.1L1577.7 1393.5L1579.9 1393.9L1582.0 1394.3L1584.2 1394.7L1586.3 1395.1L1588.5 1395.5L1590.6 1395.8L1592.8 1396.2L1594.9 1396.6L1597.1 1397.0L1599.2 1397.3L1601.4 1397.7L1603.5 1398.1L1605.7 1398.5L1607.8 1398.8L1610.0 1399.2L1612.1 1399.6L1614.3 1399.9L1616.4 1400.3L1618.6 1400.7L1620.7 1401.0L1622.9 1401.4L1625.0 1401.8L1627.2 1402.1L1629.4 1402.5L1631.5 1402.8L1633.7 1403.2L1635.8 1403.6L1638.0 1403.9L1640.1 1404.3L1642.3 1404.6L1644.4 1405.0L1646.6 1405.3L1648.7 1405.6L1650.9 1406.0L1653.0 1406.3L1655.2 1406.7L1657.4 1407.0L1659.5 1407.4L1661.7 1407.7L1663.8 1408.0L1666.0 1408.4L1668.1 1408.7L1670.3 1409.0L1672.5 1409.4L1674.6 1409.7L1676.8 1410.0L1678.9 1410.3L1681.1 1410.7L1683.2 1411.0L1685.4 1411.3L1687.6 1411.6L1689.7 1411.9L1691.9 1412.2L1694.0 1412.6L1696.2 1412.9L1698.4 1413.2L1700.5 1413.5L1702.7 1413.8L1704.8 1414.1L1707.0 1414.4L1709.2 1414.7L1711.3 1415.0L1713.5 1415.3L1715.6 1415.6L1717.8 1415.9L1720.0 1416.2L1722.1 1416.5L1724.3 1416.8L1726.5 1417.1L1728.6 1417.3L1730.8 1417.6L1732.9 1417.9L1735.1 1418.2L1737.3 1418.5L1739.4 1418.7L1741.6 1419.0L1743.8 1419.3L1745.9 1419.6L1748.1 1419.8L1750.3 1420.1L1752.4 1420.4L1754.6 1420.6L1756.8 1420.9L1758.9 1421.2L1761.1 1421.4L1763.3 1421.7L1765.4 1421.9L1767.6 1422.2L1769.8 1422.4L1771.9 1422.7L1774.1 1422.9L1776.3 1423.2L1778.4 1423.4L1780.6 1423.6L1782.8 1423.9L1785.0 1424.1L1787.1 1424.4L1789.3 1424.6L1791.5 1424.8L1793.6 1425.0L1795.8 1425.3L1798.0 1425.5L1800.2 1425.7L1802.3 1425.9L1804.5 1426.2L1806.7 1426.4L1808.8 1426.6L1811.0 1426.8L1813.2 1427.0L1815.4 1427.2L1817.5 1427.4L1819.7 1427.6L1821.9 1427.9L1824.1 1428.1L1826.2 1428.3L1828.4 1428.5L1830.6 1428.7L1832.8 1428.8L1834.9 1429.0L1837.1 1429.2L1839.3 1429.4L1841.5 1429.6L1843.6 1429.8L1845.8 1430.0L1848.0 1430.2L1850.2 1430.4L1852.3 1430.5L1854.5 1430.7L1856.7 1430.9L1858.9 1431.1L1861.1 1431.2L1863.2 1431.4L1865.4 1431.6L1867.6 1431.8L1869.8 1431.9L1871.9 1432.1L1874.1 1432.3L1876.3 1432.4L1878.5 1432.6L1880.7 1432.8L1882.8 1432.9L1885.0 1433.1L1887.2 1433.2L1889.4 1433.4L1891.6 1433.5L1893.7 1433.7L1895.9 1433.9L1898.1 1434.0L1900.3 1434.2L1902.5 1434.3L1904.6 1434.5L1906.8 1434.6L1909.0 1434.7L1911.2 1434.9L1913.4 1435.0L1915.6 1435.2L1917.7 1435.3L1919.9 1435.4L1922.1 1435.6L1924.3 1435.7L1926.5 1435.9L1928.6 1436.0L1930.8 1436.1L1933.0 1436.3L1935.2 1436.4L1937.4 1436.5L1939.6 1436.6L1941.7 1436.8L1943.9 1436.9L1946.1 1437.0L1948.3 1437.1L1950.5 1437.3L1952.6 1437.4L1954.8 1437.5L1957.0 1437.6L1959.2 1437.8L1961.4 1437.9L1963.6 1438.0L1965.7 1438.1L1967.9 1438.2L1970.1 1438.3L1972.3 1438.5L1974.5 1438.6L1976.7 1438.7L1978.8 1438.8L1981.0 1438.9L1983.2 1439.0L1985.4 1439.1L1987.6 1439.2L1989.8 1439.3L1991.9 1439.4L1994.1 1439.5L1996.3 1439.7L1998.5 1439.8L2000.7 1439.9L2002.9 1440.0L2005.0 1440.1L2007.2 1440.2L2009.4 1440.3L2011.6 1440.4L2013.8 1440.5L2015.9 1440.6L2018.1 1440.7L2020.3 1440.8L2022.5 1440.9L2024.7 1441.0L2026.9 1441.1L2029.0 1441.1L2031.2 1441.2L2033.4 1441.3L2035.6 1441.4L2037.8 1441.5L2040.0 1441.6L2042.1 1441.7L2044.3 1441.8L2046.5 1441.9L2048.7 1442.0L2050.9 1442.1L2053.0 1442.2L2055.2 1442.3L2057.4 1442.4L2059.6 1442.4L2061.8 1442.5L2064.0 1442.6L2066.1 1442.7L2068.3 1442.8L2070.5 1442.9L2072.7 1443.0L2074.9 1443.1L2077.0 1443.1L2079.2 1443.2L2081.4 1443.3L2083.6 1443.4L2085.8 1443.5L2087.9 1443.6L2090.1 1443.7L2092.3 1443.8L2094.5 1443.8L2096.7 1443.9L2098.8 1444.0L2101.0 1444.1L2103.2 1444.2L2105.4 1444.3L2107.5 1444.3L2109.7 1444.4L2111.9 1444.5L2114.1 1444.6L2116.3 1444.7L2118.4 1444.8L2120.6 1444.9L2122.8 1444.9L2124.5 1445.0" stroke="#0000c8"/>
<path d="M230.0 1420.1L231.7 1420.0L234.1 1419.9L236.4 1419.7L238.7 1419.5L241.1 1419.3L243.4 1419.1L245.8 1418.8L248.1 1418.6L250.4 1418.3L252.7 1418.0L255.0 1417.7L257.3 1417.4L259.6 1417.0L261.9 1416.6L264.2 1416.3L266.5 1415.9L268.8 1415.4L271.1 1415.0L273.3 1414.6L275.6 1414.1L277.9 1413.6L280.1 1413.1L282.4 1412.6L284.6 1412.1L286.9 1411.6L289.1 1411.0L291.3 1410.4L293.6 1409.8L295.8 1409.2L298.0 1408.6L300.2 1408.0L302.4 1407.3L304.6 1406.7L306.8 1406.0L309.0 1405.3L311.2 1404.6L313.4 1403.9L315.6 1403.2L317.8 1402.4L320.0 1401.7L322.1 1400.9L324.3 1400.1L326.4 1399.3L328.6 1398.5L330.8 1397.7L332.9 1396.9L335.0 1396.0L337.2 1395.2L339.3 1394.3L341.4 1393.4L343.6 1392.5L345.7 1391.6L347.8 1390.7L349.9 1389.8L352.0 1388.9L354.1 1387.9L356.2 1387.0L358.3 1386.0L360.4 1385.0L362.5 1384.0L364.6 1383.0L366.6 1382.0L368.7 1381.0L370.8 1380.0L372.9 1378.9L374.9 1377.9L377.0 1376.8L379.0 1375.8L381.1 1374.7L383.1 1373.6L385.1 1372.5L387.2 1371.4L389.2 1370.3L391.2 1369.2L393.3 1368.0L395.3 1366.9L397.3 1365.8L399.3 1364.6L401.3 1363.5L403.3 1362.3L405.3 1361.1L407.3 1359.9L409.3 1358.7L411.3 1357.6L413.3 1356.4L415.2 1355.1L417.2 1353.9L419.2 1352.7L421.1 1351.5L423.1 1350.2L425.1 1349.0L427.0 1347.8L429.0 1346.5L430.9 1345.3L432.9 1344.0L434.8 1342.7L436.7 1341.5L438.7 1340.2L440.6 1338.9L442.5 1337.6L444.4 1336.3L446.4 1335.0L448.3 1333.7L450.2 1332.4L452.1 1331.1L454.0 1329.8L455.9 1328.5L457.8 1327.2L459.7 1325.8L461.5 1324.5L463.4 1323.2L465.3 1321.8L467.2 1320.5L469.1 1319.1L470.9 1317.8L472.8 1316.4L474.6 1315.1L476.5 1313.7L478.4 1312.3L480.2 1311.0L482.1 1309.6L483.9 1308.2L485.7 1306.8L487.6 1305.4L489.4 1304.0L491.2 1302.6L493.1 1301.2L494.9 1299.8L496.7 1298.4L498.5 1297.0L500.4 1295.6L502.2 1294.2L504.0 1292.7L505.8 1291.3L507.6 1289.9L509.4 1288.4L511.2 1287.0L513.0 1285.5L514.8 1284.1L516.6 1282.6L518.3 1281.2L520.1 1279.7L521.9 1278.3L523.7 1276.8L525.5 1275.3L527.2 1273.9L529.0 1272.4L530.8 1270.9L532.6 1269.4L534.3 1268.0L536.1 1266.5L537.9 1265.0L539.6 1263.5L541.4 1262.0L543.1 1260.5L544.9 1259.1L546.7 1257.6L548.4 1256.1L550.2 1254.6L552.0 1253.1L553.7 1251.6L555.5 1250.1L557.2 1248.6L559.0 1247.1L560.7 1245.6L562.5 1244.1L564.3 1242.6L566.0 1241.1L567.8 1239.6L569.6 1238.1L571.3 1236.6L573.1 1235.1L574.9 1233.6L576.6 1232.2L578.4 1230.7L580.2 1229.2L581.9 1227.7L583.7 1226.2L585.5 1224.7L587.3 1223.3L589.1 1221.8L590.9 1220.3L592.6 1218.8L594.4 1217.4L596.2 1215.9L598.0 1214.4L599.8 1213.0L601.6 1211.5L603.4 1210.0L605.2 1208.6L607.0 1207.1L608.8 1205.7L610.6 1204.2L612.4 1202.8L614.2 1201.3L616.1 1199.9L617.9 1198.5L619.7 1197.0L621.5 1195.6L623.3 1194.2L625.1 1192.7L627.0 1191.3L628.8 1189.9L630.6 1188.5L632.5 1187.1L634.3 1185.7L636.1 1184.2L638.0 1182.8L639.8 1181.4L641.6 1180.0L643.5 1178.7L645.3 1177.3L647.2 1175.9L649.0 1174.5L650.9 1173.1L652.7 1171.8L654.6 1170.4L656.4 1169.0L658.3 1167.7L660.1 1166.3L662.0 1165.0L663.9 1163.6L665.7 1162.3L667.6 1160.9L669.5 1159.6L671.4 1158.3L673.2 1157.0L675.1 1155.6L677.0 1154.3L678.9 1153.0L680.8 1151.7L682.7 1150.5L684.6 1149.2L686.5 1147.9L688.4 1146.6L690.3 1145.4L692.3 1144.1L694.2 1142.8L696.1 1141.6L698.0 1140.3L700.0 1139.1L701.9 1137.9L703.8 1136.6L705.8 1135.4L707.7 1134.2L709.7 1133.0L711.6 1131.7L713.6 1130.5L715.5 1129.3L717.5 1128.1L719.5 1126.9L721.4 1125.7L723.4 1124.5L725.4 1123.3L727.4 1122.1L729.3 1120.9L731.3 1119.7L733.3 1118.5L735.3 1117.3L737.3 1116.1L739.3 1114.9L741.2 1113.7L743.2 1112.5L745.2 1111.3L747.2 1110.1L749.2 1109.0L751.3 1107.8L753.3 1106.6L755.3 1105.4L757.3 1104.3L759.3 1103.1L761.3 1102.0L763.4 1100.8L765.4 1099.7L767.4 1098.6L769.5 1097.5L771.5 1096.4L773.6 1095.2L775.6 1094.2L777.7 1093.1L779.7 1092.0L781.8 1090.9L783.9 1089.9L785.9 1088.8L788.0 1087.8L790.1 1086.8L792.2 1085.7L794.3 1084.7L796.4 1083.7L798.5 1082.8L800.6 1081.8L802.7 1080.8L804.8 1079.9L806.9 1079.0L809.0 1078.1L811.2 1077.2L813.3 1076.3L815.4 1075.4L817.6 1074.6L819.7 1073.7L821.9 1072.9L824.0 1072.1L826.2 1071.3L828.4 1070.6L830.6 1069.8L832.7 1069.1L834.9 1068.4L837.1 1067.7L839.3 1067.0L841.5 1066.3L843.7 1065.7L846.0 1065.1L848.2 1064.5L850.4 1063.9L852.7 1063.4L854.9 1062.8L857.2 1062.3L859.4 1061.8L861.7 1061.4L863.9 1060.9L866.2 1060.5L868.5 1060.1L870.7 1059.7L873.0 1059.4L875.3 1059.1L877.6 1058.8L879.9 1058.5L882.2 1058.2L884.5 1058.0L886.7 1057.8L889.0 1057.7L891.3 1057.5L893.6 1057.4L895.9 1057.4L898.3 1057.3L900.6 1057.3L902.9 1057.3L905.2 1057.3L907.5 1057.4L909.8 1057.4L912.1 1057.5L914.4 1057.7L916.7 1057.8L919.0 1058.0L921.3 1058.2L923.6 1058.4L925.9 1058.7L928.2 1058.9L930.5 1059.2L932.8 1059.5L935.0 1059.8L937.3 1060.2L939.6 1060.5L941.9 1060.9L944.2 1061.3L946.4 1061.7L948.7 1062.1L950.9 1062.6L953.2 1063.0L955.4 1063.5L957.7 1064.0L959.9 1064.5L962.2 1065.0L964.4 1065.6L966.6 1066.1L968.9 1066.7L971.1 1067.3L973.3 1067.9L975.5 1068.5L977.7 1069.1L979.9 1069.8L982.1 1070.4L984.3 1071.1L986.5 1071.8L988.7 1072.5L990.9 1073.2L993.1 1074.0L995.3 1074.7L997.5 1075.5L999.7 1076.2L1001.8 1077.0L1004.0 1077.8L1006.2 1078.6L1008.3 1079.4L1010.5 1080.3L1012.6 1081.1L1014.8 1082.0L1016.9 1082.8L1019.1 1083.7L1021.2 1084.6L1023.4 1085.5L1025.5 1086.4L1027.6 1087.3L1029.8 1088.3L1031.9 1089.2L1034.0 1090.1L1036.1 1091.1L1038.2 1092.1L1040.3 1093.0L1042.5 1094.0L1044.6 1095.0L1046.7 1096.0L1048.8 1097.0L1050.9 1098.1L1052.9 1099.1L1055.0 1100.1L1057.1 1101.2L1059.2 1102.2L1061.3 1103.3L1063.4 1104.3L1065.4 1105.4L1067.5 1106.5L1069.6 1107.6L1071.6 1108.7L1073.7 1109.8L1075.8 1110.9L1077.8 1112.0L1079.9 1113.1L1081.9 1114.2L1084.0 1115.3L1086.0 1116.5L1088.0 1117.6L1090.1 1118.7L1092.1 1119.9L1094.2 1121.0L1096.2 1122.2L1098.2 1123.3L1100.2 1124.5L1102.3 1125.6L1104.3 1126.8L1106.3 1128.0L1108.3 1129.1L1110.3 1130.3L1112.3 1131.5L1114.3 1132.7L1116.3 1133.9L1118.3 1135.0L1120.3 1136.2L1122.3 1137.4L1124.3 1138.6L1126.3 1139.8L1128.3 1141.0L1130.3 1142.2L1132.3 1143.4L1134.2 1144.5L1136.2 1145.7L1138.2 1146.9L1140.2 1148.1L1142.1 1149.3L1144.1 1150.5L1146.1 1151.7L1148.1 1153.0L1150.0 1154.2L1152.0 1155.4L1154.0 1156.6L1155.9 1157.8L1157.9 1159.0L1159.8 1160.2L1161.8 1161.4L1163.8 1162.6L1165.7 1163.8L1167.7 1165.0L1169.6 1166.2L1171.6 1167.5L1173.5 1168.7L1175.5 1169.9L1177.4 1171.1L1179.4 1172.3L1181.3 1173.5L1183.3 1174.7L1185.2 1176.0L1187.2 1177.2L1189.1 1178.4L1191.1 1179.6L1193.0 1180.8L1195.0 1182.0L1196.9 1183.2L1198.9 1184.4L1200.9 1185.7L1202.8 1186.9L1204.8 1188.1L1206.7 1189.3L1208.7 1190.5L1210.6 1191.7L1212.6 1192.9L1214.5 1194.1L1216.5 1195.3L1218.4 1196.6L1220.4 1197.8L1222.4 1199.0L1224.3 1200.2L1226.3 1201.4L1228.2 1202.6L1230.2 1203.8L1232.2 1205.0L1234.1 1206.2L1236.1 1207.4L1238.1 1208.6L1240.0 1209.8L1242.0 1211.0L1244.0 1212.1L1246.0 1213.3L1247.9 1214.5L1249.9 1215.7L1251.9 1216.9L1253.9 1218.1L1255.9 1219.3L1257.9 1220.4L1259.8 1221.6L1261.8 1222.8L1263.8 1224.0L1265.8 1225.1L1267.8 1226.3L1269.8 1227.5L1271.8 1228.6L1273.8 1229.8L1275.8 1231.0L1277.9 1232.1L1279.9 1233.3L1281.9 1234.4L1283.9 1235.6L1285.9 1236.7L1287.9 1237.9L1290.0 1239.0L1292.0 1240.1L1294.0 1241.3L1296.0 1242.4L1298.1 1243.5L1300.1 1244.6L1302.1 1245.8L1304.2 1246.9L1306.2 1248.0L1308.2 1249.1L1310.3 1250.2L1312.3 1251.3L1314.4 1252.4L1316.4 1253.5L1318.5 1254.6L1320.5 1255.6L1322.6 1256.7L1324.6 1257.8L1326.7 1258.8L1328.7 1259.9L1330.8 1261.0L1332.9 1262.0L1334.9 1263.1L1337.0 1264.1L1339.1 1265.2L1341.1 1266.2L1343.2 1267.2L1345.3 1268.2L1347.4 1269.3L1349.5 1270.3L1351.5 1271.3L1353.6 1272.3L1355.7 1273.3L1357.8 1274.3L1359.9 1275.3L1362.0 1276.2L1364.1 1277.2L1366.2 1278.2L1368.3 1279.2L1370.4 1280.1L1372.5 1281.1L1374.6 1282.0L1376.7 1283.0L1378.8 1283.9L1380.9 1284.9L1383.0 1285.8L1385.1 1286.8L1387.2 1287.7L1389.3 1288.6L1391.4 1289.5L1393.5 1290.4L1395.7 1291.4L1397.8 1292.3L1399.9 1293.2L1402.0 1294.1L1404.2 1295.0L1406.3 1295.9L1408.4 1296.8L1410.5 1297.6L1412.7 1298.5L1414.8 1299.4L1416.9 1300.3L1419.1 1301.2L1421.2 1302.0L1423.3 1302.9L1425.5 1303.8L1427.6 1304.6L1429.8 1305.5L1431.9 1306.3L1434.0 1307.2L1436.2 1308.0L1438.3 1308.9L1440.5 1309.7L1442.6 1310.6L1444.8 1311.4L1446.9 1312.3L1449.1 1313.1L1451.2 1313.9L1453.4 1314.8L1455.6 1315.6L1457.7 1316.4L1459.9 1317.2L1462.0 1318.1L1464.2 1318.9L1466.4 1319.7L1468.5 1320.5L1470.7 1321.3L1472.8 1322.1L1475.0 1322.9L1477.2 1323.7L1479.4 1324.5L1481.5 1325.3L1483.7 1326.1L1485.9 1326.9L1488.0 1327.7L1490.2 1328.5L1492.4 1329.3L1494.6 1330.1L1496.7 1330.9L1498.9 1331.7L1501.1 1332.5L1503.3 1333.2L1505.5 1334.0L1507.6 1334.8L1509.8 1335.5L1512.0 1336.3L1514.2 1337.1L1516.4 1337.8L1518.6 1338.6L1520.7 1339.4L1522.9 1340.1L1525.1 1340.9L1527.3 1341.6L1529.5 1342.4L1531.7 1343.1L1533.9 1343.8L1536.1 1344.6L1538.3 1345.3L1540.5 1346.0L1542.7 1346.8L1544.9 1347.5L1547.1 1348.2L1549.3 1348.9L1551.5 1349.6L1553.7 1350.4L1555.9 1351.1L1558.1 1351.8L1560.3 1352.5L1562.5 1353.2L1564.7 1353.9L1566.9 1354.6L1569.1 1355.3L1571.3 1356.0L1573.5 1356.6L1575.8 1357.3L1578.0 1358.0L1580.2 1358.7L1582.4 1359.3L1584.6 1360.0L1586.8 1360.7L1589.1 1361.3L1591.3 1362.0L1593.5 1362.6L1595.7 1363.3L1597.9 1363.9L1600.2 1364.6L1602.4 1365.2L1604.6 1365.9L1606.8 1366.5L1609.1 1367.1L1611.3 1367.8L1613.5 1368.4L1615.7 1369.0L1618.0 1369.6L1620.2 1370.2L1622.4 1370.8L1624.7 1371.4L1626.9 1372.0L1629.1 1372.6L1631.4 1373.2L1633.6 1373.8L1635.8 1374.4L1638.1 1375.0L1640.3 1375.6L1642.5 1376.1L1644.8 1376.7L1647.0 1377.3L1649.3 1377.8L1651.5 1378.4L1653.8 1379.0L1656.0 1379.5L1658.2 1380.1L1660.5 1380.6L1662.7 1381.2L1665.0 1381.7L1667.2 1382.2L1669.5 1382.8L1671.7 1383.3L1674.0 1383.8L1676.2 1384.4L1678.5 1384.9L1680.7 1385.4L1683.0 1385.9L1685.2 1386.4L1687.5 1386.9L1689.7 1387.4L1692.0 1388.0L1694.2 1388.5L1696.5 1389.0L1698.7 1389.4L1701.0 1389.9L1703.3 1390.4L1705.5 1390.9L1707.8 1391.4L1710.0 1391.9L1712.3 1392.4L1714.6 1392.8L1716.8 1393.3L1719.1 1393.8L1721.3 1394.2L1723.6 1394.7L1725.9 1395.2L1728.1 1395.6L1730.4 1396.1L1732.7 1396.5L1734.9 1397.0L1737.2 1397.4L1739.4 1397.9L1741.7 1398.3L1744.0 1398.8L1746.2 1399.2L1748.5 1399.6L1750.8 1400.1L1753.0 1400.5L1755.3 1400.9L1757.6 1401.4L1759.8 1401.8L1762.1 1402.2L1764.4 1402.6L1766.7 1403.0L1768.9 1403.4L1771.2 1403.9L1773.5 1404.3L1775.7 1404.7L1778.0 1405.1L1780.3 1405.5L1782.6 1405.9L1784.8 1406.3L1787.1 1406.7L1789.4 1407.1L1791.6 1407.4L1793.9 1407.8L1796.2 1408.2L1798.5 1408.6L1800.7 1409.0L1803.0 1409.4L1805.3 1409.7L1807.6 1410.1L1809.8 1410.5L1812.1 1410.8L1814.4 1411.2L1816.7 1411.6L1819.0 1411.9L1821.2 1412.3L1823.5 1412.6L1825.8 1413.0L1828.1 1413.3L1830.4 1413.7L1832.6 1414.0L1834.9 1414.4L1837.2 1414.7L1839.5 1415.0L1841.8 1415.4L1844.1 1415.7L1846.3 1416.0L1848.6 1416.3L1850.9 1416.7L1853.2 1417.0L1855.5 1417.3L1857.8 1417.6L1860.0 1417.9L1862.3 1418.2L1864.6 1418.5L1866.9 1418.8L1869.2 1419.1L1871.5 1419.4L1873.8 1419.7L1876.1 1420.0L1878.4 1420.3L1880.6 1420.6L1882.9 1420.9L1885.2 1421.1L1887.5 1421.4L1889.8 1421.7L1892.1 1422.0L1894.4 1422.2L1896.7 1422.5L1899.0 1422.8L1901.3 1423.0L1903.6 1423.3L1905.9 1423.5L1908.2 1423.8L1910.5 1424.0L1912.8 1424.3L1915.1 1424.5L1917.4 1424.8L1919.7 1425.0L1922.0 1425.3L1924.3 1425.5L1926.6 1425.7L1928.9 1426.0L1931.2 1426.2L1933.5 1426.4L1935.8 1426.6L1938.1 1426.9L1940.4 1427.1L1942.7 1427.3L1945.0 1427.5L1947.3 1427.7L1949.6 1427.9L1951.9 1428.2L1954.2 1428.4L1956.5 1428.6L1958.8 1428.8L1961.1 1429.0L1963.4 1429.2L1965.7 1429.4L1968.0 1429.6L1970.3 1429.8L1972.6 1430.0L1974.9 1430.1L1977.3 1430.3L1979.6 1430.5L1981.9 1430.7L1984.2 1430.9L1986.5 1431.1L1988.8 1431.3L1991.1 1431.4L1993.4 1431.6L1995.7 1431.8L1998.0 1432.0L2000.3 1432.1L2002.6 1432.3L2004.9 1432.5L2007.3 1432.7L2009.6 1432.8L2011.9 1433.0L2014.2 1433.2L2016.5 1433.3L2018.8 1433.5L2021.1 1433.6L2023.4 1433.8L2025.7 1434.0L2028.0 1434.1L2030.3 1434.3L2032.7 1434.4L2035.0 1434.6L2037.3 1434.7L2039.6 1434.9L2041.9 1435.0L2044.2 1435.2L2046.5 1435.4L2048.8 1435.5L2051.1 1435.6L2053.4 1435.8L2055.8 1435.9L2058.1 1436.1L2060.4 1436.2L2062.7 1436.4L2065.0 1436.5L2067.3 1436.7L2069.6 1436.8L2071.9 1437.0L2074.2 1437.1L2076.5 1437.2L2078.8 1437.4L2081.2 1437.5L2083.5 1437.7L2085.8 1437.8L2088.1 1437.9L2090.4 1438.1L2092.7 1438.2L2095.0 1438.3L2097.3 1438.5L2099.6 1438.6L2101.9 1438.8L2104.2 1438.9L2106.5 1439.0L2108.8 1439.2L2111.2 1439.3L2113.5 1439.4L2115.8 1439.6L2118.1 1439.7L2120.4 1439.8L2122.7 1440.0L2124.5 1440.1" stroke="#ff8000"/>
<path d="M230.0 1390.6L231.9 1390.1L234.6 1389.4L237.4 1388.8L240.1 1388.0L242.8 1387.3L245.5 1386.6L248.2 1385.8L250.9 1385.0L253.6 1384.2L256.2 1383.3L258.9 1382.4L261.5 1381.6L264.2 1380.6L266.8 1379.7L269.4 1378.7L272.0 1377.7L274.6 1376.7L277.2 1375.7L279.8 1374.6L282.3 1373.5L284.9 1372.4L287.4 1371.3L289.9 1370.1L292.4 1368.9L294.9 1367.7L297.4 1366.4L299.9 1365.2L302.3 1363.9L304.8 1362.5L307.2 1361.2L309.6 1359.8L312.0 1358.4L314.3 1356.9L316.7 1355.5L319.0 1354.0L321.3 1352.5L323.6 1350.9L325.9 1349.3L328.2 1347.7L330.4 1346.1L332.7 1344.5L334.9 1342.8L337.1 1341.1L339.3 1339.4L341.5 1337.7L343.7 1336.0L345.9 1334.2L348.0 1332.5L350.2 1330.7L352.3 1328.9L354.4 1327.1L356.5 1325.2L358.6 1323.4L360.7 1321.5L362.8 1319.7L364.9 1317.8L366.9 1315.9L369.0 1314.0L371.1 1312.1L373.1 1310.2L375.1 1308.3L377.2 1306.4L379.2 1304.5L381.2 1302.6L383.2 1300.6L385.2 1298.7L387.2 1296.7L389.2 1294.7L391.1 1292.8L393.1 1290.8L395.0 1288.8L397.0 1286.8L398.9 1284.8L400.8 1282.8L402.7 1280.7L404.6 1278.7L406.4 1276.6L408.3 1274.6L410.1 1272.5L412.0 1270.4L413.8 1268.3L415.6 1266.2L417.4 1264.1L419.2 1262.0L420.9 1259.8L422.6 1257.6L424.4 1255.5L426.1 1253.3L427.8 1251.1L429.5 1248.9L431.1 1246.7L432.8 1244.4L434.4 1242.2L436.1 1240.0L437.7 1237.7L439.3 1235.4L440.9 1233.2L442.5 1230.9L444.1 1228.6L445.7 1226.3L447.3 1224.1L448.9 1221.8L450.5 1219.5L452.0 1217.2L453.6 1214.9L455.2 1212.6L456.8 1210.3L458.3 1208.0L459.9 1205.7L461.5 1203.4L463.1 1201.1L464.7 1198.8L466.2 1196.5L467.8 1194.2L469.4 1191.9L471.0 1189.6L472.6 1187.3L474.2 1185.0L475.7 1182.7L477.3 1180.4L478.9 1178.1L480.5 1175.8L482.1 1173.5L483.7 1171.2L485.2 1168.9L486.8 1166.6L488.4 1164.3L489.9 1162.0L491.5 1159.7L493.1 1157.4L494.6 1155.1L496.2 1152.8L497.7 1150.5L499.3 1148.1L500.8 1145.8L502.4 1143.5L503.9 1141.2L505.5 1138.8L507.0 1136.5L508.5 1134.2L510.0 1131.9L511.5 1129.5L513.0 1127.2L514.6 1124.8L516.1 1122.5L517.6 1120.1L519.0 1117.8L520.5 1115.4L522.0 1113.1L523.5 1110.7L525.0 1108.4L526.5 1106.0L527.9 1103.7L529.4 1101.3L530.9 1098.9L532.3 1096.6L533.8 1094.2L535.2 1091.8L536.7 1089.5L538.1 1087.1L539.6 1084.7L541.0 1082.3L542.5 1080.0L543.9 1077.6L545.3 1075.2L546.8 1072.8L548.2 1070.4L549.6 1068.0L551.0 1065.7L552.5 1063.3L553.9 1060.9L555.3 1058.5L556.7 1056.1L558.2 1053.7L559.6 1051.3L561.0 1048.9L562.4 1046.5L563.8 1044.1L565.2 1041.7L566.6 1039.3L568.1 1036.9L569.5 1034.5L570.9 1032.1L572.3 1029.7L573.7 1027.3L575.1 1024.9L576.5 1022.5L577.9 1020.1L579.3 1017.7L580.7 1015.3L582.1 1012.9L583.6 1010.5L585.0 1008.1L586.4 1005.7L587.8 1003.3L589.2 1000.9L590.6 998.5L592.0 996.1L593.4 993.7L594.8 991.3L596.3 988.9L597.7 986.5L599.1 984.1L600.5 981.7L601.9 979.3L603.4 976.9L604.8 974.5L606.2 972.1L607.6 969.7L609.1 967.3L610.5 964.9L611.9 962.5L613.4 960.1L614.8 957.7L616.3 955.3L617.7 952.9L619.1 950.5L620.6 948.1L622.0 945.8L623.5 943.4L624.9 941.0L626.4 938.6L627.9 936.2L629.3 933.8L630.8 931.4L632.3 929.1L633.7 926.7L635.2 924.3L636.7 921.9L638.2 919.6L639.7 917.2L641.1 914.8L642.6 912.5L644.1 910.1L645.6 907.8L647.1 905.4L648.6 903.0L650.1 900.7L651.6 898.3L653.2 896.0L654.7 893.7L656.2 891.3L657.7 889.0L659.3 886.7L660.8 884.3L662.3 882.0L663.9 879.7L665.4 877.3L667.0 875.0L668.5 872.7L670.1 870.4L671.7 868.1L673.2 865.8L674.8 863.5L676.4 861.2L678.0 858.9L679.5 856.6L681.1 854.3L682.7 852.1L684.3 849.8L685.9 847.5L687.6 845.3L689.2 843.0L690.8 840.7L692.4 838.5L694.1 836.2L695.7 834.0L697.3 831.8L699.0 829.5L700.6 827.3L702.3 825.1L704.0 822.9L705.6 820.6L707.3 818.4L709.0 816.2L710.7 814.0L712.4 811.9L714.1 809.7L715.8 807.5L717.5 805.3L719.3 803.2L721.0 801.0L722.7 798.8L724.5 796.7L726.2 794.6L728.0 792.4L729.8 790.3L731.6 788.2L733.4 786.1L735.2 784.0L737.0 781.9L738.8 779.8L740.6 777.7L742.5 775.6L744.3 773.6L746.2 771.5L748.0 769.5L749.9 767.4L751.8 765.4L753.7 763.4L755.6 761.4L757.6 759.4L759.5 757.4L761.4 755.4L763.4 753.4L765.4 751.4L767.4 749.5L769.4 747.5L771.4 745.6L773.4 743.7L775.4 741.7L777.5 739.8L779.5 737.9L781.6 736.0L783.7 734.2L785.8 732.3L787.9 730.4L790.0 728.6L792.1 726.7L794.3 724.9L796.5 723.1L798.6 721.3L800.8 719.5L803.0 717.8L805.3 716.0L807.5 714.3L809.8 712.6L812.0 711.0L814.3 709.3L816.6 707.7L818.9 706.1L821.2 704.5L823.5 703.0L825.9 701.4L828.3 700.0L830.6 698.5L833.0 697.1L835.4 695.7L837.9 694.4L840.3 693.1L842.7 691.8L845.2 690.6L847.7 689.4L850.2 688.2L852.7 687.1L855.2 686.1L857.7 685.0L860.3 684.1L862.8 683.2L865.4 682.3L868.0 681.5L870.6 680.7L873.3 680.0L875.9 679.3L878.5 678.7L881.2 678.2L883.9 677.7L886.6 677.3L889.3 676.9L892.0 676.6L894.7 676.3L897.5 676.1L900.2 676.0L903.0 675.9L905.7 675.9L908.5 675.9L911.2 676.0L914.0 676.2L916.8 676.4L919.5 676.7L922.3 677.0L925.0 677.4L927.8 677.8L930.5 678.3L933.2 678.9L935.9 679.5L938.6 680.2L941.3 680.9L944.0 681.7L946.7 682.5L949.3 683.4L952.0 684.3L954.6 685.3L957.2 686.3L959.8 687.3L962.3 688.4L964.9 689.6L967.4 690.8L969.9 692.0L972.4 693.2L974.9 694.5L977.3 695.8L979.7 697.2L982.1 698.6L984.5 700.0L986.9 701.4L989.2 702.9L991.5 704.4L993.9 705.9L996.2 707.5L998.4 709.1L1000.7 710.7L1002.9 712.3L1005.2 714.0L1007.4 715.6L1009.6 717.3L1011.8 719.0L1013.9 720.8L1016.1 722.5L1018.3 724.3L1020.4 726.1L1022.5 727.9L1024.6 729.7L1026.7 731.5L1028.8 733.4L1030.9 735.2L1033.0 737.1L1035.1 739.0L1037.1 740.9L1039.2 742.8L1041.2 744.7L1043.3 746.6L1045.3 748.5L1047.3 750.4L1049.3 752.3L1051.3 754.3L1053.4 756.2L1055.4 758.1L1057.4 760.1L1059.3 762.0L1061.3 764.0L1063.3 765.9L1065.3 767.9L1067.2 769.9L1069.2 771.9L1071.1 773.8L1073.1 775.8L1075.0 777.8L1076.9 779.8L1078.9 781.8L1080.8 783.9L1082.7 785.9L1084.6 787.9L1086.5 789.9L1088.4 792.0L1090.3 794.0L1092.1 796.1L1094.0 798.1L1095.9 800.2L1097.7 802.2L1099.6 804.3L1101.4 806.4L1103.2 808.5L1105.1 810.6L1106.9 812.7L1108.7 814.8L1110.5 816.9L1112.3 819.0L1114.1 821.1L1115.9 823.2L1117.7 825.3L1119.5 827.5L1121.3 829.6L1123.0 831.7L1124.8 833.9L1126.6 836.0L1128.3 838.2L1130.1 840.3L1131.8 842.5L1133.6 844.6L1135.4 846.8L1137.1 849.0L1138.8 851.1L1140.6 853.3L1142.3 855.5L1144.1 857.6L1145.8 859.8L1147.5 862.0L1149.3 864.2L1151.0 866.4L1152.7 868.5L1154.4 870.7L1156.2 872.9L1157.9 875.1L1159.6 877.3L1161.3 879.5L1163.0 881.7L1164.8 883.8L1166.5 886.0L1168.2 888.2L1169.9 890.4L1171.7 892.6L1173.4 894.8L1175.1 897.0L1176.8 899.2L1178.6 901.3L1180.3 903.5L1182.0 905.7L1183.7 907.9L1185.5 910.1L1187.2 912.2L1188.9 914.4L1190.7 916.6L1192.4 918.8L1194.2 920.9L1195.9 923.1L1197.6 925.3L1199.4 927.4L1201.2 929.6L1202.9 931.8L1204.7 933.9L1206.4 936.1L1208.2 938.2L1210.0 940.4L1211.7 942.5L1213.5 944.7L1215.3 946.8L1217.1 949.0L1218.8 951.1L1220.6 953.2L1222.4 955.4L1224.2 957.5L1226.0 959.6L1227.8 961.8L1229.6 963.9L1231.4 966.0L1233.2 968.1L1235.0 970.2L1236.8 972.4L1238.6 974.5L1240.4 976.6L1242.3 978.7L1244.1 980.8L1245.9 982.9L1247.7 985.0L1249.6 987.1L1251.4 989.2L1253.2 991.3L1255.1 993.4L1256.9 995.5L1258.8 997.5L1260.6 999.6L1262.5 1001.7L1264.3 1003.8L1266.2 1005.8L1268.1 1007.9L1269.9 1010.0L1271.8 1012.0L1273.7 1014.1L1275.5 1016.2L1277.4 1018.2L1279.3 1020.3L1281.2 1022.3L1283.1 1024.4L1284.9 1026.4L1286.8 1028.5L1288.7 1030.5L1290.6 1032.5L1292.5 1034.6L1294.4 1036.6L1296.3 1038.6L1298.3 1040.7L1300.2 1042.7L1302.1 1044.7L1304.0 1046.7L1305.9 1048.7L1307.9 1050.7L1309.8 1052.7L1311.7 1054.7L1313.7 1056.7L1315.6 1058.7L1317.6 1060.7L1319.5 1062.7L1321.5 1064.7L1323.4 1066.7L1325.4 1068.7L1327.3 1070.7L1329.3 1072.6L1331.3 1074.6L1333.2 1076.6L1335.2 1078.6L1337.2 1080.5L1339.1 1082.5L1341.1 1084.5L1343.1 1086.4L1345.1 1088.4L1347.1 1090.3L1349.1 1092.3L1351.1 1094.2L1353.0 1096.2L1355.0 1098.1L1357.0 1100.1L1359.0 1102.0L1361.0 1104.0L1363.0 1105.9L1365.0 1107.9L1367.0 1109.8L1369.0 1111.8L1371.0 1113.7L1373.1 1115.6L1375.1 1117.6L1377.1 1119.5L1379.1 1121.4L1381.1 1123.4L1383.1 1125.3L1385.1 1127.2L1387.1 1129.2L1389.1 1131.1L1391.2 1133.0L1393.2 1135.0L1395.2 1136.9L1397.2 1138.8L1399.2 1140.8L1401.2 1142.7L1403.2 1144.6L1405.2 1146.6L1407.3 1148.5L1409.3 1150.4L1411.3 1152.3L1413.3 1154.3L1415.4 1156.2L1417.4 1158.1L1419.5 1160.0L1421.5 1161.8L1423.6 1163.7L1425.6 1165.6L1427.7 1167.4L1429.8 1169.3L1431.9 1171.1L1434.0 1172.9L1436.1 1174.7L1438.3 1176.5L1440.4 1178.2L1442.6 1180.0L1444.7 1181.7L1446.9 1183.5L1449.1 1185.2L1451.2 1186.9L1453.4 1188.6L1455.6 1190.3L1457.8 1192.0L1460.1 1193.6L1462.3 1195.3L1464.5 1196.9L1466.8 1198.6L1469.0 1200.2L1471.2 1201.9L1473.5 1203.5L1475.8 1205.1L1478.0 1206.7L1480.3 1208.3L1482.6 1209.9L1484.9 1211.5L1487.1 1213.1L1489.4 1214.6L1491.7 1216.2L1494.0 1217.8L1496.3 1219.4L1498.6 1220.9L1500.9 1222.5L1503.2 1224.0L1505.5 1225.6L1507.9 1227.1L1510.2 1228.7L1512.5 1230.2L1514.8 1231.8L1517.2 1233.3L1519.5 1234.8L1521.8 1236.3L1524.2 1237.9L1526.5 1239.4L1528.8 1240.9L1531.2 1242.4L1533.5 1243.9L1535.9 1245.4L1538.3 1246.9L1540.6 1248.4L1543.0 1249.8L1545.4 1251.3L1547.7 1252.8L1550.1 1254.2L1552.5 1255.7L1554.9 1257.2L1557.2 1258.6L1559.6 1260.1L1562.0 1261.5L1564.4 1262.9L1566.8 1264.4L1569.2 1265.8L1571.6 1267.2L1574.0 1268.6L1576.4 1270.1L1578.8 1271.5L1581.2 1272.9L1583.7 1274.3L1586.1 1275.6L1588.5 1277.0L1590.9 1278.4L1593.4 1279.8L1595.8 1281.2L1598.2 1282.5L1600.7 1283.9L1603.1 1285.2L1605.6 1286.6L1608.0 1287.9L1610.5 1289.3L1612.9 1290.6L1615.4 1291.9L1617.8 1293.2L1620.3 1294.5L1622.8 1295.8L1625.2 1297.1L1627.7 1298.4L1630.2 1299.7L1632.7 1301.0L1635.1 1302.3L1637.6 1303.6L1640.1 1304.8L1642.6 1306.1L1645.1 1307.3L1647.6 1308.6L1650.1 1309.8L1652.6 1311.1L1655.1 1312.3L1657.6 1313.5L1660.1 1314.7L1662.6 1315.9L1665.1 1317.1L1667.6 1318.3L1670.2 1319.5L1672.7 1320.7L1675.2 1321.9L1677.7 1323.0L1680.3 1324.2L1682.8 1325.4L1685.4 1326.5L1687.9 1327.6L1690.4 1328.8L1693.0 1329.9L1695.5 1331.0L1698.1 1332.1L1700.6 1333.2L1703.2 1334.3L1705.8 1335.4L1708.3 1336.5L1710.9 1337.6L1713.5 1338.7L1716.0 1339.7L1718.6 1340.8L1721.2 1341.9L1723.8 1342.9L1726.3 1343.9L1728.9 1345.0L1731.5 1346.0L1734.1 1347.0L1736.7 1348.0L1739.3 1349.0L1741.9 1350.0L1744.5 1351.0L1747.1 1352.0L1749.7 1352.9L1752.3 1353.9L1754.9 1354.8L1757.5 1355.8L1760.1 1356.7L1762.8 1357.7L1765.4 1358.6L1768.0 1359.5L1770.6 1360.4L1773.3 1361.3L1775.9 1362.2L1778.5 1363.1L1781.2 1364.0L1783.8 1364.9L1786.4 1365.8L1789.1 1366.6L1791.7 1367.5L1794.4 1368.3L1797.0 1369.2L1799.7 1370.0L1802.3 1370.8L1805.0 1371.7L1807.6 1372.5L1810.3 1373.3L1812.9 1374.1L1815.6 1374.9L1818.3 1375.7L1820.9 1376.5L1823.6 1377.2L1826.3 1378.0L1828.9 1378.8L1831.6 1379.5L1834.3 1380.3L1837.0 1381.0L1839.7 1381.8L1842.3 1382.5L1845.0 1383.2L1847.7 1383.9L1850.4 1384.7L1853.1 1385.4L1855.8 1386.1L1858.5 1386.8L1861.2 1387.5L1863.9 1388.1L1866.6 1388.8L1869.3 1389.5L1872.0 1390.2L1874.7 1390.8L1877.4 1391.5L1880.1 1392.1L1882.8 1392.8L1885.5 1393.4L1888.2 1394.0L1890.9 1394.7L1893.6 1395.3L1896.4 1395.9L1899.1 1396.5L1901.8 1397.1L1904.5 1397.7L1907.2 1398.3L1910.0 1398.9L1912.7 1399.5L1915.4 1400.0L1918.1 1400.6L1920.9 1401.2L1923.6 1401.7L1926.3 1402.3L1929.1 1402.9L1931.8 1403.4L1934.5 1403.9L1937.3 1404.5L1940.0 1405.0L1942.7 1405.5L1945.5 1406.0L1948.2 1406.6L1951.0 1407.1L1953.7 1407.6L1956.4 1408.1L1959.2 1408.6L1961.9 1409.1L1964.7 1409.5L1967.4 1410.0L1970.2 1410.5L1972.9 1411.0L1975.7 1411.4L1978.4 1411.9L1981.2 1412.4L1983.9 1412.8L1986.7 1413.3L1989.4 1413.7L1992.2 1414.1L1995.0 1414.6L1997.7 1415.0L2000.5 1415.4L2003.2 1415.8L2006.0 1416.3L2008.7 1416.7L2011.5 1417.1L2014.3 1417.5L2017.0 1417.9L2019.8 1418.3L2022.6 1418.7L2025.3 1419.0L2028.1 1419.4L2030.8 1419.8L2033.6 1420.2L2036.4 1420.6L2039.1 1420.9L2041.9 1421.3L2044.7 1421.6L2047.4 1422.0L2050.2 1422.3L2053.0 1422.7L2055.7 1423.0L2058.5 1423.4L2061.3 1423.7L2064.0 1424.0L2066.8 1424.4L2069.6 1424.7L2072.4 1425.0L2075.1 1425.3L2077.9 1425.6L2080.7 1426.0L2083.4 1426.3L2086.2 1426.6L2089.0 1426.9L2091.7 1427.2L2094.5 1427.4L2097.3 1427.7L2100.1 1428.0L2102.8 1428.3L2105.6 1428.6L2108.4 1428.9L2111.1 1429.1L2113.9 1429.4L2116.7 1429.7L2119.4 1429.9L2122.2 1430.2L2124.5 1430.4" stroke="#9600cc"/>
<path d="M230.0 1372.4L232.4 1371.3L235.4 1370.0L238.4 1368.7L241.4 1367.4L244.3 1366.1L247.3 1364.8L250.2 1363.5L253.1 1362.2L256.0 1360.9L258.9 1359.6L261.7 1358.2L264.6 1356.8L267.4 1355.4L270.2 1354.0L273.0 1352.5L275.8 1351.0L278.6 1349.5L281.4 1347.9L284.1 1346.2L286.8 1344.6L289.5 1342.9L292.2 1341.1L294.8 1339.3L297.5 1337.5L300.1 1335.6L302.7 1333.7L305.2 1331.8L307.7 1329.8L310.2 1327.8L312.7 1325.7L315.1 1323.7L317.6 1321.6L319.9 1319.4L322.3 1317.3L324.6 1315.1L326.9 1312.9L329.2 1310.6L331.4 1308.4L333.7 1306.1L335.9 1303.7L338.0 1301.4L340.2 1299.0L342.3 1296.7L344.5 1294.3L346.6 1291.8L348.6 1289.4L350.7 1286.9L352.8 1284.5L354.8 1282.0L356.8 1279.5L358.8 1277.0L360.8 1274.4L362.8 1271.9L364.7 1269.3L366.7 1266.8L368.6 1264.2L370.5 1261.6L372.4 1259.0L374.3 1256.4L376.2 1253.8L378.1 1251.2L380.0 1248.6L381.9 1246.0L383.7 1243.4L385.6 1240.7L387.4 1238.1L389.3 1235.5L391.1 1232.8L392.9 1230.2L394.7 1227.5L396.5 1224.8L398.3 1222.2L400.1 1219.5L401.9 1216.8L403.7 1214.1L405.4 1211.4L407.2 1208.7L408.9 1206.0L410.7 1203.3L412.4 1200.6L414.1 1197.9L415.8 1195.2L417.5 1192.5L419.2 1189.7L420.9 1187.0L422.6 1184.2L424.3 1181.5L425.9 1178.8L427.6 1176.0L429.3 1173.2L430.9 1170.5L432.5 1167.7L434.2 1164.9L435.8 1162.1L437.4 1159.4L439.0 1156.6L440.6 1153.8L442.2 1151.0L443.8 1148.2L445.4 1145.4L447.0 1142.6L448.5 1139.8L450.1 1136.9L451.6 1134.1L453.2 1131.3L454.7 1128.5L456.3 1125.6L457.8 1122.8L459.3 1120.0L460.8 1117.1L462.3 1114.3L463.8 1111.4L465.3 1108.6L466.8 1105.7L468.3 1102.9L469.7 1100.0L471.2 1097.1L472.7 1094.3L474.1 1091.4L475.6 1088.5L477.0 1085.6L478.5 1082.8L479.9 1079.9L481.3 1077.0L482.7 1074.1L484.1 1071.2L485.6 1068.3L487.0 1065.4L488.3 1062.5L489.7 1059.6L491.1 1056.7L492.5 1053.8L493.9 1050.9L495.2 1048.0L496.6 1045.1L498.0 1042.1L499.3 1039.2L500.7 1036.3L502.0 1033.4L503.4 1030.4L504.7 1027.5L506.0 1024.6L507.4 1021.7L508.7 1018.7L510.0 1015.8L511.3 1012.8L512.7 1009.9L514.0 1007.0L515.3 1004.0L516.6 1001.1L517.9 998.1L519.2 995.2L520.5 992.2L521.8 989.3L523.1 986.3L524.3 983.4L525.6 980.4L526.9 977.5L528.2 974.5L529.5 971.6L530.7 968.6L532.0 965.6L533.3 962.7L534.6 959.7L535.8 956.8L537.1 953.8L538.4 950.8L539.6 947.9L540.9 944.9L542.2 941.9L543.4 939.0L544.7 936.0L545.9 933.0L547.2 930.1L548.5 927.1L549.7 924.1L551.0 921.2L552.2 918.2L553.5 915.2L554.8 912.3L556.0 909.3L557.3 906.3L558.5 903.4L559.8 900.4L561.1 897.4L562.3 894.5L563.6 891.5L564.8 888.5L566.1 885.6L567.4 882.6L568.6 879.6L569.9 876.7L571.2 873.7L572.5 870.8L573.7 867.8L575.0 864.8L576.3 861.9L577.6 858.9L578.8 856.0L580.1 853.0L581.4 850.0L582.7 847.1L584.0 844.1L585.3 841.2L586.6 838.2L587.9 835.3L589.2 832.3L590.5 829.4L591.8 826.4L593.1 823.5L594.4 820.5L595.7 817.6L597.0 814.6L598.3 811.7L599.6 808.8L600.9 805.8L602.2 802.9L603.6 799.9L604.9 797.0L606.2 794.1L607.5 791.1L608.9 788.2L610.2 785.3L611.5 782.3L612.9 779.4L614.2 776.5L615.5 773.6L616.9 770.6L618.2 767.7L619.6 764.8L620.9 761.9L622.3 759.0L623.6 756.0L625.0 753.1L626.3 750.2L627.7 747.3L629.1 744.4L630.4 741.5L631.8 738.6L633.1 735.7L634.5 732.8L635.9 729.9L637.3 727.0L638.6 724.1L640.0 721.2L641.4 718.3L642.8 715.4L644.1 712.5L645.5 709.6L646.9 706.7L648.3 703.8L649.7 700.9L651.1 698.0L652.5 695.1L653.9 692.2L655.3 689.3L656.7 686.4L658.1 683.5L659.5 680.6L660.9 677.7L662.3 674.8L663.7 671.9L665.1 669.0L666.5 666.1L667.9 663.2L669.4 660.3L670.8 657.4L672.2 654.5L673.6 651.6L675.0 648.7L676.5 645.8L677.9 642.9L679.3 640.0L680.8 637.1L682.2 634.2L683.7 631.3L685.1 628.4L686.5 625.5L688.0 622.6L689.5 619.8L690.9 616.9L692.4 614.0L693.9 611.1L695.3 608.2L696.8 605.3L698.3 602.5L699.8 599.6L701.3 596.7L702.8 593.9L704.4 591.0L705.9 588.2L707.4 585.3L709.0 582.5L710.5 579.7L712.1 576.8L713.7 574.0L715.2 571.2L716.8 568.4L718.4 565.6L720.1 562.8L721.7 560.0L723.3 557.2L724.9 554.5L726.6 551.7L728.3 548.9L729.9 546.2L731.6 543.5L733.3 540.7L735.1 538.0L736.8 535.3L738.5 532.6L740.3 529.9L742.0 527.2L743.8 524.6L745.6 521.9L747.4 519.3L749.3 516.7L751.1 514.0L753.0 511.4L754.8 508.8L756.7 506.2L758.6 503.7L760.5 501.1L762.5 498.6L764.4 496.1L766.4 493.5L768.4 491.0L770.4 488.5L772.4 486.1L774.5 483.6L776.5 481.2L778.6 478.7L780.7 476.3L782.8 473.9L784.9 471.5L787.1 469.1L789.2 466.7L791.4 464.3L793.6 462.0L795.8 459.6L798.0 457.3L800.2 454.9L802.5 452.6L804.7 450.3L807.0 448.0L809.3 445.7L811.6 443.4L813.9 441.1L816.3 438.8L818.6 436.6L821.0 434.3L823.4 432.1L825.8 429.9L828.3 427.8L830.7 425.7L833.2 423.6L835.8 421.6L838.3 419.6L840.9 417.7L843.6 415.9L846.2 414.1L848.9 412.3L851.7 410.7L854.5 409.1L857.3 407.6L860.2 406.2L863.1 404.8L866.1 403.6L869.1 402.4L872.2 401.4L875.2 400.4L878.3 399.5L881.4 398.7L884.6 398.0L887.8 397.4L890.9 396.9L894.1 396.5L897.3 396.2L900.5 396.0L903.7 395.9L906.9 395.9L910.1 396.0L913.2 396.2L916.4 396.5L919.5 396.9L922.6 397.4L925.7 398.1L928.8 398.8L931.8 399.6L934.8 400.5L937.8 401.6L940.8 402.7L943.7 403.9L946.6 405.1L949.5 406.5L952.4 407.9L955.2 409.4L958.0 411.0L960.8 412.6L963.6 414.3L966.3 416.1L969.0 417.9L971.7 419.7L974.4 421.7L977.1 423.6L979.7 425.6L982.3 427.6L984.8 429.7L987.4 431.8L989.9 433.9L992.4 436.0L994.9 438.2L997.3 440.4L999.8 442.6L1002.2 444.8L1004.5 447.0L1006.9 449.2L1009.2 451.5L1011.5 453.7L1013.8 456.0L1016.1 458.3L1018.3 460.5L1020.5 462.8L1022.7 465.2L1024.9 467.5L1027.1 469.8L1029.2 472.2L1031.3 474.5L1033.4 476.9L1035.5 479.3L1037.6 481.7L1039.6 484.1L1041.6 486.6L1043.6 489.0L1045.6 491.5L1047.6 494.0L1049.6 496.5L1051.5 499.0L1053.4 501.5L1055.3 504.1L1057.2 506.6L1059.1 509.2L1061.0 511.8L1062.8 514.4L1064.7 517.0L1066.5 519.6L1068.3 522.3L1070.1 525.0L1071.9 527.7L1073.7 530.4L1075.4 533.1L1077.2 535.8L1078.9 538.6L1080.6 541.4L1082.4 544.2L1084.1 547.0L1085.8 549.7L1087.6 552.5L1089.3 555.3L1091.1 558.0L1092.8 560.7L1094.6 563.4L1096.5 566.0L1098.3 568.6L1100.1 571.2L1101.9 573.8L1103.8 576.4L1105.6 579.1L1107.4 581.7L1109.1 584.4L1110.9 587.1L1112.6 589.7L1114.3 592.5L1116.1 595.2L1117.7 597.9L1119.4 600.6L1121.1 603.4L1122.8 606.1L1124.4 608.9L1126.1 611.7L1127.8 614.4L1129.4 617.2L1131.0 620.0L1132.7 622.7L1134.3 625.5L1135.9 628.3L1137.6 631.1L1139.2 633.9L1140.8 636.7L1142.4 639.4L1144.0 642.2L1145.6 645.0L1147.2 647.8L1148.8 650.6L1150.4 653.4L1152.0 656.2L1153.6 659.0L1155.2 661.8L1156.8 664.6L1158.4 667.4L1159.9 670.2L1161.5 673.0L1163.1 675.8L1164.7 678.6L1166.3 681.4L1167.9 684.3L1169.4 687.1L1171.0 689.9L1172.6 692.7L1174.2 695.5L1175.8 698.3L1177.3 701.1L1178.9 703.9L1180.5 706.7L1182.1 709.5L1183.7 712.3L1185.3 715.1L1186.9 717.9L1188.5 720.7L1190.0 723.5L1191.6 726.3L1193.2 729.1L1194.8 731.9L1196.4 734.7L1198.1 737.5L1199.7 740.3L1201.3 743.0L1202.9 745.8L1204.5 748.6L1206.1 751.4L1207.8 754.2L1209.4 756.9L1211.1 759.7L1212.7 762.5L1214.3 765.2L1216.0 768.0L1217.7 770.7L1219.3 773.5L1221.0 776.2L1222.7 779.0L1224.4 781.7L1226.1 784.5L1227.7 787.2L1229.4 789.9L1231.2 792.7L1232.9 795.4L1234.6 798.1L1236.3 800.8L1238.0 803.6L1239.7 806.3L1241.5 809.0L1243.2 811.7L1245.0 814.4L1246.7 817.1L1248.4 819.8L1250.2 822.5L1251.9 825.2L1253.7 827.9L1255.4 830.6L1257.2 833.3L1258.9 836.0L1260.7 838.7L1262.5 841.4L1264.2 844.1L1266.0 846.8L1267.7 849.5L1269.5 852.2L1271.3 854.9L1273.0 857.6L1274.8 860.3L1276.5 863.0L1278.3 865.7L1280.0 868.4L1281.8 871.1L1283.6 873.8L1285.3 876.5L1287.1 879.2L1288.8 881.9L1290.6 884.6L1292.4 887.2L1294.1 889.9L1295.9 892.6L1297.7 895.3L1299.5 898.0L1301.2 900.7L1303.0 903.4L1304.8 906.0L1306.6 908.7L1308.4 911.4L1310.2 914.0L1312.0 916.7L1313.8 919.4L1315.6 922.0L1317.4 924.7L1319.3 927.3L1321.1 930.0L1322.9 932.6L1324.8 935.2L1326.6 937.9L1328.5 940.5L1330.3 943.1L1332.2 945.7L1334.1 948.4L1335.9 951.0L1337.8 953.6L1339.7 956.2L1341.6 958.8L1343.5 961.4L1345.4 964.0L1347.3 966.6L1349.2 969.1L1351.2 971.7L1353.1 974.3L1355.0 976.9L1357.0 979.4L1358.9 982.0L1360.9 984.5L1362.8 987.1L1364.8 989.6L1366.7 992.2L1368.7 994.7L1370.7 997.3L1372.7 999.8L1374.7 1002.3L1376.7 1004.8L1378.7 1007.3L1380.7 1009.9L1382.7 1012.4L1384.7 1014.9L1386.8 1017.4L1388.8 1019.9L1390.8 1022.4L1392.9 1024.8L1394.9 1027.3L1397.0 1029.8L1399.0 1032.3L1401.1 1034.7L1403.2 1037.2L1405.2 1039.7L1407.3 1042.1L1409.4 1044.6L1411.5 1047.0L1413.6 1049.5L1415.7 1051.9L1417.8 1054.3L1420.0 1056.7L1422.1 1059.2L1424.2 1061.6L1426.3 1064.0L1428.5 1066.4L1430.6 1068.8L1432.8 1071.2L1434.9 1073.6L1437.1 1076.0L1439.3 1078.4L1441.4 1080.8L1443.6 1083.1L1445.8 1085.5L1448.0 1087.9L1450.2 1090.2L1452.4 1092.6L1454.6 1094.9L1456.8 1097.3L1459.1 1099.6L1461.3 1102.0L1463.5 1104.3L1465.8 1106.6L1468.0 1108.9L1470.2 1111.2L1472.5 1113.5L1474.8 1115.8L1477.0 1118.1L1479.3 1120.4L1481.6 1122.7L1483.9 1125.0L1486.2 1127.3L1488.5 1129.5L1490.8 1131.8L1493.1 1134.0L1495.4 1136.3L1497.7 1138.5L1500.0 1140.8L1502.4 1143.0L1504.7 1145.2L1507.0 1147.4L1509.4 1149.6L1511.8 1151.8L1514.1 1154.0L1516.5 1156.2L1518.9 1158.4L1521.2 1160.6L1523.6 1162.8L1526.0 1164.9L1528.4 1167.1L1530.8 1169.2L1533.2 1171.4L1535.6 1173.5L1538.1 1175.6L1540.5 1177.8L1542.9 1179.9L1545.4 1182.0L1547.8 1184.1L1550.2 1186.2L1552.7 1188.3L1555.2 1190.3L1557.6 1192.4L1560.1 1194.5L1562.6 1196.5L1565.1 1198.6L1567.6 1200.6L1570.1 1202.6L1572.6 1204.7L1575.1 1206.7L1577.6 1208.7L1580.1 1210.7L1582.7 1212.7L1585.2 1214.7L1587.7 1216.7L1590.3 1218.6L1592.8 1220.6L1595.4 1222.5L1598.0 1224.5L1600.5 1226.4L1603.1 1228.3L1605.7 1230.3L1608.3 1232.2L1610.9 1234.1L1613.5 1236.0L1616.1 1237.8L1618.7 1239.7L1621.3 1241.6L1624.0 1243.4L1626.6 1245.3L1629.2 1247.1L1631.9 1249.0L1634.5 1250.8L1637.2 1252.6L1639.8 1254.4L1642.5 1256.2L1645.2 1258.0L1647.9 1259.7L1650.6 1261.5L1653.3 1263.3L1656.0 1265.0L1658.7 1266.8L1661.4 1268.5L1664.1 1270.2L1666.8 1271.9L1669.6 1273.6L1672.3 1275.3L1675.0 1277.0L1677.8 1278.6L1680.6 1280.3L1683.3 1281.9L1686.1 1283.6L1688.9 1285.2L1691.6 1286.8L1694.4 1288.4L1697.2 1290.0L1700.0 1291.6L1702.8 1293.2L1705.6 1294.8L1708.5 1296.4L1711.3 1297.9L1714.1 1299.4L1716.9 1301.0L1719.8 1302.5L1722.6 1304.0L1725.5 1305.5L1728.3 1307.0L1731.2 1308.5L1734.1 1310.0L1736.9 1311.4L1739.8 1312.9L1742.7 1314.3L1745.6 1315.8L1748.5 1317.2L1751.4 1318.6L1754.3 1320.0L1757.2 1321.4L1760.1 1322.8L1763.0 1324.2L1765.9 1325.5L1768.8 1326.9L1771.8 1328.2L1774.7 1329.6L1777.6 1330.9L1780.6 1332.2L1783.5 1333.5L1786.5 1334.8L1789.4 1336.1L1792.4 1337.4L1795.4 1338.7L1798.3 1339.9L1801.3 1341.2L1804.3 1342.4L1807.3 1343.7L1810.2 1344.9L1813.2 1346.1L1816.2 1347.3L1819.2 1348.5L1822.2 1349.7L1825.2 1350.9L1828.2 1352.0L1831.2 1353.2L1834.2 1354.3L1837.3 1355.5L1840.3 1356.6L1843.3 1357.7L1846.3 1358.8L1849.4 1359.9L1852.4 1361.0L1855.4 1362.1L1858.5 1363.2L1861.5 1364.2L1864.6 1365.3L1867.6 1366.3L1870.7 1367.4L1873.7 1368.4L1876.8 1369.4L1879.8 1370.4L1882.9 1371.4L1886.0 1372.4L1889.0 1373.4L1892.1 1374.4L1895.2 1375.3L1898.2 1376.3L1901.3 1377.2L1904.4 1378.1L1907.5 1379.1L1910.6 1380.0L1913.7 1380.9L1916.8 1381.8L1919.8 1382.7L1922.9 1383.6L1926.0 1384.4L1929.1 1385.3L1932.2 1386.2L1935.3 1387.0L1938.5 1387.8L1941.6 1388.7L1944.7 1389.5L1947.8 1390.3L1950.9 1391.1L1954.0 1391.9L1957.1 1392.7L1960.3 1393.5L1963.4 1394.2L1966.5 1395.0L1969.7 1395.8L1972.8 1396.5L1975.9 1397.2L1979.1 1398.0L1982.2 1398.7L1985.3 1399.4L1988.5 1400.1L1991.6 1400.8L1994.8 1401.5L1997.9 1402.2L2001.1 1402.9L2004.2 1403.6L2007.4 1404.2L2010.5 1404.9L2013.7 1405.5L2016.8 1406.2L2020.0 1406.8L2023.1 1407.4L2026.3 1408.0L2029.5 1408.6L2032.6 1409.3L2035.8 1409.8L2039.0 1410.4L2042.1 1411.0L2045.3 1411.6L2048.5 1412.2L2051.7 1412.7L2054.8 1413.3L2058.0 1413.8L2061.2 1414.4L2064.4 1414.9L2067.6 1415.4L2070.7 1416.0L2073.9 1416.5L2077.1 1417.0L2080.3 1417.5L2083.5 1418.0L2086.7 1418.5L2089.9 1419.0L2093.1 1419.4L2096.3 1419.9L2099.5 1420.4L2102.7 1420.8L2105.9 1421.3L2109.0 1421.7L2112.2 1422.2L2115.4 1422.6L2118.7 1423.0L2121.9 1423.5L2124.5 1423.8" stroke="#ff0080"/>
<path d="M230.0 1362.0L232.8 1360.9L236.1 1359.6L239.3 1358.3L242.5 1356.9L245.7 1355.5L248.8 1354.0L251.9 1352.4L255.0 1350.8L258.1 1349.2L261.1 1347.5L264.1 1345.7L267.1 1343.9L270.0 1342.1L272.9 1340.2L275.8 1338.3L278.7 1336.3L281.5 1334.3L284.3 1332.3L287.1 1330.2L289.8 1328.1L292.6 1325.9L295.3 1323.7L297.9 1321.5L300.5 1319.2L303.2 1316.9L305.7 1314.6L308.3 1312.2L310.8 1309.8L313.3 1307.4L315.7 1305.0L318.2 1302.5L320.6 1300.0L323.0 1297.4L325.3 1294.9L327.6 1292.3L329.9 1289.7L332.2 1287.1L334.4 1284.4L336.7 1281.7L338.9 1279.1L341.0 1276.3L343.2 1273.6L345.3 1270.9L347.4 1268.1L349.5 1265.3L351.6 1262.5L353.7 1259.7L355.7 1256.9L357.7 1254.0L359.8 1251.2L361.7 1248.3L363.7 1245.5L365.7 1242.6L367.6 1239.7L369.5 1236.8L371.5 1233.8L373.4 1230.9L375.2 1228.0L377.1 1225.0L379.0 1222.0L380.8 1219.1L382.6 1216.1L384.5 1213.1L386.3 1210.1L388.1 1207.1L389.8 1204.1L391.6 1201.1L393.4 1198.1L395.1 1195.0L396.9 1192.0L398.6 1189.0L400.3 1185.9L402.0 1182.9L403.7 1179.8L405.4 1176.8L407.1 1173.7L408.8 1170.6L410.4 1167.6L412.1 1164.5L413.8 1161.4L415.4 1158.3L417.0 1155.2L418.6 1152.1L420.3 1149.0L421.9 1145.9L423.5 1142.8L425.1 1139.7L426.6 1136.6L428.2 1133.5L429.8 1130.3L431.3 1127.2L432.9 1124.1L434.4 1120.9L436.0 1117.8L437.5 1114.7L439.0 1111.5L440.6 1108.4L442.1 1105.2L443.6 1102.1L445.1 1098.9L446.6 1095.7L448.0 1092.6L449.5 1089.4L451.0 1086.2L452.5 1083.1L453.9 1079.9L455.4 1076.7L456.8 1073.5L458.3 1070.3L459.7 1067.1L461.2 1063.9L462.6 1060.8L464.0 1057.6L465.4 1054.4L466.8 1051.2L468.2 1048.0L469.6 1044.8L471.0 1041.6L472.4 1038.3L473.8 1035.1L475.2 1031.9L476.6 1028.7L478.0 1025.5L479.3 1022.3L480.7 1019.1L482.1 1015.8L483.4 1012.6L484.8 1009.4L486.2 1006.2L487.5 1002.9L488.9 999.7L490.2 996.5L491.6 993.3L492.9 990.0L494.2 986.8L495.6 983.6L496.9 980.3L498.2 977.1L499.6 973.9L500.9 970.6L502.2 967.4L503.5 964.2L504.8 960.9L506.1 957.7L507.4 954.4L508.8 951.2L510.1 948.0L511.4 944.7L512.7 941.5L514.0 938.2L515.3 935.0L516.5 931.7L517.8 928.5L519.1 925.2L520.4 922.0L521.7 918.7L523.0 915.5L524.2 912.2L525.5 909.0L526.8 905.7L528.1 902.5L529.3 899.2L530.6 896.0L531.9 892.7L533.1 889.4L534.4 886.2L535.7 882.9L536.9 879.7L538.2 876.4L539.4 873.1L540.7 869.9L541.9 866.6L543.2 863.3L544.4 860.1L545.7 856.8L546.9 853.6L548.2 850.3L549.4 847.0L550.7 843.8L551.9 840.5L553.1 837.2L554.4 833.9L555.6 830.7L556.9 827.4L558.1 824.1L559.3 820.9L560.6 817.6L561.8 814.3L563.0 811.1L564.2 807.8L565.5 804.5L566.7 801.2L567.9 798.0L569.2 794.7L570.4 791.4L571.6 788.1L572.8 784.9L574.0 781.6L575.3 778.3L576.5 775.0L577.7 771.7L578.9 768.5L580.1 765.2L581.4 761.9L582.6 758.6L583.8 755.4L585.0 752.1L586.2 748.8L587.5 745.5L588.7 742.2L589.9 739.0L591.1 735.7L592.3 732.4L593.5 729.1L594.8 725.8L596.0 722.5L597.2 719.3L598.4 716.0L599.6 712.7L600.8 709.4L602.1 706.1L603.3 702.9L604.5 699.6L605.7 696.3L607.0 693.0L608.2 689.8L609.4 686.5L610.6 683.2L611.9 679.9L613.1 676.6L614.3 673.4L615.6 670.1L616.8 666.8L618.1 663.6L619.3 660.3L620.5 657.0L621.8 653.7L623.0 650.5L624.3 647.2L625.5 643.9L626.8 640.7L628.1 637.4L629.3 634.2L630.6 630.9L631.8 627.6L633.1 624.4L634.4 621.1L635.7 617.9L637.0 614.6L638.2 611.4L639.5 608.1L640.8 604.9L642.1 601.6L643.4 598.4L644.7 595.1L646.0 591.9L647.3 588.7L648.7 585.4L650.0 582.2L651.3 579.0L652.6 575.7L654.0 572.5L655.3 569.3L656.7 566.1L658.0 562.8L659.4 559.6L660.7 556.4L662.1 553.2L663.5 550.0L664.8 546.8L666.2 543.6L667.6 540.4L669.0 537.2L670.4 534.0L671.8 530.8L673.2 527.6L674.6 524.4L676.1 521.2L677.5 518.1L678.9 514.9L680.4 511.7L681.8 508.5L683.3 505.4L684.7 502.2L686.2 499.1L687.7 495.9L689.2 492.7L690.7 489.6L692.2 486.4L693.7 483.3L695.2 480.2L696.7 477.0L698.2 473.9L699.8 470.8L701.3 467.6L702.9 464.5L704.4 461.4L706.0 458.3L707.5 455.2L709.1 452.1L710.7 448.9L712.3 445.8L713.9 442.7L715.5 439.7L717.1 436.6L718.8 433.5L720.4 430.4L722.0 427.3L723.7 424.2L725.3 421.2L727.0 418.1L728.6 415.0L730.3 411.9L732.0 408.9L733.7 405.8L735.4 402.8L737.1 399.7L738.8 396.7L740.5 393.6L742.3 390.6L744.0 387.6L745.8 384.5L747.5 381.5L749.3 378.5L751.1 375.5L752.8 372.4L754.6 369.4L756.4 366.4L758.2 363.4L760.0 360.4L761.9 357.4L763.7 354.4L765.5 351.4L767.4 348.4L769.2 345.4L771.1 342.5L773.0 339.5L774.9 336.5L776.7 333.5L778.7 330.6L780.6 327.6L782.5 324.7L784.4 321.7L786.4 318.8L788.4 315.9L790.4 313.0L792.4 310.1L794.4 307.3L796.5 304.4L798.5 301.6L800.6 298.8L802.8 296.1L804.9 293.4L807.1 290.6L809.3 288.0L811.6 285.3L813.9 282.7L816.2 280.2L818.6 277.6L821.0 275.1L823.4 272.7L825.9 270.3L828.4 267.9L830.9 265.6L833.5 263.3L836.2 261.1L838.9 258.9L841.6 256.8L844.4 254.8L847.3 252.8L850.2 250.8L853.1 248.9L856.1 247.1L859.2 245.3L862.3 243.7L865.5 242.0L868.7 240.5L871.9 239.1L875.2 237.8L878.5 236.6L881.9 235.6L885.3 234.6L888.7 233.8L892.1 233.2L895.6 232.6L899.1 232.3L902.5 232.1L906.0 232.1L909.5 232.2L913.0 232.5L916.5 233.0L919.9 233.5L923.3 234.2L926.6 235.0L929.9 235.9L933.2 236.9L936.4 238.1L939.6 239.3L942.7 240.6L945.8 242.1L948.9 243.6L951.9 245.2L954.8 246.9L957.8 248.7L960.7 250.6L963.5 252.6L966.4 254.6L969.2 256.7L971.9 258.8L974.6 261.0L977.3 263.3L980.0 265.7L982.6 268.0L985.2 270.5L987.8 273.0L990.3 275.5L992.8 278.0L995.3 280.6L997.7 283.2L1000.1 285.9L1002.5 288.6L1004.9 291.3L1007.2 294.0L1009.5 296.7L1011.8 299.4L1014.1 302.2L1016.3 304.9L1018.5 307.7L1020.7 310.4L1022.9 313.2L1025.0 316.0L1027.1 318.7L1029.2 321.5L1031.3 324.3L1033.4 327.1L1035.4 329.9L1037.5 332.7L1039.5 335.6L1041.5 338.4L1043.5 341.2L1045.4 344.1L1047.4 346.9L1049.3 349.8L1051.3 352.7L1053.2 355.6L1055.1 358.4L1057.0 361.3L1058.8 364.2L1060.7 367.2L1062.6 370.1L1064.4 373.0L1066.3 375.9L1068.1 378.9L1069.9 381.8L1071.8 384.8L1073.6 387.8L1075.4 390.7L1077.2 393.7L1079.0 396.7L1080.7 399.7L1082.5 402.7L1084.3 405.7L1086.0 408.7L1087.8 411.7L1089.5 414.8L1091.3 417.8L1093.0 420.8L1094.7 423.9L1096.4 426.9L1098.1 430.0L1099.8 433.0L1101.5 436.1L1103.2 439.2L1104.9 442.2L1106.6 445.3L1108.3 448.4L1109.9 451.5L1111.6 454.5L1113.3 457.6L1114.9 460.7L1116.6 463.8L1118.2 466.9L1119.8 470.0L1121.5 473.1L1123.1 476.2L1124.7 479.3L1126.4 482.4L1128.0 485.6L1129.6 488.7L1131.2 491.8L1132.8 494.9L1134.4 498.0L1136.0 501.2L1137.6 504.3L1139.2 507.4L1140.8 510.5L1142.4 513.6L1144.0 516.8L1145.6 519.9L1147.2 523.0L1148.8 526.1L1150.4 529.3L1152.0 532.4L1153.6 535.5L1155.2 538.6L1156.7 541.8L1158.3 544.9L1159.9 548.0L1161.5 551.1L1163.1 554.2L1164.6 557.4L1166.2 560.5L1167.8 563.6L1169.4 566.7L1170.9 569.8L1172.5 572.9L1174.1 576.1L1175.7 579.2L1177.2 582.3L1178.8 585.4L1180.4 588.5L1182.0 591.6L1183.6 594.7L1185.1 597.9L1186.7 601.0L1188.3 604.1L1189.9 607.2L1191.4 610.3L1193.0 613.4L1194.6 616.5L1196.2 619.6L1197.8 622.7L1199.3 625.8L1200.9 628.9L1202.5 632.0L1204.1 635.1L1205.7 638.3L1207.2 641.4L1208.8 644.5L1210.4 647.6L1212.0 650.7L1213.6 653.8L1215.2 656.9L1216.8 660.0L1218.4 663.1L1220.0 666.2L1221.6 669.3L1223.2 672.4L1224.8 675.5L1226.4 678.5L1228.0 681.6L1229.6 684.7L1231.2 687.8L1232.8 690.9L1234.4 694.0L1236.1 697.1L1237.7 700.2L1239.3 703.3L1240.9 706.4L1242.6 709.5L1244.2 712.6L1245.8 715.7L1247.5 718.7L1249.1 721.8L1250.7 724.9L1252.4 728.0L1254.0 731.1L1255.7 734.2L1257.3 737.2L1259.0 740.3L1260.7 743.4L1262.3 746.5L1264.0 749.6L1265.7 752.6L1267.3 755.7L1269.0 758.8L1270.7 761.8L1272.4 764.9L1274.1 768.0L1275.8 771.0L1277.5 774.1L1279.2 777.1L1280.9 780.2L1282.6 783.2L1284.3 786.3L1286.1 789.3L1287.8 792.4L1289.5 795.4L1291.2 798.5L1293.0 801.5L1294.7 804.5L1296.5 807.6L1298.2 810.6L1300.0 813.6L1301.8 816.6L1303.5 819.6L1305.3 822.6L1307.1 825.7L1308.9 828.7L1310.7 831.7L1312.5 834.7L1314.3 837.6L1316.1 840.6L1317.9 843.6L1319.7 846.6L1321.5 849.6L1323.4 852.5L1325.2 855.5L1327.1 858.5L1328.9 861.4L1330.8 864.4L1332.6 867.3L1334.5 870.3L1336.4 873.2L1338.3 876.1L1340.2 879.1L1342.1 882.0L1344.0 884.9L1345.9 887.8L1347.8 890.7L1349.7 893.6L1351.6 896.5L1353.6 899.4L1355.5 902.3L1357.5 905.2L1359.4 908.1L1361.4 911.0L1363.3 913.9L1365.3 916.7L1367.3 919.6L1369.2 922.5L1371.2 925.3L1373.2 928.2L1375.2 931.1L1377.2 933.9L1379.2 936.8L1381.2 939.6L1383.2 942.4L1385.2 945.3L1387.3 948.1L1389.3 951.0L1391.3 953.8L1393.3 956.6L1395.4 959.5L1397.4 962.3L1399.5 965.1L1401.5 968.0L1403.5 970.8L1405.6 973.6L1407.7 976.4L1409.7 979.2L1411.8 982.1L1413.9 984.9L1415.9 987.7L1418.0 990.5L1420.1 993.3L1422.2 996.1L1424.3 998.9L1426.4 1001.7L1428.5 1004.5L1430.6 1007.3L1432.7 1010.1L1434.8 1012.8L1436.9 1015.6L1439.0 1018.4L1441.2 1021.2L1443.3 1023.9L1445.4 1026.7L1447.6 1029.5L1449.7 1032.2L1451.9 1035.0L1454.1 1037.7L1456.2 1040.5L1458.4 1043.2L1460.6 1045.9L1462.8 1048.7L1465.0 1051.4L1467.2 1054.1L1469.4 1056.8L1471.6 1059.6L1473.8 1062.3L1476.0 1065.0L1478.3 1067.7L1480.5 1070.4L1482.8 1073.0L1485.0 1075.7L1487.3 1078.4L1489.5 1081.1L1491.8 1083.7L1494.1 1086.4L1496.4 1089.0L1498.6 1091.7L1500.9 1094.3L1503.2 1097.0L1505.6 1099.6L1507.9 1102.2L1510.2 1104.8L1512.5 1107.4L1514.9 1110.0L1517.2 1112.6L1519.6 1115.2L1521.9 1117.8L1524.3 1120.3L1526.7 1122.9L1529.1 1125.4L1531.5 1128.0L1533.9 1130.5L1536.3 1133.1L1538.7 1135.6L1541.1 1138.1L1543.5 1140.6L1546.0 1143.1L1548.4 1145.6L1550.9 1148.1L1553.3 1150.5L1555.8 1153.0L1558.3 1155.5L1560.8 1157.9L1563.3 1160.4L1565.8 1162.8L1568.3 1165.2L1570.8 1167.6L1573.3 1170.0L1575.9 1172.4L1578.4 1174.8L1581.0 1177.2L1583.5 1179.5L1586.1 1181.9L1588.7 1184.2L1591.3 1186.5L1593.9 1188.9L1596.5 1191.2L1599.1 1193.5L1601.7 1195.8L1604.3 1198.0L1607.0 1200.3L1609.6 1202.6L1612.3 1204.8L1615.0 1207.0L1617.7 1209.3L1620.4 1211.5L1623.1 1213.7L1625.8 1215.9L1628.5 1218.1L1631.2 1220.2L1634.0 1222.4L1636.7 1224.5L1639.5 1226.6L1642.2 1228.8L1645.0 1230.9L1647.8 1233.0L1650.6 1235.0L1653.4 1237.1L1656.2 1239.2L1659.1 1241.2L1661.9 1243.2L1664.8 1245.3L1667.6 1247.3L1670.5 1249.3L1673.4 1251.2L1676.3 1253.2L1679.2 1255.2L1682.1 1257.1L1685.0 1259.0L1688.0 1260.9L1690.9 1262.8L1693.9 1264.7L1696.8 1266.6L1699.8 1268.5L1702.8 1270.3L1705.8 1272.2L1708.8 1274.0L1711.8 1275.8L1714.8 1277.6L1717.8 1279.4L1720.8 1281.2L1723.8 1283.0L1726.9 1284.7L1729.9 1286.5L1733.0 1288.2L1736.0 1290.0L1739.1 1291.7L1742.2 1293.4L1745.2 1295.1L1748.3 1296.8L1751.4 1298.5L1754.5 1300.2L1757.6 1301.9L1760.6 1303.5L1763.7 1305.2L1766.8 1306.8L1769.9 1308.5L1773.1 1310.1L1776.2 1311.7L1779.3 1313.3L1782.4 1314.9L1785.5 1316.5L1788.6 1318.1L1791.7 1319.7L1794.8 1321.3L1798.0 1322.8L1801.1 1324.4L1804.2 1326.0L1807.4 1327.5L1810.5 1329.0L1813.6 1330.5L1816.8 1332.1L1819.9 1333.6L1823.1 1335.1L1826.2 1336.5L1829.4 1338.0L1832.6 1339.5L1835.7 1340.9L1838.9 1342.3L1842.1 1343.8L1845.3 1345.2L1848.4 1346.6L1851.6 1347.9L1854.8 1349.3L1858.0 1350.7L1861.2 1352.0L1864.5 1353.3L1867.7 1354.7L1870.9 1356.0L1874.2 1357.2L1877.4 1358.5L1880.6 1359.8L1883.9 1361.0L1887.2 1362.2L1890.4 1363.4L1893.7 1364.6L1897.0 1365.8L1900.3 1367.0L1903.6 1368.1L1906.9 1369.3L1910.2 1370.4L1913.5 1371.5L1916.8 1372.6L1920.1 1373.7L1923.5 1374.7L1926.8 1375.8L1930.1 1376.8L1933.5 1377.9L1936.8 1378.9L1940.2 1379.9L1943.6 1380.9L1946.9 1381.9L1950.3 1382.8L1953.7 1383.8L1957.0 1384.7L1960.4 1385.6L1963.8 1386.6L1967.2 1387.5L1970.6 1388.3L1974.0 1389.2L1977.4 1390.1L1980.8 1391.0L1984.2 1391.8L1987.6 1392.6L1991.0 1393.5L1994.4 1394.3L1997.8 1395.1L2001.2 1395.9L2004.7 1396.7L2008.1 1397.4L2011.5 1398.2L2014.9 1399.0L2018.4 1399.7L2021.8 1400.4L2025.2 1401.2L2028.7 1401.9L2032.1 1402.6L2035.5 1403.3L2039.0 1404.0L2042.4 1404.7L2045.9 1405.4L2049.3 1406.0L2052.7 1406.7L2056.2 1407.3L2059.6 1408.0L2063.1 1408.6L2066.5 1409.2L2069.9 1409.9L2073.4 1410.5L2076.8 1411.1L2080.3 1411.7L2083.7 1412.3L2087.2 1412.9L2090.6 1413.4L2094.0 1414.0L2097.5 1414.6L2100.9 1415.1L2104.3 1415.7L2107.8 1416.2L2111.2 1416.8L2114.6 1417.3L2118.1 1417.8L2121.5 1418.4L2124.5 1418.8" stroke="#808080"/>
</g>
<g font-family="'Liberation Sans', Arial, sans-serif" font-size="57" fill="#000" stroke="#000" stroke-width="0.5">
<text x="201.5" y="1472.5" text-anchor="end">0</text>
<text x="201.5" y="1191.5" text-anchor="end">5</text>
<text x="201.5" y="910.5" text-anchor="end">10</text>
<text x="201.5" y="629.5" text-anchor="end">15</text>
<text x="201.5" y="348.5" text-anchor="end">20</text>
<text x="201.5" y="67.5" text-anchor="end">25</text>
<text x="546.8" y="1531.5" text-anchor="middle">500</text>
<text x="1072.4" y="1531.5" text-anchor="middle">550</text>
<text x="1597.9" y="1531.5" text-anchor="middle">600</text>
<text x="2123.5" y="1531.5" text-anchor="middle">650</text>
</g>
<g font-family="'Liberation Sans', Arial, sans-serif" fill="#000" stroke="#000" stroke-width="0.5">
<text x="289" y="156" font-size="69.5">T = 293 K</text>
<text transform="translate(87.3,905) rotate(-90)" font-size="69">I x 10<tspan font-size="43" dy="-37">2</tspan></text>
<text x="1080" y="1645" font-size="55" font-family="'Noto Serif CJK SC', serif" font-style="italic" stroke-width="1.2">&#955;</text>
<text x="1135" y="1645" font-size="69.5">(nm)</text>
<text x="1729" y="319" font-size="69" font-style="italic">C</text>
<text x="1777" y="347.3" font-size="42">ELP</text>
<text x="1872" y="318.6" font-size="69">=</text>
<text x="1933" y="317.2" font-size="68.5">10</text>
<text x="2009" y="281.9" font-size="41">-</text>
<text x="2021" y="281.9" font-size="42.5">2</text>
<text x="1753" y="1223.7" font-size="69" font-style="italic">C</text>
<text x="1802" y="1249.8" font-size="42">ELP</text>
<text x="1897" y="1223.7" font-size="69">=</text>
<text x="1959" y="1222.3" font-size="68.5">10</text>
<text x="2033" y="1184.2" font-size="41">-</text>
<text x="2048" y="1184.2" font-size="41">6</text>
</g>
<g fill="#fff"><rect x="141.44" y="904.04" width="10.84" height="7.96"/><rect x="157.62" y="904.04" width="10.55" height="7.96"/><rect x="141.44" y="623.04" width="10.84" height="7.96"/><rect x="157.62" y="623.04" width="10.55" height="7.96"/><rect x="1937.22" y="309.88" width="12.86" height="8.82"/><rect x="1956.43" y="309.88" width="12.47" height="8.82"/><rect x="1963.22" y="1214.98" width="12.86" height="8.82"/><rect x="1982.43" y="1214.98" width="12.47" height="8.82"/><g transform="translate(87.3,905) rotate(-90)"><rect x="96.27" y="-7.35" width="12.95" height="8.85"/><rect x="115.61" y="-7.35" width="12.56" height="8.85"/></g></g>
<path d="M1896.4 1141V380" stroke="#000" stroke-width="3.2" fill="none"/>
<path d="M1895 350.2L1898 350.2L1906 387.7L1887 387.7Z" fill="#000"/>
</svg>
</body></html>
